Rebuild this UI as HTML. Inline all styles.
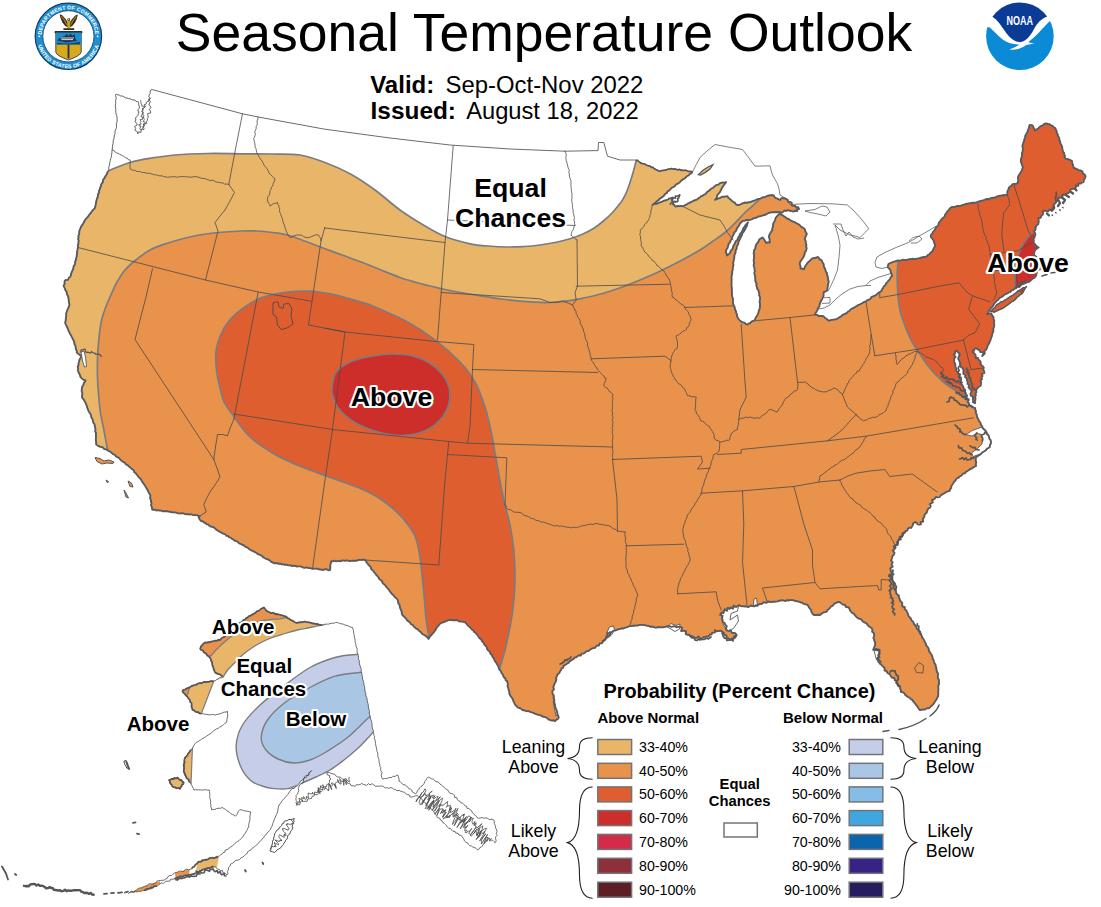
<!DOCTYPE html>
<html lang="en"><head><meta charset="utf-8"><title>Seasonal Temperature Outlook</title>
<style>
html,body{margin:0;padding:0;background:#fff;}
body{width:1101px;height:907px;overflow:hidden;}
svg{display:block;}
text{font-family:"Liberation Sans",Arial,Helvetica,sans-serif;fill:#000;}
.b{font-weight:bold;}
.halo{paint-order:stroke fill;stroke:#fff;stroke-width:4.2px;stroke-linejoin:round;}
.bd{fill:none;stroke:#4a4a4c;stroke-width:0.8;stroke-linejoin:round;stroke-linecap:round;}
.lk{fill:none;stroke:#4a4a4c;stroke-width:0.7;stroke-linejoin:round;}
.ct{fill:none;stroke:#7b7c80;stroke-width:1.7;stroke-linejoin:round;}
.cs{fill:none;stroke:#55565a;stroke-width:1.5;stroke-linejoin:round;}
.sw{stroke:#737478;stroke-width:1.5;}
.lg{font-size:14.2px;}
.cat{font-size:17.8px;text-anchor:middle;}
.br{fill:none;stroke:#222;stroke-width:1.1;}
</style></head><body>
<svg width="1101" height="907" viewBox="0 0 1101 907">
<rect width="1101" height="907" fill="#fff"/>
<defs>
<clipPath id="land"><path d="M116.0 94.0 L124.0 97.0 L133.0 100.0 L139.0 102.0 L138.0 110.0 L136.0 120.0 L135.0 130.0 L138.0 134.0 L143.0 128.0 L147.0 120.0 L150.0 111.0 L149.0 100.0 L150.0 93.0 L151.8 89.5 L242.5 113.8 L258.2 117.0 L324.8 129.2 L390.0 138.0 L450.0 145.0 L510.0 149.0 L565.0 151.2 L598.0 150.6 L598.5 142.5 L603.8 142.5 L607.5 156.2 L620.0 160.0 L636.2 160.0 L640.0 162.5 L650.0 166.2 L660.0 171.2 L670.0 168.8 L682.5 170.0 L692.5 172.0 L682.0 180.0 L672.5 187.5 L662.0 197.0 L652.5 205.0 L660.0 202.5 L672.5 197.5 L673.0 204.0 L675.0 206.2 L682.5 206.2 L691.0 202.0 L700.0 197.5 L710.0 190.0 L717.0 185.0 L722.5 182.5 L726.0 182.0 L721.0 190.0 L715.0 200.0 L721.0 197.5 L727.5 196.2 L732.0 201.0 L737.5 205.0 L744.0 203.0 L750.0 202.5 L760.0 198.8 L766.0 196.5 L772.5 195.0 L776.0 198.0 L780.0 200.0 L784.0 198.5 L787.5 200.0 L792.0 205.0 L799.0 209.0 L797.0 211.5 L790.0 210.5 L783.0 211.5 L780.0 212.5 L770.0 212.5 L760.0 216.2 L752.0 219.5 L747.0 219.8 L742.7 220.8 L739.7 224.5 L736.7 229.0 L733.7 234.5 L730.7 240.4 L728.0 246.5 L725.7 252.4 L727.0 255.5 L730.2 252.4 L733.2 246.5 L736.4 240.8 L739.4 235.4 L742.4 230.4 L745.0 226.2 L747.8 222.3 L746.0 227.5 L743.5 232.0 L741.0 236.9 L738.5 242.0 L736.5 247.5 L735.0 253.5 L733.7 260.0 L732.7 268.5 L731.8 276.0 L731.5 284.6 L732.5 297.0 L733.8 305.8 L735.0 309.5 L737.0 316.0 L740.0 320.8 L747.5 324.5 L755.0 319.5 L758.5 313.0 L760.0 307.0 L760.0 297.0 L757.0 287.0 L755.0 277.5 L753.8 260.0 L754.0 252.0 L756.0 245.0 L759.0 240.0 L762.5 237.5 L766.0 243.0 L770.0 242.5 L769.0 236.0 L772.5 230.0 L773.0 225.0 L775.0 220.0 L777.0 216.0 L780.0 213.8 L788.7 219.0 L797.5 223.9 L804.7 229.3 L806.9 233.7 L804.7 238.0 L806.9 248.2 L803.3 257.0 L799.7 262.8 L800.4 268.6 L804.0 269.3 L807.7 262.8 L812.0 258.4 L817.8 257.0 L822.2 261.3 L825.1 268.6 L828.0 277.3 L828.8 281.7 L827.3 290.4 L823.7 291.9 L822.9 297.7 L820.0 303.5 L817.8 309.4 L814.9 314.5 L819.0 316.0 L823.7 316.6 L828.0 320.3 L835.3 319.5 L845.5 313.7 L855.7 306.4 L865.9 301.4 L873.2 296.3 L880.4 291.9 L886.3 283.2 L892.1 275.9 L890.6 270.1 L887.7 267.1 L888.4 264.2 L895.0 261.3 L897.9 260.6 L911.0 259.1 L918.3 258.4 L925.6 257.0 L932.8 251.1 L935.0 245.3 L932.8 239.5 L930.6 236.6 L932.8 232.2 L937.2 226.4 L940.0 221.3 L943.5 217.5 L947.0 212.0 L951.0 207.5 L964.0 204.7 L977.2 202.0 L992.0 198.0 L1007.4 194.1 L1008.7 187.7 L1013.8 183.9 L1017.6 183.2 L1018.3 176.8 L1022.7 167.9 L1020.8 160.2 L1022.7 151.2 L1022.7 144.8 L1026.6 133.3 L1029.8 125.0 L1033.0 125.6 L1034.9 130.7 L1039.5 127.2 L1044.5 123.7 L1049.6 124.3 L1055.4 128.2 L1058.6 137.1 L1062.4 148.7 L1065.6 158.9 L1072.0 160.8 L1074.0 167.9 L1077.8 169.8 L1081.0 170.4 L1085.5 176.2 L1083.5 180.0 L1078.0 185.5 L1072.5 189.2 L1067.9 192.8 L1064.2 194.7 L1060.6 197.4 L1057.0 200.0 L1055.0 204.0 L1051.4 210.3 L1045.9 211.2 L1042.2 212.0 L1043.1 214.9 L1038.5 218.5 L1037.6 224.0 L1035.8 229.5 L1034.4 233.2 L1034.9 237.8 L1033.0 242.4 L1036.7 246.1 L1038.5 247.4 L1034.9 250.6 L1033.9 255.2 L1036.5 257.0 L1039.0 263.0 L1042.0 268.5 L1038.0 270.0 L1036.8 274.0 L1031.6 279.9 L1025.0 283.5 L1016.2 287.9 L1007.4 293.0 L998.7 298.9 L994.0 304.0 L989.9 309.9 L986.9 314.3 L991.3 313.6 L993.5 317.0 L994.3 320.9 L994.0 327.0 L992.8 332.6 L991.0 338.0 L988.4 344.4 L985.5 350.0 L982.5 356.0 L983.5 353.2 L980.0 350.0 L976.0 348.2 L972.2 350.8 L975.5 356.0 L979.8 360.8 L982.0 365.0 L983.5 369.5 L982.5 376.0 L981.0 382.0 L978.5 387.0 L976.0 392.0 L975.0 398.0 L974.8 403.2 L972.5 399.0 L971.0 392.0 L969.0 387.0 L967.2 382.0 L965.5 377.0 L963.5 372.0 L961.5 367.0 L959.8 362.0 L959.0 357.0 L958.5 352.0 L956.5 350.5 L954.8 353.2 L954.2 362.0 L955.5 367.0 L957.2 372.0 L959.0 377.0 L961.0 382.0 L963.0 387.0 L964.8 392.0 L966.5 397.5 L968.5 403.2 L970.5 405.5 L972.2 407.0 L974.8 408.2 L976.5 414.0 L978.5 419.5 L982.0 426.0 L986.0 432.0 L989.0 437.0 L991.0 442.0 L989.8 447.0 L983.0 452.0 L976.0 457.0 L976.0 465.8 L966.0 472.0 L956.0 479.5 L952.0 485.0 L949.8 490.8 L943.0 494.0 L936.0 497.0 L931.0 503.0 L927.2 509.5 L924.0 517.0 L921.0 524.0 L915.0 522.5 L908.0 529.0 L902.5 535.0 L898.0 541.0 L895.0 547.5 L892.5 556.0 L891.2 565.0 L891.5 573.0 L892.5 580.0 L896.0 590.0 L900.0 600.0 L905.0 609.0 L910.0 617.5 L915.0 625.0 L920.0 632.5 L925.0 642.5 L930.0 652.5 L933.5 660.0 L936.2 667.5 L938.0 675.0 L938.8 682.5 L938.5 690.0 L937.5 697.5 L934.0 703.0 L930.0 707.5 L925.0 709.5 L920.0 710.0 L916.0 705.0 L912.5 700.0 L907.0 696.0 L902.5 692.5 L898.5 686.0 L895.0 680.0 L891.0 676.0 L887.5 672.5 L882.0 666.0 L877.5 660.0 L880.0 654.0 L879.5 650.0 L873.5 650.0 L875.0 642.5 L874.0 636.0 L872.5 630.0 L869.0 626.0 L865.0 622.5 L860.0 619.0 L855.0 615.0 L850.0 610.0 L845.0 605.0 L841.0 603.0 L837.5 602.5 L833.5 604.5 L830.0 607.5 L825.0 612.0 L820.0 615.0 L816.0 615.0 L812.5 613.8 L810.0 609.0 L807.5 605.0 L803.5 603.5 L800.0 602.5 L795.0 601.0 L790.0 600.0 L784.0 600.5 L777.5 601.2 L771.0 602.0 L765.0 602.5 L759.0 604.5 L752.5 606.2 L745.0 606.5 L737.5 606.2 L731.0 608.0 L725.0 610.0 L721.0 612.5 L720.0 615.0 L722.5 620.0 L725.0 625.0 L727.5 630.0 L732.0 632.5 L736.2 635.0 L734.0 638.5 L730.0 640.0 L726.0 636.0 L722.5 632.5 L718.5 631.0 L715.0 630.0 L712.5 633.0 L710.0 635.0 L705.0 636.5 L700.0 637.5 L693.5 636.5 L687.5 635.0 L683.5 631.0 L680.0 627.5 L675.0 626.5 L670.0 626.2 L662.0 627.0 L655.0 627.5 L648.5 626.0 L642.5 625.0 L636.0 625.5 L630.0 626.2 L625.0 627.5 L620.0 628.8 L616.0 630.0 L612.5 631.2 L607.5 637.0 L602.5 642.5 L596.0 646.5 L590.0 650.0 L583.5 653.5 L577.5 656.2 L571.0 660.5 L565.0 665.0 L561.0 670.0 L557.5 675.0 L554.5 684.0 L552.5 692.5 L553.5 699.0 L555.0 705.0 L557.0 711.0 L558.8 717.5 L555.0 721.2 L544.0 717.0 L532.5 712.5 L525.0 710.5 L517.5 707.5 L513.5 701.5 L510.0 695.0 L508.5 688.5 L507.5 682.5 L503.5 676.0 L500.0 670.0 L495.0 661.0 L490.0 652.5 L484.0 643.5 L477.5 635.0 L471.0 628.5 L465.0 622.5 L457.5 620.5 L450.0 620.0 L445.0 621.5 L440.0 623.8 L434.5 631.0 L428.8 638.8 L422.0 633.5 L415.0 627.5 L408.5 621.5 L402.5 615.0 L400.0 607.5 L397.5 600.0 L391.0 592.5 L385.0 585.0 L378.5 577.5 L372.5 570.0 L368.5 565.0 L365.0 560.0 L331.2 561.2 L330.0 570.0 L312.5 568.8 L272.5 562.5 L236.0 541.0 L200.0 520.0 L198.8 517.5 L200.0 515.8 L152.0 509.5 L151.0 502.0 L150.0 494.5 L146.5 488.0 L142.5 482.0 L137.5 475.5 L132.5 469.5 L125.0 463.0 L117.5 457.0 L112.0 453.0 L106.2 449.5 L101.0 447.0 L96.2 444.5 L96.0 436.0 L95.0 427.0 L92.0 418.5 L89.2 412.0 L86.3 405.2 L81.9 396.4 L81.9 387.7 L85.6 380.4 L80.5 377.5 L77.6 370.2 L79.0 361.5 L81.2 355.7 L76.8 352.8 L75.4 345.5 L72.5 338.2 L69.6 332.4 L65.2 322.2 L66.6 312.0 L69.6 304.7 L68.1 296.0 L63.7 285.8 L65.2 280.0 L68.0 280.0 L71.0 275.0 L73.5 267.5 L76.0 260.0 L77.0 252.5 L78.0 245.0 L78.5 237.5 L79.5 230.0 L82.0 225.0 L85.0 220.0 L90.0 214.0 L95.0 207.5 L97.5 197.5 L100.0 187.5 L104.0 179.0 L108.0 171.0 L110.0 162.0 L112.0 152.5 L112.5 145.0 L114.0 137.5 L115.5 130.0 L116.5 125.0 L117.0 120.0 L116.0 112.5 L115.5 105.0Z"/><path d="M990.6 311.4 L998.7 303.6 L1008.9 297.7 L1019.2 290.4 L1026.5 286.5 L1023.0 292.6 L1014.0 300.3 L1003.5 307.8 L994.5 312.3Z"/></clipPath>
<clipPath id="ak"><path d="M200.0 648.8 L202.0 645.0 L205.0 642.5 L212.0 641.5 L220.0 640.0 L227.5 634.0 L235.0 627.5 L241.0 622.0 L247.5 617.5 L254.0 613.5 L260.0 610.0 L263.8 607.5 L266.5 610.5 L270.0 612.5 L277.5 614.0 L285.0 616.2 L290.0 619.5 L295.0 622.5 L302.5 622.0 L310.0 622.5 L316.0 624.0 L322.5 625.0 L330.0 623.5 L337.5 622.5 L345.0 625.0 L352.5 627.5 L375.0 740.0 L382.7 779.0 L391.8 777.2 L398.2 775.4 L399.0 780.9 L406.3 786.3 L415.4 793.6 L422.7 784.5 L428.1 777.2 L433.6 779.0 L442.7 786.3 L451.7 793.6 L460.8 802.7 L469.9 809.9 L477.2 817.2 L493.5 819.9 L497.2 831.7 L495.3 842.6 L486.3 837.2 L482.6 846.3 L477.2 849.9 L468.1 844.5 L460.8 835.4 L451.7 829.9 L442.7 822.7 L433.6 811.8 L424.5 802.7 L417.2 795.4 L411.8 797.2 L402.7 791.8 L393.6 789.0 L380.9 786.3 L370.0 784.5 L361.8 783.6 L353.1 785.8 L346.0 781.0 L340.0 777.0 L333.0 774.0 L326.9 772.7 L331.3 779.2 L327.0 785.0 L322.6 790.1 L314.0 796.0 L305.1 801.0 L296.4 805.4 L297.5 794.0 L300.8 783.6 L306.0 777.0 L311.7 770.5 L305.0 777.0 L300.8 781.4 L294.0 788.0 L287.7 794.5 L283.0 800.0 L279.0 805.4 L278.0 810.0 L276.8 814.1 L273.5 822.0 L270.3 829.4 L264.0 837.0 L257.2 844.6 L250.5 850.0 L244.1 855.5 L237.5 860.0 L231.0 864.2 L228.5 870.0 L226.7 875.1 L222.3 870.8 L213.6 866.4 L202.7 869.9 L191.8 874.3 L174.4 878.6 L156.9 886.0 L143.9 890.4 L128.6 893.4 L139.5 888.2 L150.4 883.9 L165.6 879.5 L174.4 873.0 L191.8 868.6 L198.3 862.0 L209.2 858.6 L218.0 856.8 L231.0 846.8 L241.9 838.1 L248.5 827.2 L250.7 811.9 L239.8 809.7 L235.4 816.3 L222.3 807.6 L211.4 809.7 L209.2 790.0 L194.0 790.0 L190.0 782.5 L186.0 776.5 L183.8 770.0 L184.0 763.5 L185.0 757.5 L188.0 753.5 L191.2 750.0 L193.5 746.0 L196.2 742.5 L200.5 740.0 L205.0 737.5 L210.0 734.0 L215.0 730.0 L221.0 726.5 L226.2 722.5 L227.5 717.0 L227.5 711.2 L221.0 713.5 L215.0 715.0 L208.0 714.5 L201.2 713.8 L196.5 712.0 L192.5 710.0 L191.5 705.0 L190.0 700.0 L186.0 695.5 L182.5 691.2 L186.5 688.5 L190.0 687.0 L197.5 683.8 L206.0 682.0 L213.8 681.2 L218.0 679.0 L222.5 676.2 L218.5 674.0 L215.0 672.5 L212.5 665.0 L210.0 657.5 L205.0 653.0ZM168.8 780.0 L177.5 777.5 L183.8 782.5 L180.0 788.8 L172.5 786.2ZM270.3 851.2 L274.6 833.7 L285.5 820.6 L294.2 818.5 L292.1 829.4 L283.3 844.6 L274.6 852.5ZM124.0 761.0 L126.0 760.5 L128.0 765.0 L129.5 769.0 L127.0 768.0 L125.0 764.5Z"/></clipPath>
<clipPath id="filled"><path d="M100.0 176.0 C101.3 175.2 103.0 173.2 108.0 171.0 C113.0 168.8 122.7 164.7 130.0 162.5 C137.3 160.3 144.5 159.2 152.0 158.0 C159.5 156.8 165.7 155.8 175.0 155.0 C184.3 154.2 196.8 153.7 208.0 153.5 C219.2 153.3 231.8 153.7 242.5 153.8 C253.2 153.8 262.4 153.8 272.0 154.0 C281.6 154.2 291.2 153.6 300.0 155.0 C308.8 156.4 316.7 159.4 325.0 162.5 C333.3 165.6 341.7 169.2 350.0 173.8 C358.3 178.3 366.7 184.0 375.0 190.0 C383.3 196.0 391.7 204.0 400.0 210.0 C408.3 216.0 417.5 221.6 425.0 226.0 C432.5 230.4 437.5 233.5 445.0 236.5 C452.5 239.5 462.8 242.2 470.0 243.8 C477.2 245.3 481.8 245.5 488.0 246.0 C494.2 246.5 501.5 246.9 507.5 247.0 C513.5 247.1 518.6 246.8 524.0 246.5 C529.4 246.2 534.8 245.7 540.0 245.0 C545.2 244.3 550.0 243.5 555.0 242.5 C560.0 241.5 565.3 240.2 570.0 238.8 C574.7 237.3 578.8 235.9 583.0 234.0 C587.2 232.1 591.5 229.8 595.0 227.5 C598.5 225.2 601.1 223.0 604.0 220.5 C606.9 218.0 610.2 214.9 612.5 212.5 C614.8 210.1 616.3 208.1 618.0 206.0 C619.7 203.9 621.0 202.5 622.5 200.0 C624.0 197.5 625.8 193.9 627.0 191.0 C628.2 188.1 628.9 185.8 630.0 182.5 C631.1 179.2 632.5 174.7 633.5 171.0 C634.5 167.3 635.5 164.0 636.2 160.5 C637.0 157.0 637.7 151.8 638.0 150.0 L640 60 L1101 60 L1101 907 L0 907 L0 176 Z"/></clipPath>
<path id="sealTop" d="M41.5 36.3 A26.9 26.9 0 0 1 95.3 36.3"/>
<path id="sealBot" d="M36.6 36.3 A31.8 31.8 0 0 0 100.2 36.3"/>
</defs>
<g clip-path="url(#land)">
<rect x="50" y="80" width="1051" height="660" fill="#E9B569"/>
<path d="M100.0 176.0 C101.3 175.2 103.0 173.2 108.0 171.0 C113.0 168.8 122.7 164.7 130.0 162.5 C137.3 160.3 144.5 159.2 152.0 158.0 C159.5 156.8 165.7 155.8 175.0 155.0 C184.3 154.2 196.8 153.7 208.0 153.5 C219.2 153.3 231.8 153.7 242.5 153.8 C253.2 153.8 262.4 153.8 272.0 154.0 C281.6 154.2 291.2 153.6 300.0 155.0 C308.8 156.4 316.7 159.4 325.0 162.5 C333.3 165.6 341.7 169.2 350.0 173.8 C358.3 178.3 366.7 184.0 375.0 190.0 C383.3 196.0 391.7 204.0 400.0 210.0 C408.3 216.0 417.5 221.6 425.0 226.0 C432.5 230.4 437.5 233.5 445.0 236.5 C452.5 239.5 462.8 242.2 470.0 243.8 C477.2 245.3 481.8 245.5 488.0 246.0 C494.2 246.5 501.5 246.9 507.5 247.0 C513.5 247.1 518.6 246.8 524.0 246.5 C529.4 246.2 534.8 245.7 540.0 245.0 C545.2 244.3 550.0 243.5 555.0 242.5 C560.0 241.5 565.3 240.2 570.0 238.8 C574.7 237.3 578.8 235.9 583.0 234.0 C587.2 232.1 591.5 229.8 595.0 227.5 C598.5 225.2 601.1 223.0 604.0 220.5 C606.9 218.0 610.2 214.9 612.5 212.5 C614.8 210.1 616.3 208.1 618.0 206.0 C619.7 203.9 621.0 202.5 622.5 200.0 C624.0 197.5 625.8 193.9 627.0 191.0 C628.2 188.1 628.9 185.8 630.0 182.5 C631.1 179.2 632.5 174.7 633.5 171.0 C634.5 167.3 635.5 164.0 636.2 160.5 C637.0 157.0 637.7 151.8 638.0 150.0 L640 60 L60 60 L60 180 Z" fill="#fff"/>
<path d="M110.0 462.0 C109.6 459.9 108.5 454.9 107.5 449.5 C106.5 444.1 104.9 435.6 103.8 429.5 C102.6 423.4 101.3 418.4 100.5 413.0 C99.7 407.6 99.2 402.8 98.8 397.0 C98.2 391.2 97.7 384.2 97.5 378.0 C97.3 371.8 97.3 365.8 97.5 359.5 C97.7 353.2 98.1 346.2 98.8 340.0 C99.4 333.8 100.2 327.2 101.2 322.0 C102.3 316.8 103.5 313.2 105.0 309.0 C106.5 304.8 108.1 301.3 110.0 297.0 C111.9 292.7 114.0 287.5 116.5 283.0 C119.0 278.5 121.7 273.9 125.0 270.0 C128.3 266.1 132.3 262.8 136.5 259.5 C140.7 256.2 144.8 252.8 150.0 250.0 C155.2 247.2 161.8 245.1 168.0 243.0 C174.2 240.9 181.2 239.0 187.5 237.5 C193.8 236.0 199.8 234.9 206.0 234.0 C212.2 233.1 219.2 232.5 225.0 232.0 C230.8 231.5 235.6 231.2 241.0 231.0 C246.4 230.8 252.2 230.8 257.5 231.0 C262.8 231.2 267.5 231.8 272.5 232.5 C277.5 233.2 281.9 233.5 287.5 235.0 C293.1 236.5 299.8 239.2 306.0 241.5 C312.2 243.8 318.8 246.4 325.0 248.8 C331.2 251.1 337.2 253.2 343.5 255.5 C349.8 257.8 356.2 260.1 362.5 262.5 C368.8 264.9 374.8 267.5 381.0 270.0 C387.2 272.5 393.5 275.2 400.0 277.5 C406.5 279.8 412.5 281.5 420.0 283.5 C427.5 285.5 437.8 287.9 445.0 289.5 C452.2 291.1 457.2 291.9 463.5 293.0 C469.8 294.1 476.2 295.2 482.5 296.2 C488.8 297.2 494.8 298.2 501.0 299.0 C507.2 299.8 514.3 300.7 520.0 301.2 C525.7 301.8 530.0 302.0 535.0 302.2 C540.0 302.5 545.0 302.7 550.0 302.5 C555.0 302.3 560.0 301.9 565.0 301.2 C570.0 300.6 575.0 299.7 580.0 298.8 C585.0 297.8 590.0 296.8 595.0 295.5 C600.0 294.2 605.0 292.8 610.0 291.2 C615.0 289.7 620.0 287.9 625.0 286.0 C630.0 284.1 635.0 282.1 640.0 280.0 C645.0 277.9 650.0 275.8 655.0 273.5 C660.0 271.2 665.0 268.8 670.0 266.2 C675.0 263.8 680.0 261.2 685.0 258.5 C690.0 255.8 695.4 252.8 700.0 250.0 C704.6 247.2 708.3 244.4 712.5 241.5 C716.7 238.6 721.2 235.6 725.0 232.5 C728.8 229.4 731.7 226.3 735.0 223.0 C738.3 219.7 742.1 215.3 745.0 212.5 C747.9 209.7 750.0 208.3 752.5 206.0 C755.0 203.7 757.4 201.2 760.0 198.8 C762.6 196.2 765.3 193.6 768.0 191.0 C770.7 188.4 774.7 184.3 776.0 183.0 L800 150 L1101 150 L1101 800 L110 800 Z" fill="#E8924B"/>
<path d="M258.2 299.1 C263.1 296.9 267.9 295.9 272.8 294.7 C277.7 293.5 281.2 292.7 287.3 292.1 C293.4 291.5 301.9 290.8 309.2 291.1 C316.5 291.4 324.9 292.9 331.0 294.0 C337.1 295.1 340.8 296.4 345.6 297.7 C350.4 299.0 355.1 300.2 360.0 301.8 C364.9 303.4 367.1 303.6 375.0 307.0 C382.9 310.4 397.3 316.4 407.5 322.0 C417.7 327.6 427.5 334.1 436.2 340.8 C445.0 347.4 453.5 355.1 460.0 362.0 C466.5 368.9 470.8 374.5 475.0 382.0 C479.2 389.5 482.3 398.7 485.0 407.0 C487.7 415.3 489.2 422.0 491.2 432.0 C493.3 442.0 495.4 455.7 497.5 467.0 C499.6 478.3 501.7 490.3 503.8 500.0 C505.8 509.7 508.3 516.7 510.0 525.0 C511.7 533.3 512.9 540.8 513.8 550.0 C514.6 559.2 515.2 569.6 515.0 580.0 C514.8 590.4 514.0 601.7 512.5 612.5 C511.0 623.3 508.3 635.8 506.2 645.0 C504.2 654.2 502.0 660.0 500.0 667.5 C498.0 675.0 506.0 691.2 494.0 690.0 C482.0 688.8 438.9 668.5 428.0 660.0 C417.1 651.5 429.0 645.4 428.8 638.8 C428.5 632.1 427.1 627.7 426.2 620.0 C425.4 612.3 424.7 601.9 423.8 592.5 C422.8 583.1 421.7 570.9 420.8 563.7 C419.9 556.5 419.6 553.8 418.6 549.2 C417.6 544.6 416.8 540.1 415.0 536.0 C413.2 531.9 410.4 528.0 407.7 524.4 C405.0 520.8 402.4 517.6 399.0 514.2 C395.6 510.8 391.2 507.0 387.3 504.0 C383.4 501.0 380.1 498.5 375.7 496.0 C371.3 493.5 366.4 491.1 361.1 488.8 C355.8 486.5 349.6 484.4 343.7 482.2 C337.8 480.0 332.8 478.4 325.5 475.7 C318.2 473.0 308.4 469.7 300.0 466.2 C291.6 462.7 283.3 459.4 275.0 454.5 C266.7 449.6 257.1 443.7 250.0 437.0 C242.9 430.3 236.8 420.3 232.5 414.5 C228.2 408.7 226.0 406.2 224.0 402.0 C222.0 397.8 221.6 394.4 220.4 389.4 C219.2 384.4 217.4 378.2 216.7 371.9 C216.0 365.6 215.4 357.6 216.0 351.5 C216.6 345.4 218.2 340.6 220.4 335.5 C222.6 330.4 225.2 325.5 229.1 320.9 C233.0 316.3 238.8 311.4 243.7 307.8 C248.5 304.2 253.3 301.3 258.2 299.1Z" fill="#DF5E30"/>
<path d="M897.9 250.0 C897.9 251.8 898.0 256.1 897.9 260.6 C897.8 265.2 897.2 271.6 897.2 277.3 C897.2 283.0 897.4 289.2 897.9 294.8 C898.4 300.4 899.1 306.1 900.1 310.8 C901.1 315.5 902.6 319.1 904.0 323.0 C905.4 326.9 907.0 331.1 908.5 334.5 C910.0 337.9 911.3 340.6 913.0 343.5 C914.7 346.4 916.6 349.1 918.5 352.0 C920.4 354.9 922.4 358.1 924.5 361.0 C926.6 363.9 928.9 367.0 931.0 369.5 C933.1 372.0 934.9 373.9 937.0 376.0 C939.1 378.1 941.4 380.2 943.5 382.0 C945.6 383.8 947.4 385.0 949.5 386.5 C951.6 388.0 953.2 389.0 956.0 390.8 C958.8 392.5 962.7 395.0 966.0 397.0 C969.3 399.0 972.0 400.7 976.0 403.0 C980.0 405.3 987.7 409.7 990.0 411.0 L1101 420 L1101 100 L897.9 100 Z" fill="#DF5E30"/>
<path d="M332.0 387.0 C332.6 383.2 333.2 376.2 336.2 372.0 C339.2 367.8 344.4 364.6 350.0 362.0 C355.6 359.4 363.1 357.8 370.0 356.5 C376.9 355.2 384.2 354.1 391.2 354.0 C398.3 353.9 406.0 354.2 412.5 355.8 C419.0 357.3 425.0 360.1 430.0 363.2 C435.0 366.4 439.2 370.1 442.5 374.5 C445.8 378.9 448.5 384.5 449.5 389.5 C450.5 394.5 449.9 399.9 448.8 404.5 C447.6 409.1 445.6 413.0 442.5 417.0 C439.4 421.0 435.0 425.3 430.0 428.2 C425.0 431.2 418.8 433.4 412.5 434.5 C406.2 435.6 399.6 435.8 392.5 435.0 C385.4 434.2 377.1 432.1 370.0 429.5 C362.9 426.9 355.4 423.2 350.0 419.5 C344.6 415.8 340.4 411.2 337.5 407.0 C334.6 402.8 333.4 397.8 332.5 394.5 C331.6 391.2 331.4 390.8 332.0 387.0Z" fill="#CD2E29"/>
<path d="M1040.0 224.0 C1036.0 224.0 1038.0 227.8 1036.0 230.0 C1034.0 232.2 1030.3 234.6 1028.0 237.3 C1025.7 240.0 1023.8 242.9 1022.1 246.1 C1020.4 249.3 1018.8 253.0 1017.7 256.4 C1016.6 259.8 1016.0 263.0 1015.5 266.7 C1015.0 270.4 1014.7 274.5 1014.8 278.4 C1014.9 282.3 1013.7 287.2 1016.2 290.0 C1018.7 292.8 1022.7 296.7 1030.0 295.0 C1037.3 293.3 1055.0 290.8 1060.0 280.0 C1065.0 269.2 1063.3 239.3 1060.0 230.0 C1056.7 220.7 1044.0 224.0 1040.0 224.0Z" fill="#CD2E29"/>
<path class="ct" d="M100.0 176.0 C101.3 175.2 103.0 173.2 108.0 171.0 C113.0 168.8 122.7 164.7 130.0 162.5 C137.3 160.3 144.5 159.2 152.0 158.0 C159.5 156.8 165.7 155.8 175.0 155.0 C184.3 154.2 196.8 153.7 208.0 153.5 C219.2 153.3 231.8 153.7 242.5 153.8 C253.2 153.8 262.4 153.8 272.0 154.0 C281.6 154.2 291.2 153.6 300.0 155.0 C308.8 156.4 316.7 159.4 325.0 162.5 C333.3 165.6 341.7 169.2 350.0 173.8 C358.3 178.3 366.7 184.0 375.0 190.0 C383.3 196.0 391.7 204.0 400.0 210.0 C408.3 216.0 417.5 221.6 425.0 226.0 C432.5 230.4 437.5 233.5 445.0 236.5 C452.5 239.5 462.8 242.2 470.0 243.8 C477.2 245.3 481.8 245.5 488.0 246.0 C494.2 246.5 501.5 246.9 507.5 247.0 C513.5 247.1 518.6 246.8 524.0 246.5 C529.4 246.2 534.8 245.7 540.0 245.0 C545.2 244.3 550.0 243.5 555.0 242.5 C560.0 241.5 565.3 240.2 570.0 238.8 C574.7 237.3 578.8 235.9 583.0 234.0 C587.2 232.1 591.5 229.8 595.0 227.5 C598.5 225.2 601.1 223.0 604.0 220.5 C606.9 218.0 610.2 214.9 612.5 212.5 C614.8 210.1 616.3 208.1 618.0 206.0 C619.7 203.9 621.0 202.5 622.5 200.0 C624.0 197.5 625.8 193.9 627.0 191.0 C628.2 188.1 628.9 185.8 630.0 182.5 C631.1 179.2 632.5 174.7 633.5 171.0 C634.5 167.3 635.5 164.0 636.2 160.5 C637.0 157.0 637.7 151.8 638.0 150.0"/>
<path class="ct" d="M110.0 462.0 C109.6 459.9 108.5 454.9 107.5 449.5 C106.5 444.1 104.9 435.6 103.8 429.5 C102.6 423.4 101.3 418.4 100.5 413.0 C99.7 407.6 99.2 402.8 98.8 397.0 C98.2 391.2 97.7 384.2 97.5 378.0 C97.3 371.8 97.3 365.8 97.5 359.5 C97.7 353.2 98.1 346.2 98.8 340.0 C99.4 333.8 100.2 327.2 101.2 322.0 C102.3 316.8 103.5 313.2 105.0 309.0 C106.5 304.8 108.1 301.3 110.0 297.0 C111.9 292.7 114.0 287.5 116.5 283.0 C119.0 278.5 121.7 273.9 125.0 270.0 C128.3 266.1 132.3 262.8 136.5 259.5 C140.7 256.2 144.8 252.8 150.0 250.0 C155.2 247.2 161.8 245.1 168.0 243.0 C174.2 240.9 181.2 239.0 187.5 237.5 C193.8 236.0 199.8 234.9 206.0 234.0 C212.2 233.1 219.2 232.5 225.0 232.0 C230.8 231.5 235.6 231.2 241.0 231.0 C246.4 230.8 252.2 230.8 257.5 231.0 C262.8 231.2 267.5 231.8 272.5 232.5 C277.5 233.2 281.9 233.5 287.5 235.0 C293.1 236.5 299.8 239.2 306.0 241.5 C312.2 243.8 318.8 246.4 325.0 248.8 C331.2 251.1 337.2 253.2 343.5 255.5 C349.8 257.8 356.2 260.1 362.5 262.5 C368.8 264.9 374.8 267.5 381.0 270.0 C387.2 272.5 393.5 275.2 400.0 277.5 C406.5 279.8 412.5 281.5 420.0 283.5 C427.5 285.5 437.8 287.9 445.0 289.5 C452.2 291.1 457.2 291.9 463.5 293.0 C469.8 294.1 476.2 295.2 482.5 296.2 C488.8 297.2 494.8 298.2 501.0 299.0 C507.2 299.8 514.3 300.7 520.0 301.2 C525.7 301.8 530.0 302.0 535.0 302.2 C540.0 302.5 545.0 302.7 550.0 302.5 C555.0 302.3 560.0 301.9 565.0 301.2 C570.0 300.6 575.0 299.7 580.0 298.8 C585.0 297.8 590.0 296.8 595.0 295.5 C600.0 294.2 605.0 292.8 610.0 291.2 C615.0 289.7 620.0 287.9 625.0 286.0 C630.0 284.1 635.0 282.1 640.0 280.0 C645.0 277.9 650.0 275.8 655.0 273.5 C660.0 271.2 665.0 268.8 670.0 266.2 C675.0 263.8 680.0 261.2 685.0 258.5 C690.0 255.8 695.4 252.8 700.0 250.0 C704.6 247.2 708.3 244.4 712.5 241.5 C716.7 238.6 721.2 235.6 725.0 232.5 C728.8 229.4 731.7 226.3 735.0 223.0 C738.3 219.7 742.1 215.3 745.0 212.5 C747.9 209.7 750.0 208.3 752.5 206.0 C755.0 203.7 757.4 201.2 760.0 198.8 C762.6 196.2 765.3 193.6 768.0 191.0 C770.7 188.4 774.7 184.3 776.0 183.0"/>
<path class="ct" d="M258.2 299.1 C263.1 296.9 267.9 295.9 272.8 294.7 C277.7 293.5 281.2 292.7 287.3 292.1 C293.4 291.5 301.9 290.8 309.2 291.1 C316.5 291.4 324.9 292.9 331.0 294.0 C337.1 295.1 340.8 296.4 345.6 297.7 C350.4 299.0 355.1 300.2 360.0 301.8 C364.9 303.4 367.1 303.6 375.0 307.0 C382.9 310.4 397.3 316.4 407.5 322.0 C417.7 327.6 427.5 334.1 436.2 340.8 C445.0 347.4 453.5 355.1 460.0 362.0 C466.5 368.9 470.8 374.5 475.0 382.0 C479.2 389.5 482.3 398.7 485.0 407.0 C487.7 415.3 489.2 422.0 491.2 432.0 C493.3 442.0 495.4 455.7 497.5 467.0 C499.6 478.3 501.7 490.3 503.8 500.0 C505.8 509.7 508.3 516.7 510.0 525.0 C511.7 533.3 512.9 540.8 513.8 550.0 C514.6 559.2 515.2 569.6 515.0 580.0 C514.8 590.4 514.0 601.7 512.5 612.5 C511.0 623.3 508.3 635.8 506.2 645.0 C504.2 654.2 502.0 660.0 500.0 667.5 C498.0 675.0 506.0 691.2 494.0 690.0 C482.0 688.8 438.9 668.5 428.0 660.0 C417.1 651.5 429.0 645.4 428.8 638.8 C428.5 632.1 427.1 627.7 426.2 620.0 C425.4 612.3 424.7 601.9 423.8 592.5 C422.8 583.1 421.7 570.9 420.8 563.7 C419.9 556.5 419.6 553.8 418.6 549.2 C417.6 544.6 416.8 540.1 415.0 536.0 C413.2 531.9 410.4 528.0 407.7 524.4 C405.0 520.8 402.4 517.6 399.0 514.2 C395.6 510.8 391.2 507.0 387.3 504.0 C383.4 501.0 380.1 498.5 375.7 496.0 C371.3 493.5 366.4 491.1 361.1 488.8 C355.8 486.5 349.6 484.4 343.7 482.2 C337.8 480.0 332.8 478.4 325.5 475.7 C318.2 473.0 308.4 469.7 300.0 466.2 C291.6 462.7 283.3 459.4 275.0 454.5 C266.7 449.6 257.1 443.7 250.0 437.0 C242.9 430.3 236.8 420.3 232.5 414.5 C228.2 408.7 226.0 406.2 224.0 402.0 C222.0 397.8 221.6 394.4 220.4 389.4 C219.2 384.4 217.4 378.2 216.7 371.9 C216.0 365.6 215.4 357.6 216.0 351.5 C216.6 345.4 218.2 340.6 220.4 335.5 C222.6 330.4 225.2 325.5 229.1 320.9 C233.0 316.3 238.8 311.4 243.7 307.8 C248.5 304.2 253.3 301.3 258.2 299.1Z"/>
<path class="ct" d="M897.9 250.0 C897.9 251.8 898.0 256.1 897.9 260.6 C897.8 265.2 897.2 271.6 897.2 277.3 C897.2 283.0 897.4 289.2 897.9 294.8 C898.4 300.4 899.1 306.1 900.1 310.8 C901.1 315.5 902.6 319.1 904.0 323.0 C905.4 326.9 907.0 331.1 908.5 334.5 C910.0 337.9 911.3 340.6 913.0 343.5 C914.7 346.4 916.6 349.1 918.5 352.0 C920.4 354.9 922.4 358.1 924.5 361.0 C926.6 363.9 928.9 367.0 931.0 369.5 C933.1 372.0 934.9 373.9 937.0 376.0 C939.1 378.1 941.4 380.2 943.5 382.0 C945.6 383.8 947.4 385.0 949.5 386.5 C951.6 388.0 953.2 389.0 956.0 390.8 C958.8 392.5 962.7 395.0 966.0 397.0 C969.3 399.0 972.0 400.7 976.0 403.0 C980.0 405.3 987.7 409.7 990.0 411.0"/>
<path class="ct" d="M332.0 387.0 C332.6 383.2 333.2 376.2 336.2 372.0 C339.2 367.8 344.4 364.6 350.0 362.0 C355.6 359.4 363.1 357.8 370.0 356.5 C376.9 355.2 384.2 354.1 391.2 354.0 C398.3 353.9 406.0 354.2 412.5 355.8 C419.0 357.3 425.0 360.1 430.0 363.2 C435.0 366.4 439.2 370.1 442.5 374.5 C445.8 378.9 448.5 384.5 449.5 389.5 C450.5 394.5 449.9 399.9 448.8 404.5 C447.6 409.1 445.6 413.0 442.5 417.0 C439.4 421.0 435.0 425.3 430.0 428.2 C425.0 431.2 418.8 433.4 412.5 434.5 C406.2 435.6 399.6 435.8 392.5 435.0 C385.4 434.2 377.1 432.1 370.0 429.5 C362.9 426.9 355.4 423.2 350.0 419.5 C344.6 415.8 340.4 411.2 337.5 407.0 C334.6 402.8 333.4 397.8 332.5 394.5 C331.6 391.2 331.4 390.8 332.0 387.0Z"/>
<path class="ct" d="M1040.0 224.0 C1036.0 224.0 1038.0 227.8 1036.0 230.0 C1034.0 232.2 1030.3 234.6 1028.0 237.3 C1025.7 240.0 1023.8 242.9 1022.1 246.1 C1020.4 249.3 1018.8 253.0 1017.7 256.4 C1016.6 259.8 1016.0 263.0 1015.5 266.7 C1015.0 270.4 1014.7 274.5 1014.8 278.4 C1014.9 282.3 1013.7 287.2 1016.2 290.0 C1018.7 292.8 1022.7 296.7 1030.0 295.0 C1037.3 293.3 1055.0 290.8 1060.0 280.0 C1065.0 269.2 1063.3 239.3 1060.0 230.0 C1056.7 220.7 1044.0 224.0 1040.0 224.0Z"/>
</g>
<path d="M966.0 434.8 L972.0 430.6 L982.0 427.0 L986.5 431.0 L991.2 442.0 L988.4 448.4 L981.0 453.6 L973.3 456.6 L971.5 453.2 L977.5 448.3 L982.0 444.0 L982.6 438.0 L981.0 434.2 L977.2 433.6 L972.0 436.0Z" fill="#fff" stroke="#55565a" stroke-width="0.9" stroke-linejoin="round"/>
<path d="M81.0 352.0 L84.0 351.0 L85.5 357.0 L86.5 366.5 L84.5 367.0 L82.5 361.0Z" fill="#fff" stroke="#55565a" stroke-width="0.9" stroke-linejoin="round"/>
<path d="M607.0 632.5 L609.5 627.0 L613.5 626.0 L614.5 630.0 L611.5 635.0 L608.5 637.5Z" fill="#fff" stroke="#55565a" stroke-width="0.9" stroke-linejoin="round"/>
<path d="M667.0 627.0 L671.0 623.5 L676.0 625.5 L680.0 624.0 L679.5 629.0 L675.0 631.5 L671.0 629.0Z" fill="#fff" stroke="#55565a" stroke-width="0.9" stroke-linejoin="round"/>
<path d="M753.5 606.0 L754.0 599.0 L756.5 598.0 L757.5 606.0Z" fill="#fff" stroke="#55565a" stroke-width="0.9" stroke-linejoin="round"/>
<path d="M721.5 612.5 L727.5 607.5 L738.5 606.5 L737.5 611.0 L731.0 613.5 L730.0 620.0 L737.5 615.0 L738.5 621.0 L733.5 628.5 L727.5 631.0 L723.5 625.0 L721.5 617.5Z" fill="#fff" stroke="#55565a" stroke-width="0.9" stroke-linejoin="round"/>
<path d="M874.0 650.5 L879.5 650.0 L879.0 657.0 L876.5 660.0Z" fill="#fff" stroke="#55565a" stroke-width="0.9" stroke-linejoin="round"/>
<path d="M553.5 694.0 L555.0 704.0 L557.5 714.0 L556.0 716.0 L553.8 705.0Z" fill="#fff" stroke="#55565a" stroke-width="0.9" stroke-linejoin="round"/>
<path d="M273.0 303.0 L278.0 301.5 L279.0 307.0 L283.0 308.5 L284.0 304.0 L289.0 303.5 L292.0 309.0 L291.0 316.0 L293.0 324.0 L287.0 328.0 L281.0 329.5 L277.5 325.0 L276.5 317.0 L273.0 314.5Z" fill="none" stroke="#4a4a4c" stroke-width="0.9"/>
<path d="M914.5 668.0 L919.0 662.5 L923.5 665.5 L923.0 673.0 L916.5 672.5Z" fill="none" stroke="#4a4a4c" stroke-width="0.8"/>
<path class="bd" d="M242.5 113.8 L235.5 149.0 L228.8 184.5M112.5 150.0 L114.1 150.5 L115.1 152.1 L116.5 152.9 L118.2 153.3 L119.5 154.3 L121.1 154.9 L122.6 155.6 L124.1 156.5 L125.4 157.7 L127.2 158.1 L128.2 159.6 L130.2 160.0 L130.3 161.5 L130.5 163.0 L129.7 164.5 L130.1 166.0 L130.0 167.5 L130.0 168.9 L131.7 169.8 L133.5 170.2 L135.4 170.6 L137.0 171.5 L138.6 171.5 L140.3 171.5 L141.8 172.5 L143.4 172.5 L145.0 172.6 L146.5 173.3 L148.2 173.1 L149.7 173.4 L151.3 173.8 L152.9 174.2 L154.4 174.8 L156.0 174.8 L157.7 175.3 L159.3 175.8 L161.0 175.9 L162.7 175.9 L164.2 177.0 L166.0 176.6 L167.5 177.5 L169.0 177.0 L170.5 176.8 L172.0 176.9 L173.5 176.7 L175.0 176.7 L176.5 177.2 L178.0 177.1 L179.5 176.6 L181.0 176.8 L182.5 176.6 L184.0 176.5 L185.6 177.0 L187.2 176.5 L188.8 177.2 L190.4 177.1 L192.0 177.2 L193.6 176.6 L195.2 176.7 L196.8 176.8 L198.4 177.2 L200.0 177.7 L201.5 178.3 L203.0 178.6 L204.8 178.3 L206.2 179.3 L207.7 179.7 L209.3 180.2 L210.8 180.5 L212.5 180.2 L214.0 180.9 L215.4 181.7 L216.9 182.0 L218.3 182.5 L219.9 182.3 L221.3 183.2 L222.9 182.7 L224.2 183.9 L225.7 184.2 L227.3 184.0 L228.8 184.5M228.8 184.5 L234.5 192.5 L230.0 201.0 L225.0 210.0 L220.0 216.0 L215.0 222.5 L218.0 231.0 L205.5 280.0M258.0 117.0 L258.0 118.6 L257.4 120.1 L257.0 121.7 L257.3 123.3 L257.1 125.0 L256.2 126.4 L256.2 128.0 L255.8 129.5 L255.0 130.9 L254.8 132.4 L255.3 134.1 L255.0 135.6 L254.6 137.1 L253.7 138.4 L254.0 140.0 L254.4 141.7 L254.8 143.4 L255.1 145.2 L255.0 147.0 L256.0 148.6 L256.3 150.3 L256.6 152.2 L257.4 153.8 L258.4 155.1 L258.9 156.7 L259.9 157.9 L260.5 159.4 L261.9 160.5 L262.5 162.0 L263.3 163.4 L263.8 164.9 L264.9 166.1 L265.9 167.3 L266.9 168.5 L267.6 169.9 L268.6 171.1 L268.8 172.8 L269.8 174.0 L270.9 175.1 L272.3 176.3 L273.5 177.7 L275.1 178.8 L274.4 180.2 L274.2 181.8 L273.4 183.2 L273.0 184.7 L272.6 186.2 L271.1 187.4 L271.2 189.1 L270.2 190.5 L269.8 192.1 L269.9 193.9 L269.0 195.3 L268.0 196.7 L267.5 198.3 L267.5 200.0 L267.8 201.6 L268.5 203.1 L269.6 204.4 L270.0 206.0 L271.8 204.8 L273.5 203.5 L275.6 203.3 L277.5 202.5 L277.7 204.1 L278.8 205.5 L278.9 207.2 L279.7 208.6 L279.5 210.4 L279.7 212.0 L280.5 213.5 L281.0 215.0 L281.4 216.6 L282.3 218.0 L282.6 219.6 L282.9 221.3 L283.3 222.9 L284.1 224.3 L284.5 225.9 L285.1 227.5 L285.6 229.4 L286.2 231.2 L287.1 233.0 L287.8 234.6 L288.7 236.2 L290.0 237.5 L291.9 237.3 L293.3 236.0 L295.0 235.7 L296.6 235.0 L298.3 235.0 L299.9 235.1 L301.9 235.2 L303.3 236.5 L305.0 237.2 L306.6 237.7 L308.3 237.5 L310.0 237.4 L311.9 236.3 L314.0 235.6 L315.5 234.9 L317.1 234.7 L318.6 235.1 L319.2 236.6 L320.3 237.9 L320.7 239.5 L321.2 241.0M324.8 227.5 L321.0 241.0 L312.0 301.3 L308.5 325.0M78.0 247.5 L205.5 280.0 L258.2 292.0 L312.0 301.3M152.5 268.8 L146.0 297.0 L135.0 339.5 L213.8 459.5M213.8 459.5 L217.0 468.0 L220.0 477.0 L215.0 485.0 L210.0 492.0 L206.5 498.5 L203.8 504.5 L206.2 512.0 L200.0 515.8M213.8 459.5 L215.5 447.0 L217.5 434.5 L222.5 434.5 L227.5 435.8 L230.5 427.0 L233.8 419.5M258.2 292.0 L233.8 419.5M233.8 414.0 L332.5 429.5M308.5 325.0 L345.0 332.0M324.8 228.0 L445.0 242.5M453.2 145.8 L447.5 220.0 L445.0 242.5 L441.2 292.5 L437.5 340.0M447.5 220.0 L575.0 225.5M564.8 151.0 L565.6 152.5 L566.0 154.0 L566.3 155.6 L565.8 157.3 L566.0 158.8 L566.1 160.4 L566.8 161.9 L567.1 163.5 L567.4 165.0 L567.9 166.5 L568.1 168.0 L568.9 169.4 L569.3 170.9 L568.8 172.6 L569.4 174.0 L569.3 175.8 L569.8 177.4 L570.3 179.1 L571.1 180.7 L570.8 182.5 L571.1 184.1 L570.8 185.7 L571.1 187.2 L571.2 188.8 L571.5 190.3 L571.4 191.9 L572.0 193.4 L571.9 195.0 L572.0 196.6 L572.0 198.1 L571.7 199.7 L571.8 201.3 L572.1 202.8 L572.3 204.4 L572.7 205.9 L572.4 207.5 L572.9 209.2 L573.2 210.9 L573.0 212.7 L573.7 214.3 L573.9 216.0 L574.5 217.5 L574.1 219.0 L574.0 220.6 L574.5 222.0 L574.5 223.5 L575.0 225.0 L574.1 226.6 L573.7 228.4 L573.1 230.0 L571.9 231.5 L571.5 233.3 L570.9 235.1 L572.6 236.4 L574.1 237.9 L575.5 239.0 L577.0 240.0M577.0 240.0 L577.5 286.2 L575.0 292.5 L576.2 300.0 L572.5 305.0M441.2 292.5 L540.0 298.8 L550.0 302.5 L556.0 302.5 L562.5 301.2 L568.0 303.0 L572.5 305.0 L575.0 310.0M576.2 286.2 L670.0 284.2M574.8 310.1 L576.0 311.4 L576.0 313.1 L577.0 314.5 L577.2 316.2 L578.3 317.5 L579.0 319.0 L580.0 320.2 L580.2 321.8 L580.3 323.4 L580.8 324.9 L582.2 326.0 L582.4 327.5 L583.3 329.1 L583.4 330.9 L584.1 332.6 L584.8 334.2 L585.0 336.0 L585.2 337.6 L585.6 339.1 L586.4 340.5 L587.1 341.9 L587.6 343.4 L587.3 345.1 L588.0 346.8 L588.5 348.5 L589.1 350.2 L589.7 352.0 L590.2 353.6 L589.9 355.5 L590.9 357.0 L591.2 358.8 L591.5 360.4 L592.5 361.7 L593.6 362.9 L594.2 364.4 L595.2 365.7 L596.1 367.0 L596.9 368.4 L597.6 369.9 L598.8 371.0 L599.8 372.2 L601.0 373.3 L602.0 374.5 L603.0 375.6 L604.3 376.4 L604.8 378.0 L606.4 378.8 L605.5 380.3 L605.1 381.9 L604.3 383.4 L603.9 384.9 L604.4 386.5 L605.6 387.5 L607.3 388.0 L608.1 389.4 L608.8 390.9 L610.0 391.8 L611.3 392.7 L612.4 393.8 L612.9 395.3 L612.2 396.8 L612.9 398.3 L612.7 399.8 L612.0 401.4 L612.7 402.9 L612.4 404.4 L612.3 405.9 L612.6 407.4 L612.2 409.0 L612.0 410.5 L612.4 412.0 L612.7 413.5 L612.1 415.1 L612.8 416.6 L613.0 418.1 L612.1 419.6 L612.8 421.1 L613.0 422.7 L612.3 424.2 L613.0 425.7 L612.3 427.2 L612.1 428.7 L612.8 430.3 L612.1 431.8 L612.4 433.3 L612.8 434.8 L612.9 436.4 L612.9 437.9 L612.5 439.4 L612.1 440.9 L612.5 442.4 L612.5 444.0 L612.7 445.5 L612.5 447.0 L612.4 448.6 L612.8 450.1 L612.8 451.7 L613.0 453.2 L612.3 454.8 L612.4 456.4 L612.9 457.9 L612.5 459.5M591.2 358.8 L665.0 356.2 L671.2 360.8M325.0 328.2 L345.0 332.0 L436.2 341.5 L473.8 344.5 L472.5 369.5M345.0 332.0 L332.5 429.5M472.5 369.5 L597.5 372.5M472.5 369.5 L470.0 427.0 L467.5 443.2M332.5 429.5 L448.8 441.5 L467.5 443.2 L612.5 447.0M332.5 429.5 L325.0 480.0 L312.5 568.8M448.8 441.5 L447.5 454.5 L506.8 457.8 L505.0 504.5M447.5 454.5 L445.0 480.0 L438.8 565.0M365.0 560.0 L438.8 565.0M505.0 504.5 L506.0 505.8 L506.4 507.5 L507.4 508.9 L508.8 509.6 L510.5 509.7 L511.8 510.6 L513.0 511.4 L514.7 512.3 L516.5 512.2 L518.2 512.3 L520.0 512.6 L521.9 513.1 L523.2 514.7 L525.0 515.6 L526.8 515.9 L528.4 516.7 L530.0 517.5 L531.2 518.6 L532.9 518.6 L534.4 518.8 L535.5 520.2 L537.0 520.7 L538.6 520.7 L540.1 521.5 L541.7 522.2 L543.4 522.0 L545.0 522.6 L546.7 523.2 L548.5 523.8 L550.2 524.4 L552.0 525.1 L553.5 525.7 L555.1 526.0 L556.9 525.3 L558.3 526.4 L560.0 526.1 L561.7 526.1 L563.3 526.4 L564.9 526.6 L566.4 527.2 L568.0 527.3 L569.6 527.4 L571.2 527.9 L572.8 527.4 L574.3 527.0 L575.9 527.8 L577.5 527.5 L579.1 526.7 L580.8 526.3 L582.5 525.7 L584.3 525.6 L586.0 525.2 L587.5 524.4 L589.0 524.5 L590.5 524.1 L592.0 524.3 L593.6 524.4 L595.0 523.6 L596.8 523.5 L598.5 524.0 L600.2 524.4 L602.0 524.5 L603.6 525.0 L605.3 524.9 L606.8 525.6 L608.5 525.5 L610.0 526.3 L611.5 527.0 L612.5 528.4 L614.0 529.0 L616.0 529.7 L617.5 531.3 L619.0 531.2 L620.5 531.5 L622.0 531.3 L623.5 532.0 L625.0 532.0M612.5 459.5 L616.2 492.0 L617.0 500.0 L617.5 531.2M625.0 532.0 L625.2 533.5 L624.8 535.1 L625.0 536.6 L625.8 538.1 L625.3 539.7 L625.3 541.2 L625.6 542.7 L626.6 544.2 L626.0 545.8 L626.5 547.3 L625.9 548.9 L626.6 550.4 L626.2 552.0 L626.4 553.5 L626.0 555.1 L626.0 556.6 L625.9 558.2 L625.9 559.7 L625.8 561.3 L626.1 562.8 L626.2 564.4 L625.9 565.9 L626.2 567.5 L626.5 569.1 L627.5 570.5 L627.4 572.2 L628.0 573.6 L629.1 574.9 L629.4 576.6 L630.4 578.0 L631.0 579.5 L631.5 581.1 L632.4 582.5 L633.0 584.2 L633.4 585.9 L634.7 587.2 L635.2 588.9 L635.8 590.4 L636.4 591.9 L637.2 593.3 L637.7 595.0 L637.2 596.6 L636.5 598.1 L636.3 599.7 L636.3 601.4 L635.8 602.9 L635.3 604.7 L634.8 606.5 L634.8 608.4 L633.8 610.0 L633.5 611.6 L633.5 613.3 L632.8 614.8 L632.2 616.4 L632.2 618.0 L631.8 619.7 L630.9 621.2 L630.9 623.0 L630.2 624.6 L630.0 626.2M626.2 545.8 L683.8 544.2M612.5 459.5 L701.2 456.2 L702.5 462.0 L697.5 469.0 L710.0 468.2M652.4 205.0 L652.0 206.5 L651.7 208.0 L651.4 209.5 L650.7 210.9 L651.0 212.6 L650.5 214.1 L649.8 215.5 L649.9 217.1 L649.0 218.5 L648.8 220.0 L647.5 221.0 L647.0 222.6 L645.6 223.4 L644.6 224.5 L644.1 226.1 L642.9 227.5 L641.7 229.0 L640.1 230.0 L640.4 231.6 L640.2 233.2 L639.8 234.8 L640.6 236.4 L640.4 238.0 L640.8 239.7 L641.0 241.5 L641.4 243.2 L641.1 245.1 L641.5 246.6 L643.0 247.7 L643.3 249.3 L644.0 250.7 L644.9 252.1 L646.3 253.3 L647.8 254.5 L648.6 256.3 L650.0 257.5 L651.3 258.7 L652.2 260.3 L653.9 261.1 L655.0 262.5 L656.1 263.9 L656.9 265.6 L658.6 266.4 L659.9 267.6 L661.0 269.0 L662.6 270.0 L663.8 270.9 L664.5 272.3 L665.6 273.3 L665.9 275.0 L666.9 276.1 L667.8 277.6 L669.0 279.0 L669.7 280.7 L670.2 282.5 L670.6 284.1 L670.5 285.7 L671.4 287.2 L671.2 288.9 L671.5 290.5 L672.0 292.1 L672.3 293.7 L672.0 295.4 L672.4 297.1 L674.0 297.8 L675.1 299.0 L676.2 300.3 L677.7 301.0 L678.9 302.1 L679.9 303.4 L681.4 304.2 L682.9 305.0 L684.2 306.0 L685.0 307.5 L685.4 309.1 L686.6 310.3 L687.8 311.5 L688.7 312.9 L688.9 314.7 L690.3 316.1 L690.4 317.9 L691.1 319.5 L690.4 321.3 L689.4 323.0 L689.2 325.1 L688.4 326.7 L686.7 327.7 L686.2 329.5 L685.1 330.6 L683.5 331.0 L682.1 331.8 L681.0 333.1 L679.6 334.2 L678.0 335.1 L676.2 335.8 L676.1 337.6 L677.0 339.2 L677.0 341.0 L677.5 342.5 L677.5 344.0 L677.5 345.5 L677.5 347.0 L677.0 348.5 L675.4 349.3 L674.5 350.5 L673.9 351.9 L672.6 353.4 L672.1 355.3 L671.4 357.0 L671.3 358.7 L670.9 360.3 L670.8 362.0 L670.4 363.7 L670.3 365.3 L670.0 367.0 L670.7 368.6 L670.9 370.3 L671.6 371.8 L671.9 373.5 L672.9 374.9 L673.2 376.6 L674.6 377.8 L674.9 379.6 L676.4 380.6 L677.3 382.2 L678.4 383.6 L680.1 384.4 L681.5 385.5 L682.5 387.0 L683.6 388.4 L685.1 389.5 L685.3 391.2 L686.4 392.5 L686.9 394.2 L687.5 395.8 L689.1 395.8 L690.6 396.3 L692.0 396.9 L694.1 396.7 L696.3 397.0 L695.9 398.5 L695.6 400.0 L695.8 401.5 L695.6 403.0 L695.4 404.6 L695.6 406.3 L695.2 407.9 L695.0 409.5 L696.1 411.1 L696.3 413.0 L697.4 414.5 L698.7 416.0 L699.6 417.6 L700.1 419.3 L701.0 420.9 L702.7 421.3 L704.1 422.1 L705.0 423.5 L706.3 424.4 L707.4 425.4 L708.9 426.0 L709.8 427.1 L710.3 428.7 L711.6 430.0 L712.3 431.5 L713.2 432.9 L713.9 434.5 L714.2 436.2 L714.2 438.0 L715.0 439.4 L716.7 440.4 L718.6 440.7 L719.9 442.0 L719.7 443.6 L719.7 445.3 L719.5 447.0 L719.4 448.7 L719.1 450.3 L718.7 451.8 L717.2 453.0 L715.5 453.9 L713.7 454.5 L713.1 456.1 L713.2 457.8 L712.4 459.4 L711.8 460.9 L711.1 462.4 L711.0 464.0 L710.7 465.6 L709.9 467.0 L709.8 468.7 L708.3 469.8 L708.5 471.6 L707.4 473.0 L706.6 474.5 L706.6 476.4 L705.8 477.9 L704.9 479.5 L704.4 481.2 L704.1 483.0 L703.5 484.8 L702.9 486.5 L702.2 488.1 L701.9 489.8 L701.7 491.6 L701.1 493.2 L700.9 495.0 L699.6 496.4 L699.0 498.0 L697.6 499.0 L697.2 500.7 L696.3 502.0 L695.1 503.6 L694.3 505.5 L693.0 507.0 L691.8 508.5 L690.8 510.2 L690.1 512.1 L688.9 513.7 L687.3 514.9 L687.2 516.6 L686.4 518.0 L686.2 519.6 L685.1 520.9 L685.1 522.5 L684.4 524.0 L683.6 525.4 L683.6 527.0 L683.0 528.5 L682.7 530.0 L683.0 531.6 L683.0 533.2 L683.6 534.8 L683.4 536.4 L684.1 538.0 L684.9 539.7 L685.4 541.4 L685.8 543.2 L686.3 545.0 L686.6 546.5 L687.3 548.0 L688.1 549.4 L687.6 551.1 L688.5 552.5 L688.8 554.0 L689.0 555.5 L689.6 557.0 L690.0 558.4 L690.1 560.1 L689.5 561.8 L688.7 563.4 L688.0 565.0 L686.8 566.4 L686.1 568.1 L684.9 569.2 L685.0 571.0 L683.8 572.2 L683.2 573.6 L682.6 575.0 L682.0 576.5 L680.9 577.8 L680.2 579.3 L680.1 581.0 L679.0 582.5 L678.9 584.3 L678.3 585.9 L677.7 587.5 L677.8 589.1 L677.4 590.6 L677.9 592.2 L677.5 593.8M677.5 593.8 L716.2 591.8 L717.5 600.0 L721.2 610.0M685.0 307.5 L733.8 305.8M682.5 206.2 L691.0 210.5 L700.0 215.0 L710.0 217.5 L720.0 220.0 L724.0 226.0 L727.5 232.5 L733.0 240.0M741.2 324.5 L745.0 382.0 L746.2 397.0 L743.0 403.5 L740.0 409.5 L738.8 419.5M755.0 320.8 L790.0 317.5 L815.0 314.9M790.0 317.5 L797.5 382.0M720.0 442.0 L721.7 441.9 L723.3 441.3 L725.0 441.0 L726.6 440.3 L728.4 440.4 L729.9 439.5 L729.9 437.9 L730.3 436.3 L731.0 434.8 L731.3 433.4 L732.8 432.3 L734.1 430.9 L735.8 430.2 L737.3 429.5 L737.5 427.8 L737.7 426.1 L738.6 424.6 L738.3 422.8 L738.9 421.2 L738.8 419.6 L740.4 418.6 L742.1 418.1 L744.0 418.2 L745.4 417.2 L747.0 417.4 L748.6 417.6 L750.0 416.9 L751.6 417.6 L753.3 418.1 L755.0 418.1 L756.7 417.9 L758.3 417.9 L760.0 418.2 L760.9 416.8 L762.2 415.7 L763.6 414.8 L764.9 413.9 L766.4 413.1 L767.4 411.6 L768.4 410.3 L770.0 409.4 L772.1 409.9 L774.1 410.8 L775.7 411.6 L777.4 411.9 L778.2 410.4 L779.0 408.8 L780.2 407.6 L781.1 406.1 L782.2 405.0 L783.0 403.6 L783.2 401.9 L784.3 400.9 L784.9 399.4 L785.9 398.1 L787.4 397.3 L788.9 396.6 L789.7 395.0 L791.0 394.0 L792.5 393.3 L793.3 391.8 L794.6 390.9 L796.4 390.7 L797.7 389.5 L797.6 388.0 L797.8 386.5 L797.9 385.0 L797.7 383.5 L797.5 382.2 L799.2 382.4 L801.0 382.2 L803.0 382.4 L805.1 381.8 L806.3 383.0 L807.8 383.6 L808.6 385.2 L810.1 385.8 L811.1 387.1 L812.3 388.0 L814.0 388.2 L815.1 389.3 L816.7 390.0 L818.2 391.0 L820.0 391.2 L821.6 391.6 L823.3 392.0 L825.0 391.9 L826.8 391.6 L828.4 390.7 L830.0 390.0 L831.7 389.6 L833.2 388.3 L835.0 388.2 L836.3 389.1 L837.9 389.8 L838.9 391.1 L839.8 392.5 L841.5 393.1 L842.4 394.5 L843.4 393.1 L844.0 391.5 L844.5 389.9 L845.3 388.5 L845.9 387.0 L847.0 385.6 L847.1 383.8 L848.7 382.7 L848.9 380.9 L850.0 379.5 L851.2 378.1 L852.6 376.8 L853.6 375.2 L854.9 373.9 L856.5 373.2 L857.1 371.3 L859.1 371.0 L859.9 369.4 L860.8 367.9 L861.9 366.5 L862.5 364.9 L863.8 363.6 L864.4 361.9 L865.6 360.6 L865.9 358.9 L867.0 357.5 L868.0 356.0 L868.6 354.5 L869.5 353.1 L869.7 351.6 L869.5 350.0 L870.2 348.6 L869.6 346.9 L869.8 345.4 L870.6 344.0 L870.5 342.4 L870.7 340.8 L870.5 339.2 L871.1 337.7 L871.0 336.1 L871.2 334.5M865.9 301.4 L871.2 334.5 L874.8 355.8M842.5 394.5 L845.0 401.0 L847.5 407.0 L852.0 411.0 L856.2 414.5M856.2 414.5 L849.0 422.0 L842.5 429.5 L835.0 435.5 L827.5 440.8M717.5 454.5 L741.2 453.2 L741.2 449.5 L827.5 440.8 L866.0 436.2 L973.5 417.8M866.0 436.2 L865.6 437.9 L864.1 438.9 L863.8 440.6 L863.0 442.0 L861.9 443.6 L860.8 445.2 L859.9 446.9 L858.6 447.7 L857.7 449.2 L856.2 449.7 L855.0 450.8 L854.0 452.0 L853.0 453.4 L851.5 454.1 L850.2 455.1 L848.9 456.1 L847.5 457.0 L846.4 458.1 L845.2 458.9 L844.0 459.9 L842.3 460.1 L841.1 460.9 L839.9 461.8 L838.7 462.8 L837.6 463.8 L836.4 464.7 L834.8 465.1 L833.9 466.5 L832.4 466.9 L831.0 467.7 L830.0 468.9 L828.5 469.5 L827.3 470.6 L826.1 471.6 L824.6 472.6 L823.2 473.9 L821.8 475.1 L820.1 475.8 L819.6 477.3 L819.8 479.0 L819.0 480.4 L818.8 482.0M701.2 493.2 L742.5 490.8 L793.8 486.5 L818.8 482.0 L840.0 480.0M840.0 480.0 L848.0 476.0 L856.0 473.2 L870.0 471.0 L884.8 469.5 L889.8 476.5 L912.2 474.0 L937.2 492.0M839.9 480.0 L840.1 481.6 L841.3 482.9 L841.7 484.4 L842.0 486.0 L843.2 487.0 L844.1 488.2 L844.4 489.8 L845.7 490.8 L846.2 492.3 L847.0 493.6 L848.3 494.5 L848.9 495.9 L850.1 496.9 L850.9 498.3 L852.6 498.7 L853.3 500.3 L854.7 501.0 L855.5 502.4 L857.0 503.1 L858.3 504.1 L859.9 504.8 L861.3 505.9 L862.1 507.6 L863.6 508.5 L865.1 509.4 L866.8 510.3 L868.3 511.6 L870.0 512.5 L871.1 513.8 L872.3 515.0 L873.2 516.5 L875.0 517.1 L875.5 519.0 L877.0 520.0 L877.8 521.4 L879.5 521.9 L880.8 522.8 L881.7 524.1 L882.9 525.1 L883.8 526.5 L885.1 527.5 L886.3 528.6 L886.9 530.2 L887.1 532.0 L887.9 533.4 L889.0 534.7 L890.1 536.0 L891.2 537.3 L891.3 539.2 L892.9 540.3 L893.6 541.9 L894.1 543.5 L895.0 545.0M742.5 490.8 L743.8 524.0 L742.5 562.5 L747.0 605.0M793.8 486.5 L797.5 500.0 L803.8 524.0 L812.5 550.0 L812.5 565.0 L815.0 582.5M767.5 602.5 L762.5 588.0 L815.0 582.5 L820.0 588.8 L877.5 585.5 L878.8 590.0 L881.2 590.0 L881.2 579.5 L890.0 580.0M856.3 414.4 L857.2 416.2 L858.8 417.1 L859.9 418.6 L861.8 419.7 L863.4 420.8 L865.1 420.2 L866.9 419.8 L868.3 418.7 L870.0 418.1 L871.5 417.8 L872.9 417.0 L874.5 417.5 L876.0 417.0 L877.7 416.4 L878.8 414.8 L880.4 414.3 L882.0 413.5 L883.5 412.7 L884.6 411.5 L886.0 410.5 L886.4 408.9 L887.0 407.4 L888.1 406.1 L888.2 404.4 L889.1 403.0 L889.1 401.4 L890.1 400.0 L890.5 398.5 L890.8 396.9 L891.6 395.5 L892.5 394.1 L893.1 392.6 L892.9 390.8 L893.9 389.5 L894.7 388.0 L895.2 386.5 L895.6 384.8 L896.3 383.4 L897.3 382.0 L899.0 381.0 L900.2 379.5 L901.6 378.1 L903.2 377.1 L904.7 375.9 L906.0 374.5 L907.5 373.1 L907.8 371.0 L908.9 369.4 L910.3 367.9 L911.1 366.1 L912.4 364.6 L912.8 363.0 L913.7 361.6 L914.1 360.1 L914.8 358.6 L915.2 357.1 L915.3 355.3 L916.4 354.0 L917.1 352.5 L917.3 350.8 L916.0 351.7 L914.2 351.5 L913.0 352.5 L911.5 353.1 L910.3 354.1 L908.5 353.9 L907.5 355.4 L905.9 355.6 L904.9 356.9 L903.7 358.1 L902.0 358.7 L901.1 360.1 L899.5 361.3 L898.5 363.0 L897.1 364.5 L896.3 362.8 L896.5 360.8 L895.9 359.0 L896.1 357.1 L895.7 355.2 L895.5 353.2M874.8 355.8 L916.0 349.5 L963.5 340.0M917.3 350.7 L918.4 352.2 L920.3 352.7 L921.5 353.9 L923.2 354.7 L924.7 355.7 L925.9 357.2 L928.1 357.4 L930.0 358.5 L931.8 358.9 L933.4 359.6 L935.1 360.4 L936.3 361.7 L937.3 363.2 L938.6 364.4 L939.8 365.7 L940.8 367.2 L942.6 367.9 L943.5 369.5 L942.8 370.9 L942.9 372.6 L941.9 374.0 L942.0 375.7 L941.0 377.1 L942.8 377.1 L944.2 378.4 L946.0 378.7 L947.7 378.6 L949.4 378.7 L951.1 379.3 L952.8 380.0 L954.2 381.4 L956.0 381.9 L957.9 382.5 L959.2 384.0 L961.0 384.5M963.5 340.0 L966.0 350.0 L971.0 369.5 L982.2 368.2M972.2 297.0 L968.6 309.2 L974.0 316.5 L979.6 323.8 L975.2 332.6 L967.9 335.6 L963.5 340.0M879.7 291.9 L879.7 297.7 L896.4 294.8 L940.0 286.0 L959.0 282.8 L963.5 288.0 L967.9 293.0 L973.0 296.0 L989.9 301.8M977.4 202.0 L977.7 203.5 L978.2 205.1 L978.1 206.7 L978.3 208.3 L978.8 209.9 L979.1 211.4 L979.4 213.0 L979.6 214.6 L980.2 216.0 L980.8 217.4 L981.3 218.9 L981.7 220.4 L982.0 221.9 L982.0 223.5 L982.2 225.0 L982.8 226.7 L982.8 228.4 L983.3 230.1 L983.6 231.8 L984.1 233.5 L984.9 235.0 L986.0 236.3 L985.9 237.9 L986.1 239.4 L987.3 240.6 L987.3 242.2 L987.8 243.6 L988.7 245.0 L989.2 246.5 L989.2 248.1 L989.6 249.6 L989.5 251.3 L990.6 252.7 L990.3 254.4 L990.8 255.9 L990.8 257.5 L991.3 259.1 L991.3 260.7 L991.6 262.3 L992.2 263.8 L992.9 265.3 L993.4 266.8 L993.1 268.5 L993.5 270.0 L994.0 271.6 L993.7 273.2 L993.7 274.9 L994.4 276.4 L993.9 278.1 L994.6 279.7 L994.5 281.3 L994.1 283.0 L995.1 284.6 L995.5 286.2 L995.1 287.9 L996.2 289.5 L996.3 291.1 L996.6 292.8 L996.4 294.5 L995.4 295.9 L995.0 297.7 L994.2 299.2 L992.8 300.4M1007.3 194.7 L1009.2 200.2 L1009.6 204.8 L1006.5 209.0 L1003.7 213.0 L1002.5 224.0 L1001.8 235.0 L1003.0 244.0 L1004.1 252.5M1013.8 184.5 L1018.3 198.3 L1023.9 216.7 L1028.4 231.4 L1031.0 235.5M989.5 254.5 L1000.0 253.4 L1018.3 250.6 L1024.0 247.0 L1030.3 243.3 L1033.5 242.4M992.0 271.0 L1012.0 268.5 L1016.0 267.5M1016.0 267.5 L1017.0 280.0 L1018.0 287.0M1016.0 267.5 L1024.0 266.0 L1027.0 270.0 L1029.0 277.0"/>
<path class="lk" d="M692.5 172.0 L696.0 165.0 L700.0 157.5 L707.0 151.0 L715.0 144.5 L728.0 147.0 L742.5 149.5 L749.0 158.0 L755.0 166.2 L762.0 166.0 L770.0 165.8 L771.0 170.0 L772.5 175.0 L775.0 179.5 L777.5 183.8 L779.0 189.0 L780.0 195.0 L784.0 197.5 L787.5 200.0M787.5 200.0 L790.0 204.5 L810.0 203.5 L832.5 203.8 L847.5 205.0 L854.0 211.0 L860.0 217.5 L864.5 223.0 L868.8 228.8 L864.5 233.0 L860.0 237.5 L855.0 236.0 L850.0 235.0 L845.0 232.5 L840.0 230.0 L835.0 225.0 L838.0 235.0 L840.0 245.0 L839.0 257.5 L837.5 270.0 L834.0 279.0 L830.0 287.5 L828.0 291.0M805.0 211.0 L815.0 209.5 L822.0 206.0 L827.0 207.0 L830.0 212.0 L826.0 216.0 L818.0 214.0 L810.0 212.5 L805.0 211.0M833.0 224.0 L841.0 224.0 L843.0 230.0 L846.0 236.0 L849.0 232.0 L853.0 237.0 L858.0 239.0 L864.0 238.0M823.7 297.7 L830.0 297.5 L830.0 303.0 L822.0 303.5M818.0 309.0 L824.0 308.0 L830.0 305.0 L836.0 299.0 L842.0 294.0 L850.0 289.0 L858.0 286.5 L866.0 285.5 L871.0 285.5M866.0 285.5 L870.0 281.0 L878.0 277.5 L886.0 275.0 L891.0 273.5M887.7 267.1 L882.0 268.5 L876.0 267.0 L875.0 262.5 L877.0 257.0 L884.0 253.0 L896.0 247.5 L908.5 242.5 L921.0 235.0 L929.0 230.5 L936.0 226.2M909.0 241.0 L913.0 237.5 L919.0 236.0 L922.0 239.0 L917.0 243.0 L911.0 243.0"/>
<g clip-path="url(#filled)">
<path d="M692.5 172.1 L691.4 173.2 L689.8 173.9 L688.8 175.3 L687.2 176.0 L686.0 177.1 L684.9 178.3 L683.3 179.0 L682.1 180.1 L680.8 181.0 L679.9 182.2 L678.7 183.1 L677.3 183.8 L675.9 184.5 L675.1 185.9 L673.8 186.8 L672.5 187.5 L671.1 188.3 L670.1 189.6 L669.1 190.7 L667.5 191.4 L666.9 193.1 L665.3 193.6 L664.5 195.0 L663.4 196.2 L662.1 197.1 L660.9 198.1 L659.4 198.8 L658.6 200.2 L657.2 200.9 L656.0 201.9 L654.9 203.1 L653.7 204.0 L652.5 204.9 L653.9 204.1 L655.4 203.7 L657.1 203.7 L658.5 202.9 L660.0 202.4 L661.6 201.9 L663.1 201.2 L664.6 200.5 L666.3 200.2 L667.9 199.5 L669.3 198.5 L671.0 198.2 L672.5 197.5 L672.3 199.2 L672.5 200.8 L673.1 202.4 L672.9 204.1 L674.3 204.9 L675.0 206.2 L676.5 206.5 L678.0 205.9 L679.5 206.2 L681.0 205.8 L682.5 206.3 L684.0 205.8 L685.4 204.9 L686.9 204.4 L688.1 203.3 L689.7 202.9 L691.0 202.0 L692.5 201.3 L694.0 200.5 L695.6 200.0 L697.2 199.4 L698.5 198.2 L700.0 197.5 L701.0 196.2 L702.6 195.8 L703.8 194.8 L705.3 194.1 L706.4 193.0 L707.4 191.7 L708.7 190.9 L710.0 190.0 L711.2 188.7 L712.8 188.0 L714.0 186.8 L715.4 185.7 L716.9 184.9 L718.5 184.6 L719.6 183.4 L721.0 182.9 L722.5 182.5 L724.3 182.6 L726.1 182.1 L725.2 183.4 L724.3 184.6 L723.2 185.8 L722.4 187.2 L721.6 188.5 L721.1 190.0 L720.2 191.5 L719.4 192.9 L718.1 194.1 L717.2 195.5 L717.0 197.3 L716.1 198.7 L715.0 199.9 L716.4 199.2 L718.0 198.7 L719.5 198.2 L721.0 197.4 L722.5 196.7 L724.2 196.8 L725.9 196.4 L727.5 196.3 L728.3 197.7 L729.6 198.7 L730.9 199.8 L732.0 201.0 L733.3 202.1 L735.0 202.7 L735.9 204.3 L737.5 205.1 L739.2 204.8 L740.8 204.3 L742.3 203.4 L744.0 203.0 L745.5 202.5 L747.0 202.9 L748.5 202.2 L749.9 202.4 L751.3 201.7 L752.8 201.1 L754.2 200.8 L755.6 200.0 L757.0 199.4 L758.5 199.0 L759.9 198.6 L761.5 198.1 L762.9 197.2 L764.6 197.4 L766.0 196.5 L767.6 195.8 L769.2 195.5 L770.8 195.2 L772.5 195.0 L773.9 195.7 L774.6 197.2 L775.9 198.2 L778.0 199.0 L780.0 200.0 L781.6 198.2 L784.2 198.1 L785.9 198.9 L787.7 199.8 L788.0 201.8 L790.4 201.9 L791.8 202.9 L791.8 205.4 L793.4 205.9 L795.3 205.8 L796.1 207.5 L798.2 207.1 L799.0 209.0 L797.0 209.5 L797.1 211.1 L795.3 210.7 L793.4 211.6 L791.7 211.1 L790.0 210.8 L788.2 210.1 L786.5 210.9 L784.6 210.5 L783.1 211.7 L781.7 212.7 L780.0 212.2 L778.3 212.1 L776.7 212.2 L775.0 212.2 L773.3 212.2 L771.7 212.3 L770.0 212.6 L768.6 213.0 L767.2 213.7 L765.9 214.5 L764.4 215.0 L762.9 215.4 L761.5 215.9 L760.0 216.2 L758.2 216.5 L756.8 217.6 L755.1 217.8 L753.4 218.4 L752.0 219.3 L750.3 219.7 L748.7 220.0 L747.0 219.9 L744.9 220.6 L742.8 220.9 L741.6 222.0 L740.4 223.0 L739.6 224.4 L738.7 226.0 L737.6 227.4 L736.6 228.9 L736.3 230.6 L735.1 231.7 L734.1 232.9 L733.6 234.5 L732.7 235.9 L732.2 237.5 L731.7 239.1 L730.6 240.4 L730.2 242.0 L729.1 243.3 L728.3 244.8 L728.0 246.5 L727.5 248.0 L726.5 249.3 L726.1 250.9 L725.8 252.4 L726.7 253.8 L726.9 255.4 L728.9 254.2 L730.3 252.5 L730.7 250.8 L732.0 249.6 L732.8 248.2 L733.2 246.5 L733.9 245.0 L734.8 243.7 L735.3 242.1 L736.2 240.7 L737.5 239.7 L738.0 238.2 L738.7 236.8 L739.5 235.5 L740.3 233.7 L741.7 232.2 L742.5 230.5 L743.0 228.9 L743.9 227.5 L744.9 226.2 L745.7 224.8 L746.9 223.6 L747.9 222.3 L747.3 224.1 L746.9 225.9 L745.9 227.4 L745.3 229.1 L744.4 230.5 L743.5 232.0 L742.3 233.5 L741.9 235.3 L740.9 236.8 L740.2 238.6 L739.3 240.3 L738.5 242.0 L738.2 244.0 L737.2 245.7 L736.6 247.5 L736.6 249.1 L735.5 250.4 L735.7 252.1 L735.0 253.5 L734.5 255.1 L734.3 256.7 L734.2 258.4 L733.7 260.0 L733.5 261.7 L733.0 263.4 L733.5 265.1 L732.8 266.8 L732.8 268.5 L732.7 270.0 L732.1 271.5 L732.2 273.0 L731.9 274.5 L731.7 276.0 L731.4 277.7 L731.7 279.4 L731.5 281.2 L731.6 282.9 L731.5 284.6 L731.5 286.2 L731.8 287.7 L731.8 289.3 L732.0 290.8 L731.7 292.4 L732.1 293.9 L732.0 295.5 L732.3 297.0 L733.0 298.7 L732.9 300.5 L732.9 302.3 L733.2 304.0 L733.9 305.7 L734.7 307.5 L735.0 309.5 L735.9 311.0 L736.2 312.7 L736.9 314.3 L736.9 316.0 L737.8 317.7 L738.7 319.4 L740.1 320.6 L741.4 321.7 L742.9 322.4 L744.6 322.7 L745.8 324.1 L747.6 324.6 L748.6 323.5 L750.2 323.2 L751.2 321.9 L752.5 321.2 L754.0 320.7 L755.1 319.6 L755.6 317.7 L756.7 316.2 L757.6 314.6 L758.4 313.0 L758.6 311.4 L759.1 310.0 L759.8 308.5 L759.8 307.0 L760.0 305.3 L759.9 303.7 L759.6 302.0 L759.8 300.3 L760.1 298.7 L760.0 297.0 L759.1 295.4 L759.4 293.5 L758.7 291.9 L758.4 290.2 L757.2 288.8 L756.9 287.0 L756.3 285.5 L756.6 283.8 L755.8 282.3 L755.3 280.7 L755.3 279.1 L755.1 277.5 L755.2 275.9 L754.6 274.3 L754.3 272.7 L754.9 271.1 L754.5 269.5 L754.5 267.9 L753.8 266.4 L753.7 264.8 L754.1 263.2 L753.8 261.6 L753.6 260.0 L754.2 258.4 L754.0 256.8 L754.2 255.2 L753.6 253.6 L754.1 252.0 L754.1 250.1 L755.3 248.6 L755.5 246.7 L756.0 245.0 L757.0 243.4 L758.3 241.9 L759.0 239.9 L760.6 238.5 L762.5 237.5 L763.6 238.7 L764.5 240.1 L765.4 241.5 L766.0 242.8 L768.0 242.5 L769.9 242.5 L769.6 240.9 L769.7 239.2 L769.1 237.7 L769.0 236.0 L769.6 234.4 L770.6 232.9 L771.3 231.3 L772.4 230.0 L772.2 228.3 L773.0 226.7 L773.0 225.0 L773.4 223.2 L774.3 221.7 L775.1 220.1 L775.7 217.8 L777.1 216.1 L778.5 214.8 L780.0 213.7 L781.3 214.9 L782.9 215.4 L784.3 216.4 L785.7 217.4 L787.0 218.5 L788.7 219.0 L790.0 220.1 L791.5 220.8 L793.0 221.6 L794.6 222.2 L796.1 223.0 L797.6 223.8 L798.9 224.5 L800.1 225.4 L801.0 226.8 L802.4 227.3 L803.7 228.2 L804.8 229.2 L805.2 230.9 L805.9 232.4 L806.8 233.7 L806.3 235.2 L805.6 236.7 L804.8 238.0 L805.1 239.7 L805.7 241.3 L805.8 243.1 L806.4 244.8 L806.1 246.6 L806.7 248.1 L806.3 249.7 L805.9 251.2 L804.7 252.4 L804.7 254.1 L804.0 255.6 L803.5 257.1 L802.5 258.5 L801.5 259.9 L800.6 261.3 L799.8 262.8 L799.9 264.7 L800.6 266.6 L800.4 268.5 L802.3 268.6 L804.0 269.3 L804.6 267.5 L805.5 265.8 L806.6 264.3 L807.6 262.7 L808.8 261.8 L809.9 260.6 L811.1 259.7 L812.0 258.5 L814.0 258.1 L815.9 257.8 L817.8 257.0 L819.0 258.0 L819.7 259.5 L821.3 260.0 L822.1 261.3 L822.7 262.8 L823.7 264.1 L823.7 265.8 L824.2 267.3 L825.1 268.6 L825.4 270.1 L825.8 271.6 L826.9 272.8 L827.0 274.4 L827.5 275.9 L827.9 277.3 L828.1 279.5 L828.7 281.7 L828.4 283.4 L827.9 285.1 L827.7 286.9 L827.4 288.6 L827.3 290.5 L825.7 291.5 L823.8 291.9 L823.6 293.9 L823.5 295.8 L822.8 297.6 L822.1 299.1 L821.3 300.5 L820.6 302.0 L819.9 303.5 L819.5 305.0 L819.3 306.6 L818.1 307.8 L817.7 309.4 L816.8 311.1 L815.8 312.8 L814.9 314.6 L817.1 314.9 L819.0 316.1 L820.6 316.0 L822.2 316.0 L823.8 316.5 L825.0 318.0 L826.7 318.9 L828.0 320.4 L829.9 320.5 L831.6 319.9 L833.5 319.6 L835.3 319.5 L836.8 318.8 L838.3 318.1 L839.7 317.1 L841.2 316.3 L842.4 315.0 L843.9 314.3 L845.4 313.6 L846.9 313.0 L847.9 311.7 L849.4 311.0 L850.3 309.7 L851.6 308.8 L853.0 308.1 L854.5 307.4 L855.7 306.5 L857.2 305.8 L858.5 304.8 L860.1 304.3 L861.5 303.5 L863.0 302.8 L864.3 301.8 L866.0 301.5 L867.2 300.2 L869.1 299.7 L870.5 298.7 L871.5 297.0 L873.2 296.3 L874.8 295.7 L876.3 294.9 L877.5 293.6 L878.9 292.6 L880.3 291.8 L881.6 290.9 L881.9 289.3 L883.0 288.2 L883.5 286.7 L884.6 285.7 L885.8 284.7 L886.2 283.1 L887.5 282.2 L888.2 280.8 L889.5 279.8 L890.3 278.4 L890.9 277.0 L892.2 275.9 L891.6 274.0 L890.7 272.1 L890.5 270.2 L889.1 268.6 L887.7 267.1 L888.4 264.1 L889.9 263.2 L891.6 262.6 L893.3 261.9 L895.0 261.4 L897.9 260.4 L899.6 260.6 L901.2 260.5 L902.8 259.7 L904.5 260.2 L906.1 259.9 L907.8 259.8 L909.3 259.1 L911.0 259.1 L912.8 258.8 L914.7 259.2 L916.5 258.7 L918.3 258.4 L920.1 258.0 L921.9 257.5 L923.7 257.0 L925.5 256.9 L927.0 256.2 L927.9 254.9 L929.4 254.4 L930.3 252.9 L931.5 251.9 L932.8 251.1 L933.1 249.6 L933.8 248.2 L934.8 246.9 L935.1 245.3 L934.7 243.8 L934.0 242.4 L933.7 240.8 L932.9 239.4 L931.7 238.0 L930.7 236.6 L931.0 235.0 L932.3 233.8 L932.8 232.2 L934.1 230.9 L935.1 229.4 L935.9 227.7 L937.1 226.3 L938.5 224.9 L938.8 222.8 L940.0 221.3 L941.1 219.9 L942.2 218.6 L943.6 217.5 L944.7 216.4 L945.1 214.6 L946.2 213.5 L946.9 212.0 L948.0 210.9 L948.9 209.7 L949.8 208.4 L951.0 207.4 L952.6 206.9 L954.3 207.2 L955.9 206.4 L957.4 205.9 L959.2 206.1 L960.8 205.8 L962.4 205.0 L964.0 204.6 L965.4 204.1 L966.9 203.7 L968.4 203.7 L969.8 203.1 L971.3 203.0 L972.8 202.7 L974.3 202.7 L975.8 202.6 L977.3 202.1 L978.7 201.5 L980.2 201.1 L981.7 200.8 L983.1 200.3 L984.6 199.9 L986.0 199.2 L987.5 199.0 L989.2 199.2 L990.4 198.1 L992.0 198.0 L993.6 197.7 L995.2 197.5 L996.6 196.6 L998.1 196.2 L999.6 195.8 L1001.2 195.6 L1002.8 195.2 L1004.4 195.3 L1005.9 194.8 L1007.5 194.1 L1007.3 192.4 L1007.6 190.8 L1008.6 189.3 L1008.8 187.8 L1010.0 186.7 L1011.3 185.9 L1012.3 184.5 L1013.8 183.9 L1015.8 183.9 L1017.7 183.2 L1018.1 181.6 L1018.4 180.0 L1017.9 178.4 L1018.2 176.7 L1018.8 175.2 L1019.8 173.8 L1020.6 172.4 L1021.6 171.0 L1022.1 169.5 L1022.8 167.9 L1022.6 166.3 L1021.9 164.8 L1021.6 163.3 L1020.8 161.8 L1020.9 160.2 L1020.9 158.7 L1021.8 157.3 L1021.9 155.7 L1021.9 154.2 L1022.1 152.6 L1022.6 151.2 L1022.8 149.6 L1022.9 148.0 L1022.4 146.4 L1022.6 144.8 L1023.2 143.4 L1023.7 141.9 L1024.1 140.5 L1024.4 139.0 L1025.2 137.6 L1025.2 136.0 L1025.9 134.7 L1026.6 133.3 L1027.6 131.8 L1028.0 130.0 L1028.8 128.4 L1029.1 126.7 L1029.8 124.9 L1031.4 125.1 L1032.8 125.7 L1033.5 127.4 L1034.4 128.9 L1034.8 130.6 L1036.4 129.5 L1038.1 128.5 L1039.5 127.2 L1040.6 126.1 L1042.1 125.6 L1043.5 124.9 L1044.5 123.6 L1046.2 123.5 L1047.9 124.0 L1049.6 124.3 L1051.0 125.4 L1052.7 126.0 L1053.8 127.4 L1055.3 128.2 L1055.9 129.7 L1056.7 131.1 L1056.6 132.8 L1057.7 134.1 L1057.8 135.7 L1058.7 137.1 L1059.3 138.5 L1059.3 140.1 L1060.2 141.4 L1060.1 143.0 L1061.0 144.3 L1061.7 145.7 L1062.2 147.2 L1062.4 148.7 L1062.7 150.2 L1062.9 151.7 L1064.1 153.0 L1064.3 154.5 L1064.9 155.9 L1064.7 157.6 L1065.6 158.8 L1067.3 159.0 L1068.9 159.5 L1070.4 160.2 L1071.9 160.8 L1072.2 162.7 L1072.8 164.4 L1073.1 166.2 L1073.9 168.0 L1076.0 168.7 L1077.8 169.7 L1079.3 170.5 L1080.9 170.5 L1082.5 171.6 L1082.9 173.6 L1084.7 174.5 L1085.6 176.3 L1084.9 178.3 L1083.8 180.3 L1083.5 182.2 L1081.8 182.7 L1080.5 183.6 L1078.1 183.4 L1078.3 185.9 L1075.8 185.3 L1075.7 188.1 L1074.1 188.6 L1072.3 188.9 L1070.4 189.6 L1069.6 191.8 L1068.1 193.3 L1066.1 193.8 L1064.3 194.8 L1062.2 194.6 L1062.4 197.2 L1060.7 197.5 L1058.1 197.7 L1057.5 200.3 L1056.2 202.1 L1054.7 203.8 L1053.4 205.2 L1054.4 207.8 L1053.5 209.4 L1051.5 210.8 L1049.4 209.4 L1047.9 211.6 L1045.8 210.9 L1043.8 210.4 L1042.4 211.9 L1043.3 213.2 L1042.8 214.5 L1041.4 215.8 L1040.5 217.9 L1038.2 218.5 L1038.7 220.4 L1038.6 222.3 L1038.2 224.2 L1036.3 225.6 L1035.2 227.3 L1035.6 229.4 L1033.9 230.9 L1035.0 233.1 L1035.4 234.6 L1034.8 236.3 L1034.4 237.6 L1033.0 238.8 L1033.9 241.0 L1033.2 242.2 L1034.4 243.5 L1035.5 244.9 L1036.6 246.2 L1038.6 247.5 L1037.1 248.3 L1036.0 249.4 L1034.8 250.6 L1034.3 252.1 L1034.1 253.6 L1033.9 255.1 L1035.3 256.0 L1036.5 257.0 L1036.9 258.6 L1038.1 259.9 L1038.6 261.4 L1038.9 263.0 L1039.9 264.3 L1040.8 265.6 L1041.6 266.9 L1042.0 268.5 L1040.1 269.4 L1037.7 269.9 L1036.7 271.8 L1036.5 273.8 L1036.1 275.5 L1035.3 276.9 L1034.2 278.0 L1032.6 278.7 L1031.5 279.8 L1030.3 280.7 L1029.2 281.8 L1027.7 282.2 L1026.2 282.6 L1024.9 283.4 L1023.3 283.8 L1021.8 284.4 L1020.5 285.4 L1019.4 287.0 L1017.4 286.6 L1016.3 288.0 L1014.7 288.6 L1013.4 289.8 L1011.6 290.1 L1010.6 291.8 L1009.0 292.3 L1007.5 293.1 L1006.3 294.1 L1004.7 294.4 L1003.6 295.5 L1002.5 296.5 L1001.2 297.3 L999.7 297.7 L998.7 298.9 L997.7 300.3 L996.1 301.3 L995.1 302.6 L993.9 303.9 L993.3 305.7 L992.0 307.0 L990.7 308.3 L989.8 309.8 L988.6 311.2 L988.2 313.1 L986.9 314.2 L989.0 313.6 L991.4 313.5 L992.0 315.5 L993.5 317.0 L993.5 319.0 L994.3 320.9 L993.9 322.4 L994.2 324.0 L994.3 325.5 L993.9 327.0 L993.2 328.8 L993.5 330.8 L992.8 332.6 L992.1 334.4 L991.8 336.3 L991.0 338.0 L990.6 339.7 L989.9 341.3 L989.3 342.9 L988.4 344.4 L987.6 345.7 L987.2 347.3 L986.6 348.8 L985.7 350.1 L984.3 351.3 L984.8 353.4 L983.7 354.7 L982.2 355.9 L983.7 353.0 L982.4 352.1 L980.3 352.0 L979.8 350.4 L977.9 349.4 L976.0 348.2 L974.5 348.8 L974.1 350.9 L972.6 350.6 L972.6 352.4 L974.1 353.2 L975.2 354.4 L975.7 355.9 L975.6 358.0 L978.0 358.0 L978.5 359.7 L979.9 360.7 L980.7 362.1 L980.3 364.1 L981.5 365.2 L982.9 366.4 L983.8 367.7 L983.2 369.5 L984.1 371.3 L984.4 373.0 L981.6 374.2 L982.6 376.0 L981.3 377.3 L982.0 379.1 L980.3 380.2 L981.0 382.0 L981.0 384.1 L980.5 385.9 L978.4 387.0 L977.3 388.5 L975.8 389.8 L976.5 392.1 L975.4 393.4 L975.9 395.1 L975.2 396.5 L975.4 398.0 L975.5 399.8 L974.8 401.5 L975.2 403.0 L973.0 402.3 L973.2 400.4 L972.8 398.9 L973.4 397.0 L970.9 395.7 L970.4 394.0 L971.5 391.8 L971.6 389.8 L969.6 388.7 L968.5 387.2 L969.5 384.9 L967.5 383.8 L967.7 381.9 L967.0 380.2 L966.9 378.4 L965.1 377.1 L965.6 375.0 L963.4 374.0 L963.4 372.0 L963.7 370.0 L963.0 368.3 L961.2 367.1 L960.2 365.6 L960.1 363.8 L959.8 362.0 L959.2 360.4 L958.2 358.8 L958.7 357.0 L959.5 355.3 L959.8 353.6 L958.2 352.4 L956.4 350.5 L955.0 351.5 L955.3 353.3 L953.7 354.9 L955.6 356.8 L954.2 358.5 L954.2 360.2 L954.1 362.0 L955.2 363.5 L955.3 365.3 L955.4 367.0 L956.3 368.6 L956.2 370.5 L957.3 372.0 L958.0 373.6 L959.7 374.9 L958.9 377.0 L959.7 378.7 L961.0 380.1 L960.7 382.1 L960.9 384.0 L962.4 385.3 L963.3 386.9 L963.7 388.6 L965.2 390.0 L965.1 391.9 L965.5 393.8 L967.0 395.3 L966.6 397.5 L967.0 398.9 L968.7 400.0 L967.6 401.9 L968.8 402.9 L969.0 404.8 L970.3 405.7 L972.2 407.0 L975.2 408.1 L975.2 409.7 L976.0 411.0 L975.6 412.7 L976.6 414.0 L976.8 416.0 L977.4 417.8 L978.4 419.5 L979.1 421.3 L980.5 422.6 L980.7 424.6 L982.0 426.0 L982.6 427.8 L983.7 429.2 L985.3 430.3 L985.9 432.1 L986.6 433.9 L988.4 435.1 L989.1 437.0 L989.4 438.8 L990.7 440.2 L990.8 442.0 L990.8 443.7 L989.9 445.3 L989.8 447.1 L988.4 448.0 L986.8 448.7 L985.9 450.2 L984.5 451.2 L983.0 452.0 L981.7 453.1 L980.5 454.4 L979.0 455.3 L977.6 456.3 L975.8 457.0 L975.8 458.8 L975.6 460.5 L976.3 462.2 L975.7 464.0 L976.1 465.9 L974.6 466.6 L973.1 467.4 L971.8 468.5 L970.1 469.0 L968.8 470.2 L967.4 471.0 L965.9 471.9 L965.0 473.2 L963.2 473.5 L962.2 474.7 L961.1 475.8 L959.6 476.4 L958.6 477.8 L957.0 478.2 L956.0 479.5 L955.1 481.0 L953.8 482.1 L953.0 483.7 L952.1 485.0 L951.2 486.3 L951.3 488.0 L950.0 489.2 L949.8 490.8 L948.0 491.4 L946.2 491.9 L944.7 493.1 L943.0 493.9 L941.7 494.8 L940.4 495.7 L939.4 497.1 L937.8 497.4 L935.9 496.9 L935.2 498.3 L934.0 499.4 L932.1 499.8 L932.8 502.5 L931.3 503.2 L929.9 504.1 L930.7 506.3 L930.0 507.6 L928.4 508.4 L927.7 509.7 L927.0 511.2 L926.7 512.8 L925.1 513.9 L924.4 515.4 L924.3 517.1 L923.1 518.3 L922.9 519.8 L923.2 521.6 L920.4 522.1 L920.9 524.3 L919.2 524.6 L917.7 524.4 L916.6 522.5 L914.7 522.2 L913.3 523.0 L912.9 524.9 L912.0 526.3 L911.3 527.9 L908.9 527.6 L907.9 528.9 L907.2 530.5 L905.5 531.1 L904.8 532.7 L902.6 532.9 L902.3 534.8 L902.2 536.7 L899.7 536.7 L900.9 539.4 L898.8 539.7 L898.1 541.0 L898.0 543.0 L897.7 544.8 L895.0 545.5 L895.6 547.7 L894.4 549.2 L892.7 550.5 L894.5 552.9 L893.9 554.6 L892.4 556.0 L892.3 557.5 L891.7 558.9 L890.9 560.4 L892.6 562.1 L892.0 563.6 L891.5 565.0 L892.7 566.6 L890.2 568.2 L890.6 569.8 L890.8 571.4 L892.1 572.9 L890.7 574.9 L891.3 576.6 L892.4 578.2 L892.2 580.1 L893.1 581.4 L894.3 582.6 L895.1 583.9 L895.3 585.4 L896.3 586.7 L896.0 588.4 L895.7 590.1 L896.0 591.6 L896.2 593.2 L897.1 594.5 L898.9 595.5 L898.7 597.2 L899.6 598.5 L899.8 600.1 L900.8 601.5 L902.2 602.7 L902.2 604.7 L902.4 606.5 L904.8 607.2 L904.7 609.2 L906.2 610.2 L906.9 611.7 L907.7 613.1 L908.1 614.8 L908.8 616.3 L909.9 617.5 L911.0 618.7 L911.4 620.2 L912.6 621.2 L913.5 622.4 L913.9 624.0 L915.0 625.0 L915.7 626.3 L916.5 627.6 L917.1 629.0 L918.4 630.0 L918.9 631.4 L919.9 632.5 L920.4 634.1 L921.5 635.3 L922.0 636.9 L922.8 638.2 L923.7 639.6 L924.5 641.0 L925.0 642.5 L926.1 643.8 L926.1 645.5 L927.4 646.6 L928.2 648.0 L928.9 649.5 L928.9 651.2 L930.1 652.5 L931.0 653.9 L931.8 655.3 L932.5 656.8 L932.6 658.6 L933.5 660.0 L933.9 661.6 L934.4 663.1 L935.5 664.4 L935.6 666.0 L936.3 667.5 L936.3 669.1 L936.7 670.6 L937.0 672.1 L938.0 673.4 L937.9 675.0 L937.8 676.5 L937.9 678.0 L938.8 679.5 L938.9 681.0 L938.9 682.5 L939.1 684.0 L938.3 685.5 L938.3 687.0 L938.4 688.5 L938.4 690.0 L938.2 691.5 L938.3 693.0 L938.3 694.5 L938.1 696.0 L937.4 697.5 L936.8 699.0 L935.9 700.3 L934.9 701.7 L934.1 703.1 L933.2 704.3 L932.1 705.4 L930.9 706.2 L930.0 707.5 L928.4 708.3 L926.5 708.4 L925.0 709.5 L923.3 709.4 L921.7 709.7 L919.9 710.1 L918.9 708.8 L918.0 707.5 L917.2 706.1 L916.0 705.0 L915.3 703.6 L914.3 702.5 L913.2 701.4 L912.6 699.9 L910.9 699.3 L909.9 697.8 L908.2 697.2 L906.9 696.1 L905.3 695.0 L904.4 693.2 L902.9 692.3 L900.7 691.8 L900.9 689.9 L900.1 688.6 L899.9 686.9 L898.2 686.2 L897.6 684.5 L896.4 683.2 L896.6 681.1 L894.8 680.2 L894.4 677.9 L892.0 677.7 L890.8 676.2 L890.2 674.5 L888.7 673.7 L887.2 672.7 L886.7 671.0 L884.5 670.5 L884.7 668.2 L883.5 667.0 L882.2 665.8 L881.3 664.6 L879.9 663.8 L879.1 662.5 L878.2 661.4 L877.8 660.1 L877.2 658.1 L879.6 657.4 L878.3 655.1 L879.7 654.0 L879.2 652.1 L879.5 649.6 L878.0 650.0 L876.5 650.3 L875.0 649.1 L873.2 649.9 L873.7 648.5 L874.2 647.0 L875.0 645.6 L875.3 644.1 L875.1 642.5 L874.4 640.9 L874.1 639.3 L873.4 637.8 L874.3 635.9 L874.0 634.4 L873.8 632.9 L872.1 631.7 L872.5 630.0 L871.8 628.2 L870.3 627.2 L868.8 626.3 L867.6 624.9 L866.6 623.4 L864.9 622.6 L863.6 621.9 L862.4 620.9 L861.5 619.6 L860.2 618.8 L858.4 618.5 L857.1 617.5 L856.0 616.4 L854.9 615.1 L853.8 613.7 L852.1 612.9 L851.0 611.5 L849.8 610.2 L849.4 608.1 L847.8 607.2 L845.7 606.8 L845.1 604.7 L842.7 604.6 L841.0 603.1 L839.4 601.9 L837.4 602.3 L835.3 603.1 L833.5 604.5 L832.7 605.9 L831.0 606.3 L830.2 607.7 L829.1 609.0 L827.6 609.9 L826.8 611.5 L825.0 612.1 L823.1 612.6 L821.5 613.7 L820.0 615.0 L818.0 614.8 L816.0 615.0 L814.0 615.0 L812.6 613.7 L811.5 612.2 L811.2 610.4 L810.2 608.8 L809.1 607.7 L808.4 606.3 L807.6 604.8 L805.5 604.4 L803.4 603.7 L801.9 602.6 L800.1 602.2 L798.5 601.5 L796.8 601.2 L795.0 600.8 L793.4 600.3 L791.7 600.1 L790.0 600.0 L788.5 600.5 L787.0 600.0 L785.6 601.1 L784.0 600.6 L782.3 600.2 L780.7 600.5 L779.1 600.8 L777.5 601.4 L775.9 601.6 L774.3 601.7 L772.6 601.6 L771.0 602.1 L769.5 601.8 L767.9 601.5 L766.5 602.9 L765.0 602.4 L763.3 602.5 L762.1 603.7 L760.5 604.0 L758.9 604.2 L757.6 605.7 L755.7 605.3 L754.3 606.4 L752.5 606.0 L751.0 605.5 L749.5 606.3 L748.0 607.1 L746.5 606.3 L745.0 606.5 L743.5 606.1 L742.0 606.4 L740.5 606.1 L739.0 605.0 L737.5 606.2 L736.0 607.0 L733.8 605.4 L732.9 608.7 L730.9 607.7 L729.6 608.9 L727.7 608.0 L727.0 610.9 L724.6 609.3 L724.0 611.3 L723.3 613.2 L721.3 612.6 L720.1 614.9 L722.6 615.8 L722.0 618.2 L722.6 619.9 L722.6 622.0 L724.7 623.1 L725.3 624.8 L726.8 626.2 L725.8 628.8 L727.2 630.6 L728.9 630.9 L731.0 630.7 L731.8 632.9 L733.6 633.0 L735.4 633.2 L736.7 635.3 L734.2 636.2 L733.8 638.0 L731.8 638.7 L730.0 640.0 L728.8 638.5 L726.6 638.1 L726.5 635.5 L724.4 635.2 L724.1 633.3 L722.7 632.0 L720.9 630.6 L718.5 631.0 L716.5 631.3 L714.9 630.0 L714.9 632.5 L712.2 632.6 L711.6 634.5 L709.8 634.5 L708.6 636.4 L706.8 636.5 L705.1 636.9 L703.4 637.1 L701.9 638.4 L699.9 638.3 L698.5 636.4 L696.6 637.9 L695.0 637.8 L693.4 636.8 L692.0 636.2 L690.4 636.0 L689.1 634.8 L687.7 634.8 L685.8 634.1 L686.0 631.1 L683.9 630.6 L681.1 631.1 L682.1 627.7 L680.1 626.9 L678.4 626.9 L676.6 627.2 L675.0 626.4 L673.3 626.3 L671.6 626.8 L670.0 626.4 L668.4 626.0 L666.8 626.4 L665.2 626.9 L663.6 627.2 L662.0 627.1 L660.3 627.4 L658.5 627.0 L656.8 627.5 L655.0 627.6 L653.5 626.8 L651.8 626.5 L650.1 626.7 L648.5 625.9 L647.0 625.7 L645.5 625.3 L644.0 625.1 L642.5 624.9 L640.9 624.9 L639.2 624.9 L637.6 625.6 L636.0 625.4 L634.5 625.7 L633.0 625.7 L631.5 626.1 L630.0 626.1 L628.3 626.6 L626.7 627.3 L625.0 627.7 L623.5 628.5 L621.7 628.3 L620.1 629.0 L618.0 629.4 L616.1 630.2 L614.3 630.6 L612.5 631.3 L611.5 632.4 L610.1 633.2 L610.1 635.2 L608.1 635.5 L607.5 637.0 L606.2 638.3 L604.8 639.6 L603.3 640.8 L602.5 642.6 L601.3 643.4 L599.5 643.5 L599.0 645.5 L597.2 645.5 L596.0 646.4 L594.9 648.0 L592.9 648.1 L591.4 648.9 L589.9 649.8 L588.5 651.1 L586.4 651.1 L585.1 652.6 L583.5 653.5 L581.7 653.6 L580.8 655.6 L578.9 655.2 L577.5 656.2 L576.3 657.3 L574.6 657.5 L573.7 659.0 L572.3 659.7 L571.0 660.5 L569.5 661.1 L568.9 662.7 L567.5 663.3 L566.3 664.2 L565.0 665.0 L563.6 665.9 L563.3 667.7 L561.6 668.4 L561.1 670.0 L560.1 671.2 L559.5 672.7 L558.4 673.7 L557.2 674.9 L556.8 676.4 L556.1 677.9 L556.3 679.6 L555.8 681.1 L555.3 682.6 L554.4 684.0 L553.9 685.7 L553.3 687.3 L554.0 689.3 L552.6 690.7 L552.3 692.5 L552.7 694.1 L553.7 695.6 L553.6 697.3 L553.8 698.9 L554.4 700.4 L553.6 702.2 L554.5 703.5 L554.9 705.0 L555.1 706.6 L555.4 708.2 L556.3 709.6 L556.9 711.0 L557.2 712.7 L557.6 714.3 L558.2 715.9 L558.7 717.4 L557.8 719.1 L556.1 719.8 L555.0 721.3 L553.6 720.3 L551.6 720.6 L550.1 719.9 L548.4 719.5 L547.2 718.0 L545.7 717.3 L544.0 716.9 L542.5 716.5 L541.2 715.6 L539.8 715.1 L538.3 714.7 L536.7 714.4 L535.3 713.8 L533.9 713.1 L532.5 712.6 L531.0 712.2 L529.5 711.6 L528.1 710.9 L526.4 711.3 L525.0 710.5 L523.3 710.3 L521.9 709.6 L520.6 708.4 L519.0 708.0 L517.6 707.4 L516.5 706.0 L515.1 704.7 L514.4 703.1 L513.5 701.5 L513.0 699.7 L512.1 698.0 L510.9 696.6 L510.0 695.0 L509.3 693.5 L509.4 691.7 L508.6 690.2 L508.4 688.5 L507.8 687.1 L507.6 685.6 L507.9 684.0 L507.4 682.6 L507.1 681.0 L505.6 680.1 L505.4 678.4 L504.0 677.5 L503.4 676.1 L502.8 674.4 L501.5 673.1 L501.1 671.4 L499.9 670.1 L498.8 668.7 L498.5 666.9 L497.7 665.4 L496.9 663.8 L496.0 662.4 L494.9 661.1 L494.3 659.5 L493.5 658.1 L492.5 656.8 L492.0 655.1 L490.6 654.0 L490.1 652.4 L489.3 651.1 L487.9 650.2 L487.1 648.9 L486.7 647.3 L486.0 645.9 L484.5 645.0 L483.9 643.5 L483.2 642.2 L481.9 641.3 L481.5 639.7 L480.3 638.7 L479.0 637.7 L478.3 636.3 L477.5 635.0 L476.4 634.0 L475.4 632.7 L474.0 632.0 L473.4 630.5 L472.0 629.7 L471.0 628.5 L469.9 627.2 L468.5 626.2 L467.3 625.0 L466.4 623.5 L465.0 622.3 L463.6 621.9 L462.0 621.6 L460.5 621.5 L458.9 621.3 L457.5 620.3 L456.0 620.2 L454.5 620.0 L453.0 620.4 L451.5 620.0 L450.0 619.8 L448.2 620.2 L446.6 620.9 L445.0 621.6 L443.4 622.3 L441.5 622.7 L440.0 623.8 L439.0 624.9 L438.1 626.1 L437.0 627.2 L436.1 628.4 L435.6 629.9 L434.6 631.1 L433.7 632.4 L432.6 633.6 L431.6 634.8 L430.4 636.0 L429.4 637.3 L428.6 638.9 L427.6 637.5 L426.2 636.4 L424.9 635.3 L423.4 634.5 L421.9 633.6 L421.0 632.3 L419.8 631.3 L418.6 630.4 L417.6 629.2 L416.1 628.6 L414.9 627.6 L413.7 626.3 L412.6 624.9 L410.9 624.1 L410.0 622.5 L408.6 621.4 L407.1 620.4 L406.2 618.8 L405.0 617.5 L403.7 616.3 L402.4 615.0 L401.8 613.6 L401.7 611.9 L401.2 610.4 L400.5 609.0 L399.9 607.5 L399.8 605.9 L399.2 604.4 L398.3 603.1 L398.1 601.5 L397.6 599.9 L396.7 598.5 L395.3 597.5 L394.2 596.3 L393.2 594.9 L391.9 593.9 L390.9 592.6 L389.8 591.4 L389.1 589.9 L387.9 588.8 L387.0 587.5 L385.9 586.3 L385.0 585.0 L383.7 584.0 L382.5 582.8 L382.1 581.0 L380.6 580.1 L379.3 579.0 L378.5 577.5 L377.7 576.1 L376.3 575.2 L375.6 573.7 L374.4 572.6 L373.5 571.2 L372.4 570.1 L371.2 569.0 L370.8 567.2 L369.8 566.0 L368.5 565.0 L367.7 563.7 L366.6 562.6 L366.1 561.1 L365.0 560.0 L363.5 559.7 L361.9 559.9 L360.4 559.9 L358.8 559.8 L357.3 560.5 L355.8 560.8 L354.3 560.7 L352.7 560.7 L351.2 560.9 L349.7 561.0 L348.1 560.6 L346.6 560.3 L345.1 560.8 L343.5 560.4 L342.0 560.5 L340.5 561.3 L338.9 560.9 L337.4 561.1 L335.9 561.4 L334.3 560.7 L332.8 561.4 L331.2 561.2 L330.9 563.0 L330.3 564.7 L330.3 566.5 L330.3 568.3 L330.0 570.0 L328.4 570.2 L326.8 569.4 L325.3 569.2 L323.6 569.8 L322.0 569.8 L320.4 569.5 L318.9 569.3 L317.3 568.7 L315.7 568.6 L314.1 568.6 L312.5 568.9 L311.0 568.3 L309.5 568.1 L307.9 567.9 L306.4 567.4 L304.7 567.9 L303.2 567.6 L301.8 566.8 L300.3 566.4 L298.7 566.4 L297.1 566.5 L295.6 566.0 L294.1 565.6 L292.4 566.0 L290.9 565.5 L289.4 565.4 L287.8 565.2 L286.3 564.7 L284.8 564.7 L283.2 564.4 L281.7 564.3 L280.2 563.5 L278.6 563.9 L277.1 563.0 L275.5 563.3 L274.0 563.2 L272.6 562.4 L271.1 561.9 L270.1 560.6 L268.8 559.9 L267.5 559.1 L265.8 558.9 L264.7 557.9 L263.2 557.4 L262.3 556.0 L260.9 555.3 L259.5 554.7 L258.1 554.1 L256.8 553.4 L255.7 552.3 L254.2 551.8 L253.0 550.9 L251.5 550.5 L250.2 549.7 L248.8 549.0 L247.8 547.7 L246.5 547.1 L245.0 546.7 L244.0 545.3 L242.4 545.0 L241.2 544.1 L239.8 543.6 L238.5 542.7 L237.5 541.5 L236.0 541.1 L234.5 540.5 L233.3 539.5 L231.9 538.8 L230.8 537.6 L229.2 537.4 L228.2 536.0 L226.5 535.9 L225.5 534.5 L224.1 533.9 L222.5 533.4 L221.3 532.5 L219.9 531.8 L218.6 531.1 L217.2 530.3 L215.9 529.4 L214.9 528.2 L213.6 527.4 L212.2 526.7 L210.5 526.5 L209.2 525.6 L208.2 524.4 L206.5 524.2 L205.4 522.9 L203.9 522.5 L202.9 521.2 L201.1 521.2 L200.1 520.0 L198.7 517.5 L200.0 515.9 L198.4 516.0 L197.0 515.1 L195.5 515.1 L194.0 515.2 L192.5 514.8 L191.0 514.2 L189.5 514.6 L188.0 514.1 L186.5 514.3 L185.0 514.1 L183.5 513.4 L182.0 513.2 L180.5 513.5 L179.0 513.4 L177.5 513.2 L176.0 512.5 L174.5 512.4 L173.0 512.4 L171.5 512.3 L170.0 511.7 L168.5 511.5 L167.0 511.2 L165.5 511.2 L164.0 511.3 L162.4 511.3 L161.0 510.5 L159.5 510.6 L158.0 510.1 L156.4 510.5 L155.0 509.6 L153.5 509.8 L152.1 509.5 L152.1 508.0 L151.6 506.5 L151.0 505.1 L151.6 503.5 L151.0 502.0 L151.1 500.5 L150.4 499.0 L150.1 497.5 L150.5 496.0 L150.0 494.5 L148.9 493.0 L148.1 491.3 L147.5 489.6 L146.4 488.1 L145.5 486.5 L144.5 485.0 L143.5 483.5 L142.4 482.1 L141.7 480.6 L140.7 479.2 L139.8 477.9 L138.4 476.9 L137.6 475.5 L136.4 474.4 L135.7 473.0 L134.2 472.2 L133.8 470.5 L132.6 469.4 L131.2 468.4 L130.0 467.3 L128.8 466.2 L127.5 465.1 L126.0 464.4 L125.1 462.9 L123.6 462.2 L122.3 461.2 L121.0 460.3 L119.9 459.2 L118.9 457.8 L117.4 457.1 L115.9 456.3 L114.9 454.9 L113.2 454.2 L111.9 453.1 L110.6 452.0 L109.2 451.2 L107.7 450.4 L106.3 449.4 L104.3 449.0 L102.9 447.5 L101.0 446.9 L99.2 446.5 L97.7 445.6 L96.2 444.5 L96.2 442.8 L96.0 441.1 L95.8 439.4 L96.0 437.7 L95.9 436.0 L95.9 434.5 L96.0 433.0 L95.2 431.5 L95.4 430.0 L95.4 428.5 L94.9 427.0 L94.8 425.5 L94.4 424.0 L93.4 422.8 L92.9 421.4 L92.8 419.8 L92.0 418.5 L91.2 416.9 L91.0 415.1 L90.1 413.5 L89.1 412.0 L88.3 410.4 L87.6 408.7 L87.0 406.9 L86.5 405.1 L85.8 403.6 L85.2 402.1 L84.4 400.7 L83.6 399.2 L82.3 398.0 L81.9 396.4 L82.3 394.7 L82.3 392.9 L81.7 391.2 L81.8 389.4 L81.9 387.7 L82.5 386.2 L83.4 384.8 L83.8 383.1 L84.8 381.8 L85.6 380.4 L83.7 379.8 L82.0 378.7 L80.7 377.4 L80.2 375.9 L79.7 374.4 L78.9 373.1 L78.4 371.6 L77.7 370.2 L78.2 368.5 L77.7 366.7 L78.6 365.0 L78.5 363.2 L79.1 361.5 L79.4 360.0 L80.1 358.6 L81.0 357.3 L81.2 355.7 L79.6 354.9 L78.3 353.8 L76.8 352.8 L76.8 350.9 L75.9 349.2 L75.6 347.4 L75.4 345.5 L74.5 344.2 L74.3 342.5 L74.0 341.0 L73.1 339.7 L72.4 338.2 L71.7 336.8 L71.1 335.3 L70.0 334.0 L69.5 332.5 L68.7 331.1 L68.2 329.6 L67.6 328.1 L66.9 326.6 L66.2 325.2 L65.5 323.8 L65.2 322.2 L65.7 320.5 L65.8 318.8 L66.0 317.1 L66.3 315.4 L66.1 313.7 L66.7 312.0 L67.2 310.5 L67.8 309.1 L68.5 307.7 L69.0 306.1 L69.5 304.7 L69.1 303.0 L68.8 301.3 L68.7 299.5 L68.3 297.8 L68.1 296.0 L67.1 294.7 L66.7 293.1 L66.5 291.5 L65.4 290.3 L65.0 288.7 L64.3 287.3 L63.6 285.8 L64.6 284.0 L64.5 281.9 L65.2 280.1 L67.9 279.9 L68.7 278.1 L70.3 276.8 L71.0 275.0 L71.1 273.4 L71.9 272.0 L72.4 270.5 L73.2 269.1 L73.4 267.5 L73.8 265.9 L74.9 264.6 L75.2 263.1 L75.2 261.4 L75.9 260.0 L76.1 258.5 L76.6 257.0 L76.7 255.5 L77.1 254.0 L77.1 252.5 L77.2 251.0 L77.6 249.5 L77.8 248.0 L78.0 246.5 L78.0 245.0 L78.4 243.5 L78.4 242.0 L78.7 240.5 L78.1 239.0 L78.6 237.5 L78.3 235.9 L79.1 234.5 L79.2 233.0 L79.3 231.5 L79.6 230.1 L80.4 228.4 L81.1 226.6 L82.1 225.1 L83.3 223.5 L84.1 221.7 L85.0 220.0 L86.0 218.8 L87.0 217.6 L88.2 216.5 L88.9 215.1 L90.0 214.0 L91.0 212.7 L91.9 211.3 L92.9 210.0 L94.2 209.0 L95.1 207.5 L95.4 205.8 L95.8 204.2 L96.0 202.4 L96.5 200.8 L96.8 199.1 L97.5 197.5 L98.0 195.9 L98.0 194.1 L99.1 192.6 L99.0 190.8 L99.9 189.2 L100.1 187.6 L101.0 186.3 L101.1 184.6 L101.9 183.2 L103.0 182.0 L102.9 180.2 L103.9 178.9 L104.9 177.4 L105.6 175.8 L106.7 174.4 L107.4 172.7 L108.0 171.0 L108.8 169.6 L108.7 168.0 L109.0 166.5 L109.5 165.0 L109.6 163.5 L109.9 162.0 L110.4 160.4 L110.5 158.8 L111.4 157.3 L111.5 155.7 L111.7 154.1 L111.9 152.5 L112.0 151.0 L112.1 149.5 L112.4 148.0 L112.5 146.5 L112.6 145.0 L113.2 143.6 L113.1 142.0 L113.3 140.5 L113.8 139.0 L114.2 137.5 L114.2 136.0 L114.6 134.5 L115.2 133.1 L114.9 131.4 L115.4 130.0 L116.3 128.4 L116.5 126.7 L116.5 125.0 L116.3 123.3 L117.2 121.7 L117.1 120.0 L117.1 118.5 L117.0 116.9 L116.7 115.5 L116.1 114.0 L115.9 112.5 L115.7 111.0 L115.8 109.5 L115.7 108.0 L115.3 106.5 L115.4 105.0 L115.7 103.4 L115.7 101.9 L115.6 100.3 L116.2 98.7 L116.0 97.1 L115.5 95.6 L116.0 94.0 L117.5 94.8 L119.3 95.0 L120.7 96.0 L122.6 96.0 L124.0 96.9 L125.4 97.8 L127.0 98.1 L128.5 98.6 L130.1 98.7 L131.5 99.5 L133.0 100.1 L134.7 99.8 L135.9 101.4 L137.5 101.6 L138.4 101.9 L138.6 103.6 L138.9 105.2 L139.5 106.9 L139.2 108.5 L137.7 109.9 L138.8 111.9 L138.5 113.6 L138.0 115.2 L136.6 116.7 L135.4 118.1 L135.9 120.0 L134.9 121.6 L137.0 123.5 L137.0 125.1 L134.5 126.6 L135.7 128.4 L134.8 130.2 L136.4 131.1 L137.8 132.1 L137.8 133.8 L138.1 132.0 L140.9 132.4 L141.2 130.6 L141.7 128.9 L142.9 128.0 L143.5 126.2 L143.4 124.2 L146.4 123.7 L146.4 121.7 L147.5 120.2 L147.3 118.4 L148.3 117.1 L147.8 115.3 L147.7 113.6 L150.7 112.9 L150.4 111.0 L149.3 109.5 L150.9 107.7 L150.5 106.2 L148.8 104.8 L149.6 103.1 L150.5 101.4 L149.0 100.0 L150.6 98.4 L148.7 96.4 L149.4 94.7 L150.2 93.1 L150.1 90.9 L151.8 89.5" fill="none" stroke="#626367" stroke-width="1.9" stroke-linejoin="round"/>
<path d="M990.5 311.3 L991.8 310.3 L992.8 309.1 L994.1 308.1 L995.3 307.0 L996.1 305.6 L997.3 304.4 L998.8 303.7 L1000.1 302.6 L1001.5 301.7 L1003.3 301.4 L1004.5 300.2 L1006.1 299.6 L1007.4 298.5 L1008.9 297.7 L1010.0 296.6 L1011.5 296.0 L1012.9 295.2 L1014.1 294.1 L1015.4 293.3 L1016.7 292.3 L1017.7 291.0 L1019.2 290.5 L1020.7 289.7 L1022.0 288.7 L1023.4 287.7 L1025.2 287.5 L1026.5 286.5 L1025.5 287.9 L1024.5 289.4 L1023.7 291.0 L1022.9 292.5 L1021.8 293.8 L1020.3 294.6 L1019.2 295.9 L1017.6 296.7 L1016.4 297.9 L1015.5 299.4 L1014.1 300.4 L1012.8 301.4 L1011.2 301.9 L1010.1 303.2 L1008.7 304.0 L1007.5 305.1 L1006.1 305.9 L1004.9 306.9 L1003.5 307.8 L1002.0 308.5 L1000.5 309.2 L998.9 309.8 L997.4 310.7 L995.8 311.2 L994.5 312.2 L992.6 311.5 L990.6 311.4Z" fill="none" stroke="#626367" stroke-width="1.5" stroke-linejoin="round"/>
<path d="M598.1 150.6 L597.9 149.0 L597.9 147.3 L598.7 145.8 L597.9 144.1 L598.5 142.5 L600.2 142.6 L602.0 142.6 L603.9 142.5 L604.0 144.1 L604.6 145.6 L604.6 147.2 L606.0 148.5 L605.3 150.3 L606.6 151.6 L606.3 153.3 L607.1 154.7 L607.5 156.4 L609.2 156.4 L610.7 157.0 L612.3 157.2 L613.7 158.4 L615.3 158.6 L617.0 158.7 L618.5 159.2 L620.0 159.8 L621.6 159.6 L623.2 160.1 L624.9 159.9 L626.5 160.2 L628.1 159.5 L629.8 160.4 L631.4 160.6 L633.0 160.3 L634.6 160.3 L636.2 160.1 L637.8 160.4 L638.8 161.6 L640.1 162.3 L641.3 163.4 L642.8 163.6 L644.5 163.7 L645.7 164.6 L647.0 165.5 L648.5 165.8 L650.1 166.1 L651.2 167.4 L653.1 167.2 L654.1 168.8 L655.5 169.6 L657.0 170.1 L658.3 171.0 L660.0 171.3 L661.6 170.5 L663.3 170.4 L665.1 170.3 L666.7 169.9 L668.3 169.0 L670.0 169.0 L671.6 168.4 L673.1 169.1 L674.7 168.7 L676.3 169.2 L677.8 170.1 L679.4 169.2 L680.9 170.4 L682.5 170.2 L684.1 170.6 L685.9 170.1 L687.5 171.0 L689.1 171.6 L690.9 171.2 L692.5 172.0" fill="none" stroke="#626367" stroke-width="1.6" stroke-linejoin="round"/>
<path d="M962.1 382.6 L960.7 382.1 L959.4 381.5 L958.1 380.8 L956.2 382.0 L955.0 380.9 L953.8 379.5 L952.3 379.1 L950.6 379.3 L948.9 379.3 L947.5 378.7 L946.7 376.8 L944.5 378.5 L943.3 377.1 L943.9 375.2 L942.1 374.6 L940.9 373.6 L941.0 372.0" fill="none" stroke="#55565a" stroke-width="1.7" stroke-linejoin="round" stroke-linecap="round"/>
<path d="M965.8 393.3 L965.1 391.8 L963.8 391.1 L962.4 390.6 L960.8 390.4 L960.2 388.7 L959.2 387.6 L957.5 387.5 L956.3 386.7 L954.8 386.2 L952.9 386.0 L952.1 384.3 L951.0 382.9 L949.3 383.5 L948.8 381.3 L947.0 382.1 L946.0 381.0" fill="none" stroke="#55565a" stroke-width="1.7" stroke-linejoin="round" stroke-linecap="round"/>
<path d="M968.7 399.1 L966.8 399.6 L965.3 399.2 L965.2 396.3 L962.9 397.4 L961.8 396.3 L961.0 394.9 L959.4 394.7 L959.0 392.8 L956.8 393.4 L956.0 392.0" fill="none" stroke="#55565a" stroke-width="1.7" stroke-linejoin="round" stroke-linecap="round"/>
<path d="M972.1 406.6 L970.8 405.5 L969.2 405.3 L967.2 406.9 L966.0 405.4 L964.3 405.4 L962.7 404.8 L960.7 404.8 L959.5 404.2 L958.9 402.8 L957.5 402.3 L956.9 401.0 L955.7 400.4 L954.2 400.2 L953.8 398.0 L952.1 397.9 L951.0 397.0 L949.5 397.9 L949.3 399.7 L948.9 401.5 L947.0 402.0" fill="none" stroke="#55565a" stroke-width="1.7" stroke-linejoin="round" stroke-linecap="round"/>
<path d="M966.8 368.1 L966.5 369.5 L968.5 370.5 L966.7 372.3 L969.1 373.1 L968.2 374.8 L969.4 375.8 L969.0 377.7 L971.0 378.4 L970.3 380.4 L970.9 381.8 L971.7 383.1 L972.5 384.4 L971.9 386.1 L972.0 387.5 L974.6 388.3 L974.0 390.0" fill="none" stroke="#55565a" stroke-width="1.7" stroke-linejoin="round" stroke-linecap="round"/>
<path d="M960.1 366.0 L958.4 367.1 L958.2 368.7 L959.2 370.7 L957.6 372.2 L958.3 373.5 L960.3 374.3 L958.7 376.7 L961.0 377.3 L961.0 379.0" fill="none" stroke="#55565a" stroke-width="1.7" stroke-linejoin="round" stroke-linecap="round"/>
<path d="M966.1 434.3 L964.1 434.3 L962.6 433.5 L961.6 431.9 L959.8 431.8 L960.3 429.5 L959.4 428.5 L957.7 428.3 L957.3 426.7 L956.0 426.0 L955.0 425.0" fill="none" stroke="#55565a" stroke-width="1.7" stroke-linejoin="round" stroke-linecap="round"/>
<path d="M976.9 432.9 L975.9 434.1 L974.6 435.1 L975.2 436.8 L976.7 437.3 L976.0 439.5 L977.5 440.0" fill="none" stroke="#55565a" stroke-width="1.7" stroke-linejoin="round" stroke-linecap="round"/>
<path d="M971.8 454.4 L970.4 454.4 L969.7 452.8 L968.1 453.3 L966.8 452.9 L966.0 451.5 L964.7 451.0 L963.2 450.7 L962.3 449.6 L961.6 447.9 L959.7 448.2 L958.6 447.2 L958.5 445.5" fill="none" stroke="#55565a" stroke-width="1.7" stroke-linejoin="round" stroke-linecap="round"/>
<path d="M974.0 457.5 L973.0 458.4 L971.3 457.7 L970.6 459.5 L969.2 459.5 L967.9 460.1 L966.7 459.7 L966.1 457.9 L964.0 459.5 L963.1 458.1 L962.1 457.7 L961.0 458.6 L959.5 459.0" fill="none" stroke="#55565a" stroke-width="1.7" stroke-linejoin="round" stroke-linecap="round"/>
<path d="M979.0 450.0 L977.4 449.6 L975.7 449.4 L975.0 447.3 L973.5 447.8 L972.3 447.4 L971.2 446.6 L970.0 446.0" fill="none" stroke="#55565a" stroke-width="1.7" stroke-linejoin="round" stroke-linecap="round"/>
<path d="M984.9 432.3 L984.4 433.7 L983.0 434.4 L981.5 435.1 L981.4 436.4 L982.5 437.7 L982.7 439.3 L982.5 441.0" fill="none" stroke="#55565a" stroke-width="1.7" stroke-linejoin="round" stroke-linecap="round"/>
<path d="M1015.7 287.6 L1016.5 286.4 L1017.6 285.6 L1019.7 285.7 L1020.0 284.0 L1021.5 283.9 L1021.9 281.9 L1023.6 282.2 L1025.2 282.4 L1026.0 281.0" fill="none" stroke="#55565a" stroke-width="1.7" stroke-linejoin="round" stroke-linecap="round"/>
<path d="M690.0 636.1 L691.0 637.0 L691.9 638.0 L693.8 637.5 L694.5 639.0 L695.3 640.2 L697.1 640.4 L698.3 639.0 L699.9 640.0 L701.2 639.7 L702.6 639.2 L704.1 639.5 L705.4 638.7 L706.8 638.1 L708.5 638.9 L709.7 637.7 L711.0 637.0" fill="none" stroke="#55565a" stroke-width="1.7" stroke-linejoin="round" stroke-linecap="round"/>
<path d="M722.0 633.0 L722.7 634.3 L722.9 635.9 L723.7 637.1 L724.5 638.2 L726.5 638.6 L726.9 640.5 L728.5 640.1 L730.1 640.0 L731.7 639.7 L733.0 641.0 L733.0 639.3 L734.0 638.2 L735.5 637.4 L736.0 636.0" fill="none" stroke="#55565a" stroke-width="1.7" stroke-linejoin="round" stroke-linecap="round"/>
<path d="M560.0 664.0 L561.7 663.5 L562.9 662.5 L564.3 661.7 L564.9 659.8 L566.7 660.5 L567.5 659.0 L568.9 658.8 L570.1 658.2 L571.0 657.0" fill="none" stroke="#55565a" stroke-width="1.7" stroke-linejoin="round" stroke-linecap="round"/>
<path d="M602.8 640.9 L604.8 640.4 L605.5 639.1 L606.2 637.8 L606.2 636.2 L607.7 635.7 L607.1 633.1 L609.2 633.2 L610.0 632.0" fill="none" stroke="#55565a" stroke-width="1.7" stroke-linejoin="round" stroke-linecap="round"/>
<path d="M894.2 548.1 L893.7 546.3 L895.5 545.7 L896.6 544.8 L897.2 543.6 L897.0 542.0 L898.3 541.0 L898.7 539.3 L900.1 538.3 L900.7 536.7 L902.4 536.0 L903.2 534.7 L903.6 532.9 L905.0 532.0" fill="none" stroke="#55565a" stroke-width="1.7" stroke-linejoin="round" stroke-linecap="round"/>
<path d="M892.9 570.0 L893.0 571.4 L892.1 572.8 L893.7 574.4 L891.9 575.7 L892.6 577.2 L891.9 578.5 L892.3 579.9 L892.8 581.1 L893.3 582.3 L893.5 583.6 L892.9 585.2 L893.9 586.2 L893.1 587.8 L894.4 588.8 L895.0 590.0" fill="none" stroke="#55565a" stroke-width="1.7" stroke-linejoin="round" stroke-linecap="round"/>
<path d="M1056.3 192.0 L1056.1 193.7 L1056.5 195.4 L1055.6 197.0 L1055.5 198.4 L1055.5 199.7 L1056.0 201.0" fill="none" stroke="#55565a" stroke-width="1.7" stroke-linejoin="round" stroke-linecap="round"/>
<path d="M889.5 574.5 L888.8 576.1 L891.2 577.1 L890.8 578.7 L889.3 580.4 L890.3 581.7 L891.4 583.0 L891.2 584.5 L889.7 585.9 L890.7 587.5 L891.6 589.1 L889.1 590.4 L890.4 591.9 L890.1 593.4 L890.5 594.8 L891.3 596.0 L890.5 597.7 L892.9 598.4 L892.4 600.0 L893.6 601.3 L891.5 602.7 L893.7 603.9 L892.8 605.3 L892.1 606.7 L892.6 608.1 L894.3 609.2 L892.7 611.0 L893.1 612.4 L894.7 613.5 L894.6 615.0" fill="none" stroke="#55565a" stroke-width="1.7" stroke-linejoin="round" stroke-linecap="round"/>
<path d="M876.1 648.9 L877.8 649.4 L879.2 650.3 L879.6 651.9 L879.3 653.4 L878.5 654.8 L878.4 656.5 L878.1 657.9 L878.5 659.7 L879.8 660.8 L881.0 662.0" fill="none" stroke="#55565a" stroke-width="1.7" stroke-linejoin="round" stroke-linecap="round"/>
<path d="M890.0 672.1 L891.4 670.5 L893.2 670.8 L895.2 670.9 L895.2 672.6 L896.1 673.7 L896.4 675.3 L898.4 676.1 L897.8 677.5 L898.4 679.1 L897.5 680.4 L896.4 681.6 L896.3 682.6 L897.8 683.4 L898.4 685.3 L900.0 686.0" fill="none" stroke="#55565a" stroke-width="1.7" stroke-linejoin="round" stroke-linecap="round"/>
<path d="M917.4 623.8 L917.0 625.4 L918.9 626.2 L918.6 627.7 L918.8 629.1 L918.8 630.5 L920.1 631.5 L920.5 632.7 L921.0 634.0" fill="none" stroke="#55565a" stroke-width="1.7" stroke-linejoin="round" stroke-linecap="round"/>
</g>
<path class="bd" d="M151.8 89.5 L242.5 113.8 L258.2 117.0 L324.8 129.2 L390.0 138.0 L450.0 145.0 L510.0 149.0 L565.0 151.2 L598.0 150.6 L598.5 142.5 L603.8 142.5 L607.5 156.2 L620.0 160.0 L636.2 160.0 L640.0 162.5 L650.0 166.2 L660.0 171.2 L670.0 168.8 L682.5 170.0 L692.5 172.0"/>
<path d="M692.5 172.1 L691.4 173.2 L689.8 173.9 L688.8 175.3 L687.2 176.0 L686.0 177.1 L684.9 178.3 L683.3 179.0 L682.1 180.1 L680.8 181.0 L679.9 182.2 L678.7 183.1 L677.3 183.8 L675.9 184.5 L675.1 185.9 L673.8 186.8 L672.5 187.5 L671.1 188.3 L670.1 189.6 L669.1 190.7 L667.5 191.4 L666.9 193.1 L665.3 193.6 L664.5 195.0 L663.4 196.2 L662.1 197.1 L660.9 198.1 L659.4 198.8 L658.6 200.2 L657.2 200.9 L656.0 201.9 L654.9 203.1 L653.7 204.0 L652.5 204.9 L653.9 204.1 L655.4 203.7 L657.1 203.7 L658.5 202.9 L660.0 202.4 L661.6 201.9 L663.1 201.2 L664.6 200.5 L666.3 200.2 L667.9 199.5 L669.3 198.5 L671.0 198.2 L672.5 197.5 L672.3 199.2 L672.5 200.8 L673.1 202.4 L672.9 204.1 L674.3 204.9 L675.0 206.2 L676.5 206.5 L678.0 205.9 L679.5 206.2 L681.0 205.8 L682.5 206.3 L684.0 205.8 L685.4 204.9 L686.9 204.4 L688.1 203.3 L689.7 202.9 L691.0 202.0 L692.5 201.3 L694.0 200.5 L695.6 200.0 L697.2 199.4 L698.5 198.2 L700.0 197.5 L701.0 196.2 L702.6 195.8 L703.8 194.8 L705.3 194.1 L706.4 193.0 L707.4 191.7 L708.7 190.9 L710.0 190.0 L711.2 188.7 L712.8 188.0 L714.0 186.8 L715.4 185.7 L716.9 184.9 L718.5 184.6 L719.6 183.4 L721.0 182.9 L722.5 182.5 L724.3 182.6 L726.1 182.1 L725.2 183.4 L724.3 184.6 L723.2 185.8 L722.4 187.2 L721.6 188.5 L721.1 190.0 L720.2 191.5 L719.4 192.9 L718.1 194.1 L717.2 195.5 L717.0 197.3 L716.1 198.7 L715.0 199.9 L716.4 199.2 L718.0 198.7 L719.5 198.2 L721.0 197.4 L722.5 196.7 L724.2 196.8 L725.9 196.4 L727.5 196.3 L728.3 197.7 L729.6 198.7 L730.9 199.8 L732.0 201.0 L733.3 202.1 L735.0 202.7 L735.9 204.3 L737.5 205.1 L739.2 204.8 L740.8 204.3 L742.3 203.4 L744.0 203.0 L745.5 202.5 L747.0 202.9 L748.5 202.2 L749.9 202.4 L751.3 201.7 L752.8 201.1 L754.2 200.8 L755.6 200.0 L757.0 199.4 L758.5 199.0 L759.9 198.6 L761.5 198.1 L762.9 197.2 L764.6 197.4 L766.0 196.5 L767.6 195.8 L769.2 195.5 L770.8 195.2 L772.5 195.0 L773.9 195.7 L774.6 197.2 L775.9 198.2 L778.0 199.0 L780.0 200.0 L781.6 198.2 L784.2 198.1 L785.9 198.9 L787.7 199.8 L788.0 201.8 L790.4 201.9 L791.8 202.9 L791.8 205.4 L793.4 205.9 L795.3 205.8 L796.1 207.5 L798.2 207.1 L799.0 209.0 L797.0 209.5 L797.1 211.1 L795.3 210.7 L793.4 211.6 L791.7 211.1 L790.0 210.8 L788.2 210.1 L786.5 210.9 L784.6 210.5 L783.1 211.7 L781.7 212.7 L780.0 212.2 L778.3 212.1 L776.7 212.2 L775.0 212.2 L773.3 212.2 L771.7 212.3 L770.0 212.6 L768.6 213.0 L767.2 213.7 L765.9 214.5 L764.4 215.0 L762.9 215.4 L761.5 215.9 L760.0 216.2 L758.2 216.5 L756.8 217.6 L755.1 217.8 L753.4 218.4 L752.0 219.3 L750.3 219.7 L748.7 220.0 L747.0 219.9 L744.9 220.6 L742.8 220.9 L741.6 222.0 L740.4 223.0 L739.6 224.4 L738.7 226.0 L737.6 227.4 L736.6 228.9 L736.3 230.6 L735.1 231.7 L734.1 232.9 L733.6 234.5 L732.7 235.9 L732.2 237.5 L731.7 239.1 L730.6 240.4 L730.2 242.0 L729.1 243.3 L728.3 244.8 L728.0 246.5 L727.5 248.0 L726.5 249.3 L726.1 250.9 L725.8 252.4 L726.7 253.8 L726.9 255.4 L728.9 254.2 L730.3 252.5 L730.7 250.8 L732.0 249.6 L732.8 248.2 L733.2 246.5 L733.9 245.0 L734.8 243.7 L735.3 242.1 L736.2 240.7 L737.5 239.7 L738.0 238.2 L738.7 236.8 L739.5 235.5 L740.3 233.7 L741.7 232.2 L742.5 230.5 L743.0 228.9 L743.9 227.5 L744.9 226.2 L745.7 224.8 L746.9 223.6 L747.9 222.3 L747.3 224.1 L746.9 225.9 L745.9 227.4 L745.3 229.1 L744.4 230.5 L743.5 232.0 L742.3 233.5 L741.9 235.3 L740.9 236.8 L740.2 238.6 L739.3 240.3 L738.5 242.0 L738.2 244.0 L737.2 245.7 L736.6 247.5 L736.6 249.1 L735.5 250.4 L735.7 252.1 L735.0 253.5 L734.5 255.1 L734.3 256.7 L734.2 258.4 L733.7 260.0 L733.5 261.7 L733.0 263.4 L733.5 265.1 L732.8 266.8 L732.8 268.5 L732.7 270.0 L732.1 271.5 L732.2 273.0 L731.9 274.5 L731.7 276.0 L731.4 277.7 L731.7 279.4 L731.5 281.2 L731.6 282.9 L731.5 284.6 L731.5 286.2 L731.8 287.7 L731.8 289.3 L732.0 290.8 L731.7 292.4 L732.1 293.9 L732.0 295.5 L732.3 297.0 L733.0 298.7 L732.9 300.5 L732.9 302.3 L733.2 304.0 L733.9 305.7 L734.7 307.5 L735.0 309.5 L735.9 311.0 L736.2 312.7 L736.9 314.3 L736.9 316.0 L737.8 317.7 L738.7 319.4 L740.1 320.6 L741.4 321.7 L742.9 322.4 L744.6 322.7 L745.8 324.1 L747.6 324.6 L748.6 323.5 L750.2 323.2 L751.2 321.9 L752.5 321.2 L754.0 320.7 L755.1 319.6 L755.6 317.7 L756.7 316.2 L757.6 314.6 L758.4 313.0 L758.6 311.4 L759.1 310.0 L759.8 308.5 L759.8 307.0 L760.0 305.3 L759.9 303.7 L759.6 302.0 L759.8 300.3 L760.1 298.7 L760.0 297.0 L759.1 295.4 L759.4 293.5 L758.7 291.9 L758.4 290.2 L757.2 288.8 L756.9 287.0 L756.3 285.5 L756.6 283.8 L755.8 282.3 L755.3 280.7 L755.3 279.1 L755.1 277.5 L755.2 275.9 L754.6 274.3 L754.3 272.7 L754.9 271.1 L754.5 269.5 L754.5 267.9 L753.8 266.4 L753.7 264.8 L754.1 263.2 L753.8 261.6 L753.6 260.0 L754.2 258.4 L754.0 256.8 L754.2 255.2 L753.6 253.6 L754.1 252.0 L754.1 250.1 L755.3 248.6 L755.5 246.7 L756.0 245.0 L757.0 243.4 L758.3 241.9 L759.0 239.9 L760.6 238.5 L762.5 237.5 L763.6 238.7 L764.5 240.1 L765.4 241.5 L766.0 242.8 L768.0 242.5 L769.9 242.5 L769.6 240.9 L769.7 239.2 L769.1 237.7 L769.0 236.0 L769.6 234.4 L770.6 232.9 L771.3 231.3 L772.4 230.0 L772.2 228.3 L773.0 226.7 L773.0 225.0 L773.4 223.2 L774.3 221.7 L775.1 220.1 L775.7 217.8 L777.1 216.1 L778.5 214.8 L780.0 213.7 L781.3 214.9 L782.9 215.4 L784.3 216.4 L785.7 217.4 L787.0 218.5 L788.7 219.0 L790.0 220.1 L791.5 220.8 L793.0 221.6 L794.6 222.2 L796.1 223.0 L797.6 223.8 L798.9 224.5 L800.1 225.4 L801.0 226.8 L802.4 227.3 L803.7 228.2 L804.8 229.2 L805.2 230.9 L805.9 232.4 L806.8 233.7 L806.3 235.2 L805.6 236.7 L804.8 238.0 L805.1 239.7 L805.7 241.3 L805.8 243.1 L806.4 244.8 L806.1 246.6 L806.7 248.1 L806.3 249.7 L805.9 251.2 L804.7 252.4 L804.7 254.1 L804.0 255.6 L803.5 257.1 L802.5 258.5 L801.5 259.9 L800.6 261.3 L799.8 262.8 L799.9 264.7 L800.6 266.6 L800.4 268.5 L802.3 268.6 L804.0 269.3 L804.6 267.5 L805.5 265.8 L806.6 264.3 L807.6 262.7 L808.8 261.8 L809.9 260.6 L811.1 259.7 L812.0 258.5 L814.0 258.1 L815.9 257.8 L817.8 257.0 L819.0 258.0 L819.7 259.5 L821.3 260.0 L822.1 261.3 L822.7 262.8 L823.7 264.1 L823.7 265.8 L824.2 267.3 L825.1 268.6 L825.4 270.1 L825.8 271.6 L826.9 272.8 L827.0 274.4 L827.5 275.9 L827.9 277.3 L828.1 279.5 L828.7 281.7 L828.4 283.4 L827.9 285.1 L827.7 286.9 L827.4 288.6 L827.3 290.5 L825.7 291.5 L823.8 291.9 L823.6 293.9 L823.5 295.8 L822.8 297.6 L822.1 299.1 L821.3 300.5 L820.6 302.0 L819.9 303.5 L819.5 305.0 L819.3 306.6 L818.1 307.8 L817.7 309.4 L816.8 311.1 L815.8 312.8 L814.9 314.6 L817.1 314.9 L819.0 316.1 L820.6 316.0 L822.2 316.0 L823.8 316.5 L825.0 318.0 L826.7 318.9 L828.0 320.4 L829.9 320.5 L831.6 319.9 L833.5 319.6 L835.3 319.5 L836.8 318.8 L838.3 318.1 L839.7 317.1 L841.2 316.3 L842.4 315.0 L843.9 314.3 L845.4 313.6 L846.9 313.0 L847.9 311.7 L849.4 311.0 L850.3 309.7 L851.6 308.8 L853.0 308.1 L854.5 307.4 L855.7 306.5 L857.2 305.8 L858.5 304.8 L860.1 304.3 L861.5 303.5 L863.0 302.8 L864.3 301.8 L866.0 301.5 L867.2 300.2 L869.1 299.7 L870.5 298.7 L871.5 297.0 L873.2 296.3 L874.8 295.7 L876.3 294.9 L877.5 293.6 L878.9 292.6 L880.3 291.8 L881.6 290.9 L881.9 289.3 L883.0 288.2 L883.5 286.7 L884.6 285.7 L885.8 284.7 L886.2 283.1 L887.5 282.2 L888.2 280.8 L889.5 279.8 L890.3 278.4 L890.9 277.0 L892.2 275.9 L891.6 274.0 L890.7 272.1 L890.5 270.2 L889.1 268.6 L887.7 267.1 L888.4 264.1 L889.9 263.2 L891.6 262.6 L893.3 261.9 L895.0 261.4 L897.9 260.4 L899.6 260.6 L901.2 260.5 L902.8 259.7 L904.5 260.2 L906.1 259.9 L907.8 259.8 L909.3 259.1 L911.0 259.1 L912.8 258.8 L914.7 259.2 L916.5 258.7 L918.3 258.4 L920.1 258.0 L921.9 257.5 L923.7 257.0 L925.5 256.9 L927.0 256.2 L927.9 254.9 L929.4 254.4 L930.3 252.9 L931.5 251.9 L932.8 251.1 L933.1 249.6 L933.8 248.2 L934.8 246.9 L935.1 245.3 L934.7 243.8 L934.0 242.4 L933.7 240.8 L932.9 239.4 L931.7 238.0 L930.7 236.6 L931.0 235.0 L932.3 233.8 L932.8 232.2 L934.1 230.9 L935.1 229.4 L935.9 227.7 L937.1 226.3 L938.5 224.9 L938.8 222.8 L940.0 221.3 L941.1 219.9 L942.2 218.6 L943.6 217.5 L944.7 216.4 L945.1 214.6 L946.2 213.5 L946.9 212.0 L948.0 210.9 L948.9 209.7 L949.8 208.4 L951.0 207.4 L952.6 206.9 L954.3 207.2 L955.9 206.4 L957.4 205.9 L959.2 206.1 L960.8 205.8 L962.4 205.0 L964.0 204.6 L965.4 204.1 L966.9 203.7 L968.4 203.7 L969.8 203.1 L971.3 203.0 L972.8 202.7 L974.3 202.7 L975.8 202.6 L977.3 202.1 L978.7 201.5 L980.2 201.1 L981.7 200.8 L983.1 200.3 L984.6 199.9 L986.0 199.2 L987.5 199.0 L989.2 199.2 L990.4 198.1 L992.0 198.0 L993.6 197.7 L995.2 197.5 L996.6 196.6 L998.1 196.2 L999.6 195.8 L1001.2 195.6 L1002.8 195.2 L1004.4 195.3 L1005.9 194.8 L1007.5 194.1 L1007.3 192.4 L1007.6 190.8 L1008.6 189.3 L1008.8 187.8 L1010.0 186.7 L1011.3 185.9 L1012.3 184.5 L1013.8 183.9 L1015.8 183.9 L1017.7 183.2 L1018.1 181.6 L1018.4 180.0 L1017.9 178.4 L1018.2 176.7 L1018.8 175.2 L1019.8 173.8 L1020.6 172.4 L1021.6 171.0 L1022.1 169.5 L1022.8 167.9 L1022.6 166.3 L1021.9 164.8 L1021.6 163.3 L1020.8 161.8 L1020.9 160.2 L1020.9 158.7 L1021.8 157.3 L1021.9 155.7 L1021.9 154.2 L1022.1 152.6 L1022.6 151.2 L1022.8 149.6 L1022.9 148.0 L1022.4 146.4 L1022.6 144.8 L1023.2 143.4 L1023.7 141.9 L1024.1 140.5 L1024.4 139.0 L1025.2 137.6 L1025.2 136.0 L1025.9 134.7 L1026.6 133.3 L1027.6 131.8 L1028.0 130.0 L1028.8 128.4 L1029.1 126.7 L1029.8 124.9 L1031.4 125.1 L1032.8 125.7 L1033.5 127.4 L1034.4 128.9 L1034.8 130.6 L1036.4 129.5 L1038.1 128.5 L1039.5 127.2 L1040.6 126.1 L1042.1 125.6 L1043.5 124.9 L1044.5 123.6 L1046.2 123.5 L1047.9 124.0 L1049.6 124.3 L1051.0 125.4 L1052.7 126.0 L1053.8 127.4 L1055.3 128.2 L1055.9 129.7 L1056.7 131.1 L1056.6 132.8 L1057.7 134.1 L1057.8 135.7 L1058.7 137.1 L1059.3 138.5 L1059.3 140.1 L1060.2 141.4 L1060.1 143.0 L1061.0 144.3 L1061.7 145.7 L1062.2 147.2 L1062.4 148.7 L1062.7 150.2 L1062.9 151.7 L1064.1 153.0 L1064.3 154.5 L1064.9 155.9 L1064.7 157.6 L1065.6 158.8 L1067.3 159.0 L1068.9 159.5 L1070.4 160.2 L1071.9 160.8 L1072.2 162.7 L1072.8 164.4 L1073.1 166.2 L1073.9 168.0 L1076.0 168.7 L1077.8 169.7 L1079.3 170.5 L1080.9 170.5 L1082.5 171.6 L1082.9 173.6 L1084.7 174.5 L1085.6 176.3 L1084.9 178.3 L1083.8 180.3 L1083.5 182.2 L1081.8 182.7 L1080.5 183.6 L1078.1 183.4 L1078.3 185.9 L1075.8 185.3 L1075.7 188.1 L1074.1 188.6 L1072.3 188.9 L1070.4 189.6 L1069.6 191.8 L1068.1 193.3 L1066.1 193.8 L1064.3 194.8 L1062.2 194.6 L1062.4 197.2 L1060.7 197.5 L1058.1 197.7 L1057.5 200.3 L1056.2 202.1 L1054.7 203.8 L1053.4 205.2 L1054.4 207.8 L1053.5 209.4 L1051.5 210.8 L1049.4 209.4 L1047.9 211.6 L1045.8 210.9 L1043.8 210.4 L1042.4 211.9 L1043.3 213.2 L1042.8 214.5 L1041.4 215.8 L1040.5 217.9 L1038.2 218.5 L1038.7 220.4 L1038.6 222.3 L1038.2 224.2 L1036.3 225.6 L1035.2 227.3 L1035.6 229.4 L1033.9 230.9 L1035.0 233.1 L1035.4 234.6 L1034.8 236.3 L1034.4 237.6 L1033.0 238.8 L1033.9 241.0 L1033.2 242.2 L1034.4 243.5 L1035.5 244.9 L1036.6 246.2 L1038.6 247.5 L1037.1 248.3 L1036.0 249.4 L1034.8 250.6 L1034.3 252.1 L1034.1 253.6 L1033.9 255.1 L1035.3 256.0 L1036.5 257.0 L1036.9 258.6 L1038.1 259.9 L1038.6 261.4 L1038.9 263.0 L1039.9 264.3 L1040.8 265.6 L1041.6 266.9 L1042.0 268.5 L1040.1 269.4 L1037.7 269.9 L1036.7 271.8 L1036.5 273.8 L1036.1 275.5 L1035.3 276.9 L1034.2 278.0 L1032.6 278.7 L1031.5 279.8 L1030.3 280.7 L1029.2 281.8 L1027.7 282.2 L1026.2 282.6 L1024.9 283.4 L1023.3 283.8 L1021.8 284.4 L1020.5 285.4 L1019.4 287.0 L1017.4 286.6 L1016.3 288.0 L1014.7 288.6 L1013.4 289.8 L1011.6 290.1 L1010.6 291.8 L1009.0 292.3 L1007.5 293.1 L1006.3 294.1 L1004.7 294.4 L1003.6 295.5 L1002.5 296.5 L1001.2 297.3 L999.7 297.7 L998.7 298.9 L997.7 300.3 L996.1 301.3 L995.1 302.6 L993.9 303.9 L993.3 305.7 L992.0 307.0 L990.7 308.3 L989.8 309.8 L988.6 311.2 L988.2 313.1 L986.9 314.2 L989.0 313.6 L991.4 313.5 L992.0 315.5 L993.5 317.0 L993.5 319.0 L994.3 320.9 L993.9 322.4 L994.2 324.0 L994.3 325.5 L993.9 327.0 L993.2 328.8 L993.5 330.8 L992.8 332.6 L992.1 334.4 L991.8 336.3 L991.0 338.0 L990.6 339.7 L989.9 341.3 L989.3 342.9 L988.4 344.4 L987.6 345.7 L987.2 347.3 L986.6 348.8 L985.7 350.1 L984.3 351.3 L984.8 353.4 L983.7 354.7 L982.2 355.9 L983.7 353.0 L982.4 352.1 L980.3 352.0 L979.8 350.4 L977.9 349.4 L976.0 348.2 L974.5 348.8 L974.1 350.9 L972.6 350.6 L972.6 352.4 L974.1 353.2 L975.2 354.4 L975.7 355.9 L975.6 358.0 L978.0 358.0 L978.5 359.7 L979.9 360.7 L980.7 362.1 L980.3 364.1 L981.5 365.2 L982.9 366.4 L983.8 367.7 L983.2 369.5 L984.1 371.3 L984.4 373.0 L981.6 374.2 L982.6 376.0 L981.3 377.3 L982.0 379.1 L980.3 380.2 L981.0 382.0 L981.0 384.1 L980.5 385.9 L978.4 387.0 L977.3 388.5 L975.8 389.8 L976.5 392.1 L975.4 393.4 L975.9 395.1 L975.2 396.5 L975.4 398.0 L975.5 399.8 L974.8 401.5 L975.2 403.0 L973.0 402.3 L973.2 400.4 L972.8 398.9 L973.4 397.0 L970.9 395.7 L970.4 394.0 L971.5 391.8 L971.6 389.8 L969.6 388.7 L968.5 387.2 L969.5 384.9 L967.5 383.8 L967.7 381.9 L967.0 380.2 L966.9 378.4 L965.1 377.1 L965.6 375.0 L963.4 374.0 L963.4 372.0 L963.7 370.0 L963.0 368.3 L961.2 367.1 L960.2 365.6 L960.1 363.8 L959.8 362.0 L959.2 360.4 L958.2 358.8 L958.7 357.0 L959.5 355.3 L959.8 353.6 L958.2 352.4 L956.4 350.5 L955.0 351.5 L955.3 353.3 L953.7 354.9 L955.6 356.8 L954.2 358.5 L954.2 360.2 L954.1 362.0 L955.2 363.5 L955.3 365.3 L955.4 367.0 L956.3 368.6 L956.2 370.5 L957.3 372.0 L958.0 373.6 L959.7 374.9 L958.9 377.0 L959.7 378.7 L961.0 380.1 L960.7 382.1 L960.9 384.0 L962.4 385.3 L963.3 386.9 L963.7 388.6 L965.2 390.0 L965.1 391.9 L965.5 393.8 L967.0 395.3 L966.6 397.5 L967.0 398.9 L968.7 400.0 L967.6 401.9 L968.8 402.9 L969.0 404.8 L970.3 405.7 L972.2 407.0 L975.2 408.1 L975.2 409.7 L976.0 411.0 L975.6 412.7 L976.6 414.0 L976.8 416.0 L977.4 417.8 L978.4 419.5 L979.1 421.3 L980.5 422.6 L980.7 424.6 L982.0 426.0 L982.6 427.8 L983.7 429.2 L985.3 430.3 L985.9 432.1 L986.6 433.9 L988.4 435.1 L989.1 437.0 L989.4 438.8 L990.7 440.2 L990.8 442.0 L990.8 443.7 L989.9 445.3 L989.8 447.1 L988.4 448.0 L986.8 448.7 L985.9 450.2 L984.5 451.2 L983.0 452.0 L981.7 453.1 L980.5 454.4 L979.0 455.3 L977.6 456.3 L975.8 457.0 L975.8 458.8 L975.6 460.5 L976.3 462.2 L975.7 464.0 L976.1 465.9 L974.6 466.6 L973.1 467.4 L971.8 468.5 L970.1 469.0 L968.8 470.2 L967.4 471.0 L965.9 471.9 L965.0 473.2 L963.2 473.5 L962.2 474.7 L961.1 475.8 L959.6 476.4 L958.6 477.8 L957.0 478.2 L956.0 479.5 L955.1 481.0 L953.8 482.1 L953.0 483.7 L952.1 485.0 L951.2 486.3 L951.3 488.0 L950.0 489.2 L949.8 490.8 L948.0 491.4 L946.2 491.9 L944.7 493.1 L943.0 493.9 L941.7 494.8 L940.4 495.7 L939.4 497.1 L937.8 497.4 L935.9 496.9 L935.2 498.3 L934.0 499.4 L932.1 499.8 L932.8 502.5 L931.3 503.2 L929.9 504.1 L930.7 506.3 L930.0 507.6 L928.4 508.4 L927.7 509.7 L927.0 511.2 L926.7 512.8 L925.1 513.9 L924.4 515.4 L924.3 517.1 L923.1 518.3 L922.9 519.8 L923.2 521.6 L920.4 522.1 L920.9 524.3 L919.2 524.6 L917.7 524.4 L916.6 522.5 L914.7 522.2 L913.3 523.0 L912.9 524.9 L912.0 526.3 L911.3 527.9 L908.9 527.6 L907.9 528.9 L907.2 530.5 L905.5 531.1 L904.8 532.7 L902.6 532.9 L902.3 534.8 L902.2 536.7 L899.7 536.7 L900.9 539.4 L898.8 539.7 L898.1 541.0 L898.0 543.0 L897.7 544.8 L895.0 545.5 L895.6 547.7 L894.4 549.2 L892.7 550.5 L894.5 552.9 L893.9 554.6 L892.4 556.0 L892.3 557.5 L891.7 558.9 L890.9 560.4 L892.6 562.1 L892.0 563.6 L891.5 565.0 L892.7 566.6 L890.2 568.2 L890.6 569.8 L890.8 571.4 L892.1 572.9 L890.7 574.9 L891.3 576.6 L892.4 578.2 L892.2 580.1 L893.1 581.4 L894.3 582.6 L895.1 583.9 L895.3 585.4 L896.3 586.7 L896.0 588.4 L895.7 590.1 L896.0 591.6 L896.2 593.2 L897.1 594.5 L898.9 595.5 L898.7 597.2 L899.6 598.5 L899.8 600.1 L900.8 601.5 L902.2 602.7 L902.2 604.7 L902.4 606.5 L904.8 607.2 L904.7 609.2 L906.2 610.2 L906.9 611.7 L907.7 613.1 L908.1 614.8 L908.8 616.3 L909.9 617.5 L911.0 618.7 L911.4 620.2 L912.6 621.2 L913.5 622.4 L913.9 624.0 L915.0 625.0 L915.7 626.3 L916.5 627.6 L917.1 629.0 L918.4 630.0 L918.9 631.4 L919.9 632.5 L920.4 634.1 L921.5 635.3 L922.0 636.9 L922.8 638.2 L923.7 639.6 L924.5 641.0 L925.0 642.5 L926.1 643.8 L926.1 645.5 L927.4 646.6 L928.2 648.0 L928.9 649.5 L928.9 651.2 L930.1 652.5 L931.0 653.9 L931.8 655.3 L932.5 656.8 L932.6 658.6 L933.5 660.0 L933.9 661.6 L934.4 663.1 L935.5 664.4 L935.6 666.0 L936.3 667.5 L936.3 669.1 L936.7 670.6 L937.0 672.1 L938.0 673.4 L937.9 675.0 L937.8 676.5 L937.9 678.0 L938.8 679.5 L938.9 681.0 L938.9 682.5 L939.1 684.0 L938.3 685.5 L938.3 687.0 L938.4 688.5 L938.4 690.0 L938.2 691.5 L938.3 693.0 L938.3 694.5 L938.1 696.0 L937.4 697.5 L936.8 699.0 L935.9 700.3 L934.9 701.7 L934.1 703.1 L933.2 704.3 L932.1 705.4 L930.9 706.2 L930.0 707.5 L928.4 708.3 L926.5 708.4 L925.0 709.5 L923.3 709.4 L921.7 709.7 L919.9 710.1 L918.9 708.8 L918.0 707.5 L917.2 706.1 L916.0 705.0 L915.3 703.6 L914.3 702.5 L913.2 701.4 L912.6 699.9 L910.9 699.3 L909.9 697.8 L908.2 697.2 L906.9 696.1 L905.3 695.0 L904.4 693.2 L902.9 692.3 L900.7 691.8 L900.9 689.9 L900.1 688.6 L899.9 686.9 L898.2 686.2 L897.6 684.5 L896.4 683.2 L896.6 681.1 L894.8 680.2 L894.4 677.9 L892.0 677.7 L890.8 676.2 L890.2 674.5 L888.7 673.7 L887.2 672.7 L886.7 671.0 L884.5 670.5 L884.7 668.2 L883.5 667.0 L882.2 665.8 L881.3 664.6 L879.9 663.8 L879.1 662.5 L878.2 661.4 L877.8 660.1 L877.2 658.1 L879.6 657.4 L878.3 655.1 L879.7 654.0 L879.2 652.1 L879.5 649.6 L878.0 650.0 L876.5 650.3 L875.0 649.1 L873.2 649.9 L873.7 648.5 L874.2 647.0 L875.0 645.6 L875.3 644.1 L875.1 642.5 L874.4 640.9 L874.1 639.3 L873.4 637.8 L874.3 635.9 L874.0 634.4 L873.8 632.9 L872.1 631.7 L872.5 630.0 L871.8 628.2 L870.3 627.2 L868.8 626.3 L867.6 624.9 L866.6 623.4 L864.9 622.6 L863.6 621.9 L862.4 620.9 L861.5 619.6 L860.2 618.8 L858.4 618.5 L857.1 617.5 L856.0 616.4 L854.9 615.1 L853.8 613.7 L852.1 612.9 L851.0 611.5 L849.8 610.2 L849.4 608.1 L847.8 607.2 L845.7 606.8 L845.1 604.7 L842.7 604.6 L841.0 603.1 L839.4 601.9 L837.4 602.3 L835.3 603.1 L833.5 604.5 L832.7 605.9 L831.0 606.3 L830.2 607.7 L829.1 609.0 L827.6 609.9 L826.8 611.5 L825.0 612.1 L823.1 612.6 L821.5 613.7 L820.0 615.0 L818.0 614.8 L816.0 615.0 L814.0 615.0 L812.6 613.7 L811.5 612.2 L811.2 610.4 L810.2 608.8 L809.1 607.7 L808.4 606.3 L807.6 604.8 L805.5 604.4 L803.4 603.7 L801.9 602.6 L800.1 602.2 L798.5 601.5 L796.8 601.2 L795.0 600.8 L793.4 600.3 L791.7 600.1 L790.0 600.0 L788.5 600.5 L787.0 600.0 L785.6 601.1 L784.0 600.6 L782.3 600.2 L780.7 600.5 L779.1 600.8 L777.5 601.4 L775.9 601.6 L774.3 601.7 L772.6 601.6 L771.0 602.1 L769.5 601.8 L767.9 601.5 L766.5 602.9 L765.0 602.4 L763.3 602.5 L762.1 603.7 L760.5 604.0 L758.9 604.2 L757.6 605.7 L755.7 605.3 L754.3 606.4 L752.5 606.0 L751.0 605.5 L749.5 606.3 L748.0 607.1 L746.5 606.3 L745.0 606.5 L743.5 606.1 L742.0 606.4 L740.5 606.1 L739.0 605.0 L737.5 606.2 L736.0 607.0 L733.8 605.4 L732.9 608.7 L730.9 607.7 L729.6 608.9 L727.7 608.0 L727.0 610.9 L724.6 609.3 L724.0 611.3 L723.3 613.2 L721.3 612.6 L720.1 614.9 L722.6 615.8 L722.0 618.2 L722.6 619.9 L722.6 622.0 L724.7 623.1 L725.3 624.8 L726.8 626.2 L725.8 628.8 L727.2 630.6 L728.9 630.9 L731.0 630.7 L731.8 632.9 L733.6 633.0 L735.4 633.2 L736.7 635.3 L734.2 636.2 L733.8 638.0 L731.8 638.7 L730.0 640.0 L728.8 638.5 L726.6 638.1 L726.5 635.5 L724.4 635.2 L724.1 633.3 L722.7 632.0 L720.9 630.6 L718.5 631.0 L716.5 631.3 L714.9 630.0 L714.9 632.5 L712.2 632.6 L711.6 634.5 L709.8 634.5 L708.6 636.4 L706.8 636.5 L705.1 636.9 L703.4 637.1 L701.9 638.4 L699.9 638.3 L698.5 636.4 L696.6 637.9 L695.0 637.8 L693.4 636.8 L692.0 636.2 L690.4 636.0 L689.1 634.8 L687.7 634.8 L685.8 634.1 L686.0 631.1 L683.9 630.6 L681.1 631.1 L682.1 627.7 L680.1 626.9 L678.4 626.9 L676.6 627.2 L675.0 626.4 L673.3 626.3 L671.6 626.8 L670.0 626.4 L668.4 626.0 L666.8 626.4 L665.2 626.9 L663.6 627.2 L662.0 627.1 L660.3 627.4 L658.5 627.0 L656.8 627.5 L655.0 627.6 L653.5 626.8 L651.8 626.5 L650.1 626.7 L648.5 625.9 L647.0 625.7 L645.5 625.3 L644.0 625.1 L642.5 624.9 L640.9 624.9 L639.2 624.9 L637.6 625.6 L636.0 625.4 L634.5 625.7 L633.0 625.7 L631.5 626.1 L630.0 626.1 L628.3 626.6 L626.7 627.3 L625.0 627.7 L623.5 628.5 L621.7 628.3 L620.1 629.0 L618.0 629.4 L616.1 630.2 L614.3 630.6 L612.5 631.3 L611.5 632.4 L610.1 633.2 L610.1 635.2 L608.1 635.5 L607.5 637.0 L606.2 638.3 L604.8 639.6 L603.3 640.8 L602.5 642.6 L601.3 643.4 L599.5 643.5 L599.0 645.5 L597.2 645.5 L596.0 646.4 L594.9 648.0 L592.9 648.1 L591.4 648.9 L589.9 649.8 L588.5 651.1 L586.4 651.1 L585.1 652.6 L583.5 653.5 L581.7 653.6 L580.8 655.6 L578.9 655.2 L577.5 656.2 L576.3 657.3 L574.6 657.5 L573.7 659.0 L572.3 659.7 L571.0 660.5 L569.5 661.1 L568.9 662.7 L567.5 663.3 L566.3 664.2 L565.0 665.0 L563.6 665.9 L563.3 667.7 L561.6 668.4 L561.1 670.0 L560.1 671.2 L559.5 672.7 L558.4 673.7 L557.2 674.9 L556.8 676.4 L556.1 677.9 L556.3 679.6 L555.8 681.1 L555.3 682.6 L554.4 684.0 L553.9 685.7 L553.3 687.3 L554.0 689.3 L552.6 690.7 L552.3 692.5 L552.7 694.1 L553.7 695.6 L553.6 697.3 L553.8 698.9 L554.4 700.4 L553.6 702.2 L554.5 703.5 L554.9 705.0 L555.1 706.6 L555.4 708.2 L556.3 709.6 L556.9 711.0 L557.2 712.7 L557.6 714.3 L558.2 715.9 L558.7 717.4 L557.8 719.1 L556.1 719.8 L555.0 721.3 L553.6 720.3 L551.6 720.6 L550.1 719.9 L548.4 719.5 L547.2 718.0 L545.7 717.3 L544.0 716.9 L542.5 716.5 L541.2 715.6 L539.8 715.1 L538.3 714.7 L536.7 714.4 L535.3 713.8 L533.9 713.1 L532.5 712.6 L531.0 712.2 L529.5 711.6 L528.1 710.9 L526.4 711.3 L525.0 710.5 L523.3 710.3 L521.9 709.6 L520.6 708.4 L519.0 708.0 L517.6 707.4 L516.5 706.0 L515.1 704.7 L514.4 703.1 L513.5 701.5 L513.0 699.7 L512.1 698.0 L510.9 696.6 L510.0 695.0 L509.3 693.5 L509.4 691.7 L508.6 690.2 L508.4 688.5 L507.8 687.1 L507.6 685.6 L507.9 684.0 L507.4 682.6 L507.1 681.0 L505.6 680.1 L505.4 678.4 L504.0 677.5 L503.4 676.1 L502.8 674.4 L501.5 673.1 L501.1 671.4 L499.9 670.1 L498.8 668.7 L498.5 666.9 L497.7 665.4 L496.9 663.8 L496.0 662.4 L494.9 661.1 L494.3 659.5 L493.5 658.1 L492.5 656.8 L492.0 655.1 L490.6 654.0 L490.1 652.4 L489.3 651.1 L487.9 650.2 L487.1 648.9 L486.7 647.3 L486.0 645.9 L484.5 645.0 L483.9 643.5 L483.2 642.2 L481.9 641.3 L481.5 639.7 L480.3 638.7 L479.0 637.7 L478.3 636.3 L477.5 635.0 L476.4 634.0 L475.4 632.7 L474.0 632.0 L473.4 630.5 L472.0 629.7 L471.0 628.5 L469.9 627.2 L468.5 626.2 L467.3 625.0 L466.4 623.5 L465.0 622.3 L463.6 621.9 L462.0 621.6 L460.5 621.5 L458.9 621.3 L457.5 620.3 L456.0 620.2 L454.5 620.0 L453.0 620.4 L451.5 620.0 L450.0 619.8 L448.2 620.2 L446.6 620.9 L445.0 621.6 L443.4 622.3 L441.5 622.7 L440.0 623.8 L439.0 624.9 L438.1 626.1 L437.0 627.2 L436.1 628.4 L435.6 629.9 L434.6 631.1 L433.7 632.4 L432.6 633.6 L431.6 634.8 L430.4 636.0 L429.4 637.3 L428.6 638.9 L427.6 637.5 L426.2 636.4 L424.9 635.3 L423.4 634.5 L421.9 633.6 L421.0 632.3 L419.8 631.3 L418.6 630.4 L417.6 629.2 L416.1 628.6 L414.9 627.6 L413.7 626.3 L412.6 624.9 L410.9 624.1 L410.0 622.5 L408.6 621.4 L407.1 620.4 L406.2 618.8 L405.0 617.5 L403.7 616.3 L402.4 615.0 L401.8 613.6 L401.7 611.9 L401.2 610.4 L400.5 609.0 L399.9 607.5 L399.8 605.9 L399.2 604.4 L398.3 603.1 L398.1 601.5 L397.6 599.9 L396.7 598.5 L395.3 597.5 L394.2 596.3 L393.2 594.9 L391.9 593.9 L390.9 592.6 L389.8 591.4 L389.1 589.9 L387.9 588.8 L387.0 587.5 L385.9 586.3 L385.0 585.0 L383.7 584.0 L382.5 582.8 L382.1 581.0 L380.6 580.1 L379.3 579.0 L378.5 577.5 L377.7 576.1 L376.3 575.2 L375.6 573.7 L374.4 572.6 L373.5 571.2 L372.4 570.1 L371.2 569.0 L370.8 567.2 L369.8 566.0 L368.5 565.0 L367.7 563.7 L366.6 562.6 L366.1 561.1 L365.0 560.0 L363.5 559.7 L361.9 559.9 L360.4 559.9 L358.8 559.8 L357.3 560.5 L355.8 560.8 L354.3 560.7 L352.7 560.7 L351.2 560.9 L349.7 561.0 L348.1 560.6 L346.6 560.3 L345.1 560.8 L343.5 560.4 L342.0 560.5 L340.5 561.3 L338.9 560.9 L337.4 561.1 L335.9 561.4 L334.3 560.7 L332.8 561.4 L331.2 561.2 L330.9 563.0 L330.3 564.7 L330.3 566.5 L330.3 568.3 L330.0 570.0 L328.4 570.2 L326.8 569.4 L325.3 569.2 L323.6 569.8 L322.0 569.8 L320.4 569.5 L318.9 569.3 L317.3 568.7 L315.7 568.6 L314.1 568.6 L312.5 568.9 L311.0 568.3 L309.5 568.1 L307.9 567.9 L306.4 567.4 L304.7 567.9 L303.2 567.6 L301.8 566.8 L300.3 566.4 L298.7 566.4 L297.1 566.5 L295.6 566.0 L294.1 565.6 L292.4 566.0 L290.9 565.5 L289.4 565.4 L287.8 565.2 L286.3 564.7 L284.8 564.7 L283.2 564.4 L281.7 564.3 L280.2 563.5 L278.6 563.9 L277.1 563.0 L275.5 563.3 L274.0 563.2 L272.6 562.4 L271.1 561.9 L270.1 560.6 L268.8 559.9 L267.5 559.1 L265.8 558.9 L264.7 557.9 L263.2 557.4 L262.3 556.0 L260.9 555.3 L259.5 554.7 L258.1 554.1 L256.8 553.4 L255.7 552.3 L254.2 551.8 L253.0 550.9 L251.5 550.5 L250.2 549.7 L248.8 549.0 L247.8 547.7 L246.5 547.1 L245.0 546.7 L244.0 545.3 L242.4 545.0 L241.2 544.1 L239.8 543.6 L238.5 542.7 L237.5 541.5 L236.0 541.1 L234.5 540.5 L233.3 539.5 L231.9 538.8 L230.8 537.6 L229.2 537.4 L228.2 536.0 L226.5 535.9 L225.5 534.5 L224.1 533.9 L222.5 533.4 L221.3 532.5 L219.9 531.8 L218.6 531.1 L217.2 530.3 L215.9 529.4 L214.9 528.2 L213.6 527.4 L212.2 526.7 L210.5 526.5 L209.2 525.6 L208.2 524.4 L206.5 524.2 L205.4 522.9 L203.9 522.5 L202.9 521.2 L201.1 521.2 L200.1 520.0 L198.7 517.5 L200.0 515.9 L198.4 516.0 L197.0 515.1 L195.5 515.1 L194.0 515.2 L192.5 514.8 L191.0 514.2 L189.5 514.6 L188.0 514.1 L186.5 514.3 L185.0 514.1 L183.5 513.4 L182.0 513.2 L180.5 513.5 L179.0 513.4 L177.5 513.2 L176.0 512.5 L174.5 512.4 L173.0 512.4 L171.5 512.3 L170.0 511.7 L168.5 511.5 L167.0 511.2 L165.5 511.2 L164.0 511.3 L162.4 511.3 L161.0 510.5 L159.5 510.6 L158.0 510.1 L156.4 510.5 L155.0 509.6 L153.5 509.8 L152.1 509.5 L152.1 508.0 L151.6 506.5 L151.0 505.1 L151.6 503.5 L151.0 502.0 L151.1 500.5 L150.4 499.0 L150.1 497.5 L150.5 496.0 L150.0 494.5 L148.9 493.0 L148.1 491.3 L147.5 489.6 L146.4 488.1 L145.5 486.5 L144.5 485.0 L143.5 483.5 L142.4 482.1 L141.7 480.6 L140.7 479.2 L139.8 477.9 L138.4 476.9 L137.6 475.5 L136.4 474.4 L135.7 473.0 L134.2 472.2 L133.8 470.5 L132.6 469.4 L131.2 468.4 L130.0 467.3 L128.8 466.2 L127.5 465.1 L126.0 464.4 L125.1 462.9 L123.6 462.2 L122.3 461.2 L121.0 460.3 L119.9 459.2 L118.9 457.8 L117.4 457.1 L115.9 456.3 L114.9 454.9 L113.2 454.2 L111.9 453.1 L110.6 452.0 L109.2 451.2 L107.7 450.4 L106.3 449.4 L104.3 449.0 L102.9 447.5 L101.0 446.9 L99.2 446.5 L97.7 445.6 L96.2 444.5 L96.2 442.8 L96.0 441.1 L95.8 439.4 L96.0 437.7 L95.9 436.0 L95.9 434.5 L96.0 433.0 L95.2 431.5 L95.4 430.0 L95.4 428.5 L94.9 427.0 L94.8 425.5 L94.4 424.0 L93.4 422.8 L92.9 421.4 L92.8 419.8 L92.0 418.5 L91.2 416.9 L91.0 415.1 L90.1 413.5 L89.1 412.0 L88.3 410.4 L87.6 408.7 L87.0 406.9 L86.5 405.1 L85.8 403.6 L85.2 402.1 L84.4 400.7 L83.6 399.2 L82.3 398.0 L81.9 396.4 L82.3 394.7 L82.3 392.9 L81.7 391.2 L81.8 389.4 L81.9 387.7 L82.5 386.2 L83.4 384.8 L83.8 383.1 L84.8 381.8 L85.6 380.4 L83.7 379.8 L82.0 378.7 L80.7 377.4 L80.2 375.9 L79.7 374.4 L78.9 373.1 L78.4 371.6 L77.7 370.2 L78.2 368.5 L77.7 366.7 L78.6 365.0 L78.5 363.2 L79.1 361.5 L79.4 360.0 L80.1 358.6 L81.0 357.3 L81.2 355.7 L79.6 354.9 L78.3 353.8 L76.8 352.8 L76.8 350.9 L75.9 349.2 L75.6 347.4 L75.4 345.5 L74.5 344.2 L74.3 342.5 L74.0 341.0 L73.1 339.7 L72.4 338.2 L71.7 336.8 L71.1 335.3 L70.0 334.0 L69.5 332.5 L68.7 331.1 L68.2 329.6 L67.6 328.1 L66.9 326.6 L66.2 325.2 L65.5 323.8 L65.2 322.2 L65.7 320.5 L65.8 318.8 L66.0 317.1 L66.3 315.4 L66.1 313.7 L66.7 312.0 L67.2 310.5 L67.8 309.1 L68.5 307.7 L69.0 306.1 L69.5 304.7 L69.1 303.0 L68.8 301.3 L68.7 299.5 L68.3 297.8 L68.1 296.0 L67.1 294.7 L66.7 293.1 L66.5 291.5 L65.4 290.3 L65.0 288.7 L64.3 287.3 L63.6 285.8 L64.6 284.0 L64.5 281.9 L65.2 280.1 L67.9 279.9 L68.7 278.1 L70.3 276.8 L71.0 275.0 L71.1 273.4 L71.9 272.0 L72.4 270.5 L73.2 269.1 L73.4 267.5 L73.8 265.9 L74.9 264.6 L75.2 263.1 L75.2 261.4 L75.9 260.0 L76.1 258.5 L76.6 257.0 L76.7 255.5 L77.1 254.0 L77.1 252.5 L77.2 251.0 L77.6 249.5 L77.8 248.0 L78.0 246.5 L78.0 245.0 L78.4 243.5 L78.4 242.0 L78.7 240.5 L78.1 239.0 L78.6 237.5 L78.3 235.9 L79.1 234.5 L79.2 233.0 L79.3 231.5 L79.6 230.1 L80.4 228.4 L81.1 226.6 L82.1 225.1 L83.3 223.5 L84.1 221.7 L85.0 220.0 L86.0 218.8 L87.0 217.6 L88.2 216.5 L88.9 215.1 L90.0 214.0 L91.0 212.7 L91.9 211.3 L92.9 210.0 L94.2 209.0 L95.1 207.5 L95.4 205.8 L95.8 204.2 L96.0 202.4 L96.5 200.8 L96.8 199.1 L97.5 197.5 L98.0 195.9 L98.0 194.1 L99.1 192.6 L99.0 190.8 L99.9 189.2 L100.1 187.6 L101.0 186.3 L101.1 184.6 L101.9 183.2 L103.0 182.0 L102.9 180.2 L103.9 178.9 L104.9 177.4 L105.6 175.8 L106.7 174.4 L107.4 172.7 L108.0 171.0 L108.8 169.6 L108.7 168.0 L109.0 166.5 L109.5 165.0 L109.6 163.5 L109.9 162.0 L110.4 160.4 L110.5 158.8 L111.4 157.3 L111.5 155.7 L111.7 154.1 L111.9 152.5 L112.0 151.0 L112.1 149.5 L112.4 148.0 L112.5 146.5 L112.6 145.0 L113.2 143.6 L113.1 142.0 L113.3 140.5 L113.8 139.0 L114.2 137.5 L114.2 136.0 L114.6 134.5 L115.2 133.1 L114.9 131.4 L115.4 130.0 L116.3 128.4 L116.5 126.7 L116.5 125.0 L116.3 123.3 L117.2 121.7 L117.1 120.0 L117.1 118.5 L117.0 116.9 L116.7 115.5 L116.1 114.0 L115.9 112.5 L115.7 111.0 L115.8 109.5 L115.7 108.0 L115.3 106.5 L115.4 105.0 L115.7 103.4 L115.7 101.9 L115.6 100.3 L116.2 98.7 L116.0 97.1 L115.5 95.6 L116.0 94.0 L117.5 94.8 L119.3 95.0 L120.7 96.0 L122.6 96.0 L124.0 96.9 L125.4 97.8 L127.0 98.1 L128.5 98.6 L130.1 98.7 L131.5 99.5 L133.0 100.1 L134.7 99.8 L135.9 101.4 L137.5 101.6 L138.4 101.9 L138.6 103.6 L138.9 105.2 L139.5 106.9 L139.2 108.5 L137.7 109.9 L138.8 111.9 L138.5 113.6 L138.0 115.2 L136.6 116.7 L135.4 118.1 L135.9 120.0 L134.9 121.6 L137.0 123.5 L137.0 125.1 L134.5 126.6 L135.7 128.4 L134.8 130.2 L136.4 131.1 L137.8 132.1 L137.8 133.8 L138.1 132.0 L140.9 132.4 L141.2 130.6 L141.7 128.9 L142.9 128.0 L143.5 126.2 L143.4 124.2 L146.4 123.7 L146.4 121.7 L147.5 120.2 L147.3 118.4 L148.3 117.1 L147.8 115.3 L147.7 113.6 L150.7 112.9 L150.4 111.0 L149.3 109.5 L150.9 107.7 L150.5 106.2 L148.8 104.8 L149.6 103.1 L150.5 101.4 L149.0 100.0 L150.6 98.4 L148.7 96.4 L149.4 94.7 L150.2 93.1 L150.1 90.9 L151.8 89.5" fill="none" stroke="#55565a" stroke-width="0.9" stroke-linejoin="round"/>
<path d="M990.5 311.3 L991.8 310.3 L992.8 309.1 L994.1 308.1 L995.3 307.0 L996.1 305.5 L997.2 304.4 L998.8 303.7 L1000.0 302.5 L1001.5 301.7 L1003.3 301.5 L1004.5 300.2 L1006.2 299.7 L1007.4 298.5 L1008.9 297.7 L1010.0 296.5 L1011.6 296.0 L1013.0 295.3 L1014.1 294.1 L1015.5 293.3 L1016.7 292.4 L1017.7 291.0 L1019.2 290.5 L1020.7 289.7 L1022.0 288.7 L1023.4 287.6 L1025.2 287.6 L1026.5 286.5 L1025.4 287.9 L1024.4 289.4 L1023.7 291.0 L1022.9 292.5 L1021.8 293.8 L1020.2 294.6 L1019.2 295.9 L1017.6 296.7 L1016.3 297.8 L1015.5 299.5 L1014.1 300.4 L1012.9 301.5 L1011.1 301.8 L1010.1 303.2 L1008.7 303.9 L1007.6 305.1 L1006.1 305.9 L1004.9 307.0 L1003.5 307.9 L1002.0 308.5 L1000.5 309.2 L998.8 309.7 L997.4 310.6 L995.8 311.2 L994.5 312.2 L992.7 311.4 L990.6 311.4Z" fill="none" stroke="#55565a" stroke-width="0.9" stroke-linejoin="round"/>
<path d="M1058 199.5l2 3.5-2 3M1062 197.5l3 2.5-2 3M1066 195.200l3 1.800M1054 206.500l-2 4M1047 213.500l2 2M1071 192l2 1.500M1075 189l1.500 1.500" fill="none" stroke="#55565a" stroke-width="2.3" stroke-linecap="round" stroke-linejoin="round"/>
<path d="M1055.500 212.500l.8 .5M1059.500 209.800l.8 .4M1062.500 207.500l.8 .3M1052 215l.6 .6" fill="none" stroke="#55565a" stroke-width="1.300" stroke-linecap="round"/>
<path d="M140.9 100.1 L140.7 101.4 L141.0 102.6 L141.0 103.9 L142.0 104.8 L141.9 106.2 L145.0 106.3 L144.0 108.0 L142.2 108.6 L142.7 110.1 L141.5 111.0 L143.4 113.0 L141.9 113.7 L142.2 115.1 L141.0 116.0 L141.5 117.1 L143.6 117.1 L143.8 118.5 L144.3 119.6 L143.2 121.7 L144.7 121.9 L145.6 123.5 L143.3 124.0 L144.8 125.8 L142.9 126.4 L144.0 128.1 L143.9 129.4 L142.4 129.7 L140.5 129.6 L139.8 128.5 L141.0 126.1 L139.5 126.2 L138.8 124.6 L141.2 124.1 L140.3 122.4 L141.1 121.4 L140.1 119.7 L142.7 119.2 L142.4 117.8 L143.6 116.9 L143.8 115.6 L142.8 113.9 L142.9 112.6 L142.7 111.2 L143.0 109.9 L143.2 108.6 L144.3 107.6 L145.6 106.6 L144.1 104.8 L146.2 104.1 L146.2 102.7 L146.8 101.7 L148.8 101.6 L148.6 100.0 L148.8 98.7 L150.0 98.0" fill="none" stroke="#55565a" stroke-width="0.9"/>
<path d="M670.6 204.9 L670.5 203.5 L671.6 202.5 L672.6 201.5 L671.8 199.9 L672.8 198.7 L673.6 197.7 L675.4 198.0 L675.5 196.1 L677.1 196.2 L678.7 195.6 L680.3 194.6 L679.4 195.6 L679.1 196.8 L678.7 198.0 L677.6 198.7 L678.0 200.6 L677.4 201.7 L674.9 201.4 L675.0 203.0" fill="none" stroke="#55565a" stroke-width="1.6"/>
<path d="M698.4 174.6 L703 170.2 L708 167 L712.8 164.700 L710.200 168.800 L705 172.600 L700.500 175.100 Z" fill="#E9B569" stroke="#55565a" stroke-width="1.3"/>
<path d="M80.0 352.5 L80.8 351.3 L81.3 349.8 L82.8 349.8 L84.9 349.1 L85.5 351.0 L86.2 352.6 L88.0 352.1 L89.2 352.7 L90.4 353.0 L91.7 351.6 L92.8 352.6 L93.9 353.2 L95.2 353.4 L96.1 354.5 L97.8 353.7 L98.8 354.4 L100.1 354.6 L100.9 356.0 L102.0 356.5" fill="none" stroke="#55565a" stroke-width="1.2"/>
<path d="M95 457.5l5 1 4 2.5 5-1 5 2-1 1.5-6-.5-5 1-5-2.5zM106 480l2.5 1.5-1 1.5zM128 481l3.5 2 1.5 4-3-.5zM124 490l2 3 2.5 5-2.5-1z" fill="#E8924B" stroke="#55565a" stroke-width="1"/>
<path d="M883 731.5l6-1M899 729.5q15-3 27-11M930 716q7-5 9-11M1042 276l5-1.5M1049 273l6-.5" fill="none" stroke="#55565a" stroke-width="1.5" stroke-linecap="round"/>
<g clip-path="url(#ak)">
<rect x="100" y="590" width="420" height="317" fill="#fff"/>
<path d="M222.5 678.0 C223.4 676.6 225.9 672.1 228.0 669.5 C230.1 666.9 232.5 665.0 235.0 662.5 C237.5 660.0 240.1 657.0 243.0 654.5 C245.9 652.0 249.3 649.6 252.5 647.5 C255.7 645.4 258.7 643.7 262.0 642.0 C265.3 640.3 268.7 638.9 272.5 637.5 C276.3 636.1 280.8 634.8 285.0 633.5 C289.2 632.2 293.3 631.0 297.5 630.0 C301.7 629.0 305.2 628.5 310.0 627.5 C314.8 626.5 323.3 624.6 326.0 624.0 L340 600 L190 600 L190 690 Z" fill="#E9B569"/>
<path d="M198.0 647.0 C199.2 648.0 203.0 651.5 205.0 653.0 C207.0 654.5 208.2 656.8 210.0 656.2 C211.8 655.8 213.9 652.1 216.0 650.0 C218.1 647.9 220.0 646.0 222.5 643.8 C225.0 641.5 228.1 638.8 231.0 636.5 C233.9 634.2 236.8 631.9 240.0 630.0 C243.2 628.1 246.7 626.5 250.0 625.0 C253.3 623.5 256.7 622.2 260.0 621.2 C263.3 620.3 266.7 619.9 270.0 619.5 C273.3 619.1 276.7 619.2 280.0 618.8 C283.3 618.3 288.3 617.3 290.0 617.0 L300 600 L190 600 L190 640 Z" fill="#E8924B"/>
<path d="M178 676 L213.75 681.25 L201.25 713.75 L178 720Z" fill="#E9B569"/>
<path d="M178 684 L189.5 687 L187.5 695 L178 696Z" fill="#E8924B"/>
<path d="M180 748 L192.5 746 L191 784 L183 784Z" fill="#E9B569"/>
<path d="M165 774 L186 774 L186 792 L165 792Z" fill="#E9B569"/>
<path d="M198 858 L219 855 L217 868 L196 871Z" fill="#E9B569"/>
<path d="M174 870 L190 866.5 L189 876 L176.500 880.5Z" fill="#E8924B"/>
<path d="M130 887 L160 878 L160 884 L131 895Z" fill="#E8924B"/>
<path d="M356.2 654.5 C348.8 654.9 342.7 655.3 335.0 657.5 C327.3 659.7 318.3 662.9 310.0 667.5 C301.7 672.1 293.3 678.8 285.0 685.0 C276.7 691.2 267.1 698.3 260.0 705.0 C252.9 711.7 246.5 718.3 242.5 725.0 C238.5 731.7 236.7 738.3 236.2 745.0 C235.8 751.7 237.7 759.2 240.0 765.0 C242.3 770.8 246.3 776.5 250.0 780.0 C253.7 783.5 258.0 784.6 262.0 786.0 C266.0 787.4 269.7 788.2 274.0 788.6 C278.3 789.0 283.3 789.5 288.0 788.6 C292.7 787.7 297.3 784.9 302.0 783.0 C306.7 781.1 311.3 779.2 316.0 777.0 C320.7 774.8 325.3 772.8 330.0 770.0 C334.7 767.2 339.7 763.3 344.0 760.0 C348.3 756.7 352.3 753.3 356.0 750.0 C359.7 746.7 362.7 743.7 366.0 740.0 C369.3 736.3 372.0 734.7 376.0 728.0 C380.0 721.3 389.3 712.2 390.0 700.0 C390.7 687.8 385.6 662.6 380.0 655.0 C374.4 647.4 363.8 654.1 356.2 654.5Z" fill="#C5CDE8"/>
<path d="M360.0 672.5 C352.5 673.2 343.3 673.8 335.0 676.2 C326.7 678.8 318.3 683.1 310.0 687.5 C301.7 691.9 292.1 697.1 285.0 702.5 C277.9 707.9 271.5 714.2 267.5 720.0 C263.5 725.8 261.5 732.5 261.2 737.5 C261.0 742.5 263.2 746.4 266.0 750.0 C268.8 753.6 273.3 756.8 278.0 759.0 C282.7 761.2 288.7 762.8 294.0 763.0 C299.3 763.2 304.7 761.8 310.0 760.0 C315.3 758.2 319.8 755.8 326.0 752.0 C332.2 748.2 340.4 743.2 347.5 737.5 C354.6 731.8 361.7 723.8 368.8 717.5 C375.8 711.2 388.1 707.6 390.0 700.0 C391.9 692.4 385.0 676.6 380.0 672.0 C375.0 667.4 367.5 671.8 360.0 672.5Z" fill="#A9C7E4"/>
<path d="M356.2 654.5 C348.8 654.9 342.7 655.3 335.0 657.5 C327.3 659.7 318.3 662.9 310.0 667.5 C301.7 672.1 293.3 678.8 285.0 685.0 C276.7 691.2 267.1 698.3 260.0 705.0 C252.9 711.7 246.5 718.3 242.5 725.0 C238.5 731.7 236.7 738.3 236.2 745.0 C235.8 751.7 237.7 759.2 240.0 765.0 C242.3 770.8 246.3 776.5 250.0 780.0 C253.7 783.5 258.0 784.6 262.0 786.0 C266.0 787.4 269.7 788.2 274.0 788.6 C278.3 789.0 283.3 789.5 288.0 788.6 C292.7 787.7 297.3 784.9 302.0 783.0 C306.7 781.1 311.3 779.2 316.0 777.0 C320.7 774.8 325.3 772.8 330.0 770.0 C334.7 767.2 339.7 763.3 344.0 760.0 C348.3 756.7 352.3 753.3 356.0 750.0 C359.7 746.7 362.7 743.7 366.0 740.0 C369.3 736.3 372.0 734.7 376.0 728.0 C380.0 721.3 389.3 712.2 390.0 700.0 C390.7 687.8 385.6 662.6 380.0 655.0 C374.4 647.4 363.8 654.1 356.2 654.5Z" fill="none" stroke="#7b7c80" stroke-width="1.4"/>
<path d="M360.0 672.5 C352.5 673.2 343.3 673.8 335.0 676.2 C326.7 678.8 318.3 683.1 310.0 687.5 C301.7 691.9 292.1 697.1 285.0 702.5 C277.9 707.9 271.5 714.2 267.5 720.0 C263.5 725.8 261.5 732.5 261.2 737.5 C261.0 742.5 263.2 746.4 266.0 750.0 C268.8 753.6 273.3 756.8 278.0 759.0 C282.7 761.2 288.7 762.8 294.0 763.0 C299.3 763.2 304.7 761.8 310.0 760.0 C315.3 758.2 319.8 755.8 326.0 752.0 C332.2 748.2 340.4 743.2 347.5 737.5 C354.6 731.8 361.7 723.8 368.8 717.5 C375.8 711.2 388.1 707.6 390.0 700.0 C391.9 692.4 385.0 676.6 380.0 672.0 C375.0 667.4 367.5 671.8 360.0 672.5Z" fill="none" stroke="#7b7c80" stroke-width="1.4"/>
<path d="M222.5 678.0 C223.4 676.6 225.9 672.1 228.0 669.5 C230.1 666.9 232.5 665.0 235.0 662.5 C237.5 660.0 240.1 657.0 243.0 654.5 C245.9 652.0 249.3 649.6 252.5 647.5 C255.7 645.4 258.7 643.7 262.0 642.0 C265.3 640.3 268.7 638.9 272.5 637.5 C276.3 636.1 280.8 634.8 285.0 633.5 C289.2 632.2 293.3 631.0 297.5 630.0 C301.7 629.0 305.2 628.5 310.0 627.5 C314.8 626.5 323.3 624.6 326.0 624.0" fill="none" stroke="#7b7c80" stroke-width="1.3"/>
<path d="M198.0 647.0 C199.2 648.0 203.0 651.5 205.0 653.0 C207.0 654.5 208.2 656.8 210.0 656.2 C211.8 655.8 213.9 652.1 216.0 650.0 C218.1 647.9 220.0 646.0 222.5 643.8 C225.0 641.5 228.1 638.8 231.0 636.5 C233.9 634.2 236.8 631.9 240.0 630.0 C243.2 628.1 246.7 626.5 250.0 625.0 C253.3 623.5 256.7 622.2 260.0 621.2 C263.3 620.3 266.7 619.9 270.0 619.5 C273.3 619.1 276.7 619.2 280.0 618.8 C283.3 618.3 288.3 617.3 290.0 617.0" fill="none" stroke="#7b7c80" stroke-width="1.3"/>
<path d="M189.5 687 L187.5 695 M213.75 681.25 L201.25 713.75 M192.5 746 L191 784" fill="none" stroke="#7b7c80" stroke-width="1.2"/>
</g>
<path d="M200.0 648.7 L201.0 646.9 L202.1 645.1 L203.5 643.7 L205.0 642.5 L206.8 642.3 L208.5 641.8 L210.3 641.8 L212.0 641.5 L213.6 641.4 L215.1 640.6 L216.8 640.5 L218.3 640.0 L220.1 640.1 L221.3 639.1 L222.3 637.7 L224.0 637.3 L225.2 636.3 L226.3 635.1 L227.5 634.0 L228.6 632.7 L229.8 631.6 L231.3 630.8 L232.3 629.4 L233.6 628.4 L235.0 627.4 L236.0 626.2 L237.4 625.3 L238.6 624.2 L240.0 623.3 L241.0 622.0 L242.7 621.0 L244.2 619.7 L245.9 618.7 L247.5 617.5 L249.0 616.4 L250.9 615.8 L252.6 614.8 L254.0 613.6 L255.6 612.8 L256.9 611.6 L258.4 610.7 L260.0 610.0 L261.7 608.5 L263.7 607.6 L265.2 609.0 L266.5 610.6 L268.3 611.4 L270.0 612.6 L271.8 613.1 L273.8 612.9 L275.7 613.4 L277.5 614.1 L279.4 614.5 L281.2 615.4 L283.1 615.6 L285.1 616.1 L286.6 617.4 L288.2 618.6 L290.0 619.4 L291.8 620.3 L293.4 621.4 L295.0 622.6 L296.9 622.6 L298.7 622.0 L300.6 621.9 L302.5 621.9 L304.4 621.8 L306.2 622.5 L308.1 622.1 L310.0 622.5 L312.0 623.0 L314.1 623.3 L316.0 624.1 L317.7 624.0 L319.2 624.6 L320.9 624.5 L322.5 625.0 L324.3 624.4 L326.2 624.1 L328.2 624.2 L330.0 623.6 L331.9 623.1 L333.8 623.3 L335.6 622.5 L337.5 622.5 L339.3 623.4 L341.2 623.8 L343.2 624.1 L345.0 625.1 L346.9 625.4 L348.8 626.1 L350.6 627.1 L352.5 627.5 L353.0 629.1 L353.4 630.6 L353.7 632.2 L353.7 633.8 L354.3 635.4 L354.3 637.0 L354.8 638.6 L355.1 640.2 L355.0 641.8 L355.7 643.3 L355.9 644.9 L356.1 646.6 L356.8 648.1 L357.2 649.6 L357.0 651.3 L357.4 652.9 L358.1 654.4 L358.4 656.0 L358.4 657.6 L358.5 659.3 L359.4 660.7 L359.2 662.4 L359.5 664.0 L360.0 665.5 L360.5 667.1 L361.0 668.6 L361.4 670.2 L361.1 671.9 L361.9 673.4 L361.9 675.1 L362.5 676.6 L362.4 678.2 L362.9 679.8 L363.4 681.3 L363.8 682.9 L363.8 684.6 L364.5 686.1 L364.7 687.7 L364.8 689.3 L364.9 690.9 L365.4 692.5 L366.0 694.0 L365.8 695.7 L366.6 697.2 L367.1 698.7 L367.2 700.4 L367.4 702.0 L368.0 703.5 L368.3 705.1 L368.4 706.7 L368.6 708.3 L369.2 709.8 L369.4 711.5 L369.3 713.1 L369.6 714.7 L370.1 716.3 L370.4 717.8 L370.8 719.4 L371.4 720.9 L371.8 722.5 L372.2 724.1 L371.9 725.8 L372.3 727.4 L372.5 729.0 L373.4 730.4 L373.3 732.1 L373.7 733.7 L373.9 735.3 L374.5 736.8 L374.3 738.5 L375.1 740.0 L375.3 741.6 L375.5 743.3 L375.7 744.9 L376.1 746.5 L376.5 748.2 L376.7 749.8 L377.0 751.4 L377.7 753.0 L377.8 754.7 L377.9 756.3 L378.3 757.9 L378.9 759.5 L379.0 761.2 L379.2 762.8 L379.8 764.4 L379.8 766.1 L380.8 767.6 L380.6 769.3 L380.9 770.9 L382.1 772.4 L381.5 774.2 L381.3 775.9 L381.8 777.5 L382.7 779.1 L384.5 778.5 L386.4 778.6 L388.2 778.0 L390.0 777.5 L391.9 777.4 L393.2 776.1 L395.1 776.7 L396.4 775.1 L398.1 775.4 L398.5 777.2 L399.2 779.0 L398.9 781.0 L400.5 782.0 L401.8 783.2 L403.0 784.7 L405.1 784.9 L406.5 786.1 L407.8 787.1 L408.7 788.6 L410.5 789.1 L411.8 790.1 L412.4 792.0 L413.9 792.8 L415.4 793.6 L416.9 792.7 L417.3 790.8 L418.7 789.9 L419.2 788.1 L420.5 787.0 L422.0 786.1 L422.9 784.7 L424.3 783.4 L424.7 781.5 L426.0 780.2 L426.8 778.5 L428.2 777.0 L429.9 777.8 L431.6 778.9 L433.5 779.2 L434.7 780.3 L435.7 781.6 L437.7 781.9 L439.1 782.8 L440.1 784.2 L441.6 785.0 L442.8 786.2 L444.1 787.2 L445.1 788.5 L446.6 789.4 L448.0 790.2 L448.8 791.9 L449.9 793.2 L451.7 793.6 L453.3 794.3 L454.5 795.3 L454.7 797.4 L456.8 797.6 L457.2 799.5 L458.4 800.5 L459.9 801.3 L460.7 802.8 L462.6 803.1 L463.8 804.3 L464.7 805.7 L466.5 806.2 L467.0 808.3 L468.9 808.5 L470.1 809.7 L471.6 810.6 L472.2 812.5 L473.6 813.5 L474.6 814.9 L475.8 816.2 L477.2 817.4 L478.7 818.2 L480.4 818.0 L482.2 817.5 L483.7 818.2 L485.4 818.0 L487.1 818.0 L488.6 819.0 L490.2 819.7 L492.0 819.1 L493.6 819.9 L494.3 821.5 L494.3 823.4 L495.1 825.0 L495.4 826.7 L495.8 828.5 L496.8 830.0 L497.0 831.7 L496.2 833.4 L497.2 835.4 L495.6 837.0 L495.6 838.9 L496.2 840.9 L495.3 842.6 L493.9 841.5 L492.6 840.2 L490.7 840.1 L489.4 838.9 L488.1 837.6 L486.1 837.1 L485.0 838.4 L485.1 840.3 L484.2 841.7 L484.3 843.4 L482.9 844.6 L482.5 846.1 L481.1 847.0 L479.7 847.8 L478.8 849.4 L477.3 849.7 L476.1 848.3 L474.6 847.4 L472.7 847.1 L471.4 845.9 L469.5 845.6 L468.3 844.3 L467.5 842.8 L465.8 842.1 L464.5 841.0 L463.9 839.4 L462.9 837.9 L462.2 836.4 L460.8 835.4 L458.9 835.1 L458.0 833.1 L455.9 833.2 L455.0 831.3 L452.9 831.3 L451.6 830.0 L450.7 828.5 L448.8 828.3 L447.5 827.3 L446.6 825.8 L445.5 824.5 L444.3 823.3 L442.8 822.6 L442.1 820.9 L440.4 820.0 L439.8 818.2 L437.6 817.7 L436.7 816.2 L435.9 814.5 L434.5 813.4 L433.7 811.7 L432.6 810.5 L431.4 809.5 L430.6 808.0 L429.1 807.2 L427.7 806.3 L426.6 805.1 L426.0 803.4 L424.7 802.5 L423.0 801.8 L422.5 799.9 L421.4 798.5 L419.7 797.8 L418.5 796.5 L417.3 795.6 L415.4 795.9 L413.6 796.6 L411.8 797.1 L409.9 796.9 L409.1 794.8 L407.3 794.5 L405.7 793.7 L404.5 792.3 L402.7 791.8 L400.9 791.3 L399.1 790.4 L397.0 790.8 L395.4 789.5 L393.6 789.1 L392.2 787.9 L390.6 787.7 L388.8 788.3 L387.2 787.7 L385.5 787.9 L384.1 787.1 L382.6 786.1 L380.9 786.0 L379.1 786.1 L377.2 786.2 L375.3 786.2 L373.7 784.8 L372.0 783.7 L370.0 784.9 L368.4 783.6 L366.6 785.4 L365.0 784.8 L363.4 784.5 L361.8 783.4 L360.2 784.5 L358.4 784.8 L356.5 784.6 L355.1 786.4 L353.2 785.6 L351.1 785.7 L350.3 783.9 L348.5 783.5 L347.0 782.6 L346.0 781.0 L344.4 780.1 L342.8 779.3 L341.4 778.2 L340.0 777.0 L337.9 777.1 L336.2 776.2 L334.9 774.4 L333.0 773.9 L331.0 773.5 L329.1 772.2 L326.8 772.8 L327.2 774.8 L329.7 775.6 L329.7 777.9 L331.0 779.0 L329.4 780.0 L329.5 782.4 L328.5 783.8 L326.7 784.7 L326.5 786.8 L323.8 786.7 L322.9 788.2 L322.8 790.4 L321.6 791.6 L319.4 791.6 L318.7 793.6 L317.5 794.9 L314.9 794.3 L314.0 796.1 L312.1 796.2 L311.5 798.5 L309.7 798.7 L307.8 798.9 L307.2 801.3 L305.2 801.3 L303.4 801.3 L301.7 801.5 L300.2 802.1 L299.8 804.8 L297.8 804.7 L296.7 805.4 L296.6 803.8 L297.2 802.2 L296.1 800.4 L295.9 798.8 L296.2 797.2 L296.1 795.5 L297.6 794.0 L298.1 792.3 L298.8 790.6 L298.3 788.5 L298.9 786.8 L299.5 785.1 L301.1 783.8 L302.8 783.1 L303.8 781.6 L303.1 779.0 L304.1 777.6 L306.4 777.3 L307.1 775.6 L308.8 774.9 L309.1 772.8 L310.5 771.7 L311.7 770.5 L310.5 771.9 L308.8 772.9 L308.6 775.3 L306.0 775.3 L304.7 776.8 L304.2 779.0 L302.3 780.0 L300.6 781.2 L299.6 782.9 L298.6 784.6 L297.3 786.0 L295.3 786.7 L294.4 788.4 L292.0 788.6 L290.9 790.1 L289.8 791.5 L288.8 793.0 L287.7 794.5 L286.6 795.9 L285.3 797.2 L284.2 798.6 L282.9 799.9 L281.8 801.2 L281.1 802.8 L279.8 803.9 L278.9 805.4 L278.3 807.7 L277.9 810.0 L277.5 812.1 L276.7 814.1 L275.9 815.6 L275.4 817.2 L274.6 818.8 L274.0 820.3 L273.5 822.0 L272.7 823.4 L272.5 825.1 L271.7 826.5 L271.0 827.9 L270.4 829.5 L269.3 830.7 L268.1 831.9 L267.1 833.1 L266.2 834.6 L264.8 835.5 L264.0 837.0 L263.0 838.3 L261.6 839.5 L260.6 840.8 L259.4 842.1 L258.4 843.4 L257.1 844.5 L255.8 845.6 L254.4 846.7 L253.1 847.7 L251.6 848.7 L250.7 850.3 L249.1 850.9 L247.6 851.8 L247.0 853.7 L245.5 854.5 L244.3 855.8 L242.8 857.1 L240.9 858.0 L239.6 859.5 L237.6 860.2 L235.4 860.4 L234.2 862.0 L232.6 863.1 L230.7 864.1 L230.0 866.1 L228.4 867.7 L228.4 870.0 L227.3 871.5 L228.1 873.7 L226.8 875.0 L225.6 873.3 L223.1 872.9 L222.5 870.5 L220.5 870.7 L219.4 869.4 L217.7 869.2 L216.5 867.9 L215.2 866.9 L213.7 866.7 L211.8 866.1 L210.5 867.6 L208.9 867.8 L207.3 868.2 L205.9 869.2 L204.4 869.8 L202.7 869.8 L201.1 870.4 L199.7 871.6 L197.9 871.4 L196.6 872.8 L195.3 873.9 L193.5 874.1 L191.9 874.7 L190.4 875.4 L188.5 874.6 L187.1 875.7 L185.3 875.1 L183.8 875.8 L182.5 877.5 L180.5 876.1 L178.9 876.6 L177.8 878.6 L175.8 877.4 L174.4 878.7 L172.8 879.3 L170.8 879.1 L169.8 881.1 L168.0 881.2 L166.1 881.2 L164.7 882.2 L163.3 883.4 L161.3 883.1 L159.8 884.1 L158.4 885.1 L157.0 886.3 L155.2 886.3 L153.7 887.2 L152.2 888.2 L150.7 889.0 L148.8 888.7 L147.4 890.0 L145.6 890.0 L143.9 890.3 L142.2 890.8 L140.6 891.5 L138.8 891.2 L137.1 891.9 L135.3 891.5 L133.7 892.3 L131.8 891.8 L130.1 892.2 L128.7 893.6 L129.9 892.2 L131.4 891.2 L133.6 891.9 L135.1 890.9 L136.5 889.9 L137.8 888.7 L139.4 888.0 L141.2 887.9 L142.7 887.1 L144.2 886.5 L145.8 886.0 L147.5 885.6 L148.6 883.9 L150.3 883.7 L152.4 884.3 L154.0 883.7 L155.7 883.2 L156.9 881.1 L158.6 880.6 L160.4 880.5 L162.2 880.3 L164.0 880.2 L165.4 879.2 L167.1 878.5 L168.0 876.6 L169.5 875.6 L171.7 875.5 L173.0 874.2 L174.4 873.1 L175.9 872.4 L177.6 872.2 L179.0 871.2 L180.7 871.1 L182.4 871.5 L184.1 871.3 L185.3 869.4 L186.9 869.1 L188.8 870.0 L190.3 869.2 L192.0 868.8 L192.7 866.9 L194.3 865.9 L195.4 864.3 L197.4 863.8 L198.3 861.9 L199.9 861.8 L201.7 862.0 L202.9 860.2 L204.6 860.1 L206.2 860.0 L207.9 859.9 L209.2 858.5 L210.9 858.0 L212.6 857.1 L214.6 858.3 L216.1 856.3 L217.8 856.5 L219.4 855.9 L220.6 854.8 L222.1 854.1 L223.0 852.5 L224.8 852.2 L225.3 850.1 L227.0 849.6 L228.5 848.9 L229.5 847.6 L231.0 846.8 L232.5 845.8 L233.8 844.7 L235.0 843.4 L236.3 842.3 L237.8 841.3 L239.3 840.4 L240.5 839.1 L241.8 838.0 L243.0 836.6 L243.8 835.0 L245.0 833.6 L245.9 832.0 L246.9 830.5 L247.5 828.7 L248.6 827.2 L248.6 825.5 L248.9 823.8 L249.2 822.1 L249.8 820.4 L250.0 818.7 L249.8 817.0 L250.1 815.3 L250.4 813.6 L250.7 811.9 L248.9 811.6 L247.1 811.2 L245.2 811.0 L243.4 810.4 L241.7 809.9 L239.8 809.7 L238.5 811.2 L237.6 813.0 L236.7 814.8 L235.4 816.2 L234.1 815.1 L232.4 814.5 L230.8 813.7 L229.6 812.4 L228.1 811.4 L226.7 810.5 L225.4 809.3 L223.8 808.5 L222.3 807.5 L220.5 808.2 L218.7 808.3 L216.8 808.5 L215.1 809.3 L213.3 809.6 L211.5 809.7 L211.5 808.0 L210.7 806.4 L210.9 804.8 L210.4 803.2 L210.7 801.5 L210.4 799.8 L209.9 798.2 L209.7 796.6 L209.9 794.9 L209.6 793.3 L209.6 791.6 L209.2 790.0 L207.5 790.1 L205.8 789.7 L204.1 789.9 L202.4 790.0 L200.8 790.0 L199.1 789.8 L197.4 789.9 L195.7 789.7 L194.0 790.0 L193.4 788.4 L192.5 786.9 L191.8 785.4 L191.0 783.9 L190.1 782.4 L189.2 780.8 L188.3 779.3 L187.1 777.9 L186.0 776.5 L185.6 774.8 L185.1 773.2 L184.3 771.6 L183.7 770.0 L183.6 768.4 L184.0 766.8 L184.3 765.1 L184.0 763.5 L184.1 761.5 L184.5 759.5 L185.0 757.5 L185.9 756.1 L187.3 755.0 L187.9 753.4 L189.5 751.7 L191.2 749.9 L192.5 748.1 L193.6 746.0 L194.7 744.1 L196.2 742.4 L197.7 741.6 L199.1 740.9 L200.6 740.1 L201.8 738.9 L203.4 738.1 L204.9 737.4 L206.6 736.2 L208.2 735.0 L210.0 734.0 L211.3 733.1 L212.4 731.8 L213.6 730.8 L215.0 729.9 L216.4 728.9 L218.1 728.4 L219.4 727.3 L221.0 726.5 L222.4 725.7 L223.6 724.5 L224.8 723.4 L226.4 722.5 L226.9 720.7 L227.0 718.8 L227.5 717.0 L227.8 715.1 L227.5 713.2 L227.5 711.3 L226.0 712.1 L224.1 712.1 L222.6 712.7 L221.0 713.5 L219.0 714.0 L217.0 714.5 L215.0 715.1 L213.3 714.5 L211.5 714.6 L209.7 714.8 L208.0 714.6 L206.3 714.3 L204.6 714.2 L203.0 713.7 L201.3 713.7 L199.7 713.1 L198.0 712.8 L196.5 712.1 L194.4 711.1 L192.4 710.0 L192.4 708.3 L191.8 706.7 L191.5 705.0 L191.3 703.2 L190.3 701.7 L190.0 700.0 L188.5 698.7 L187.5 696.9 L185.9 695.6 L185.0 693.9 L183.9 692.5 L182.6 691.3 L183.7 690.1 L185.1 689.3 L186.5 688.6 L188.1 687.5 L190.0 687.0 L191.5 686.3 L193.1 686.0 L194.5 685.1 L196.1 684.6 L197.5 683.7 L199.2 683.6 L200.9 683.0 L202.7 683.0 L204.2 682.1 L206.0 682.1 L207.9 681.6 L209.9 681.7 L211.8 681.5 L213.7 681.2 L215.3 680.7 L216.5 679.6 L218.0 679.0 L219.3 677.8 L220.9 677.1 L222.5 676.3 L220.6 675.0 L218.5 674.0 L216.8 673.1 L214.9 672.5 L214.3 670.6 L213.7 668.8 L213.4 666.8 L212.6 665.0 L212.0 663.1 L210.9 661.4 L210.5 659.4 L210.0 657.5 L208.6 656.5 L207.5 655.2 L206.2 654.1 L204.9 653.1 L204.0 651.7 L202.6 650.7 L201.1 650.0 L200.0 648.8Z" fill="none" stroke="#4a4a4c" stroke-width="0.8" stroke-linejoin="round"/>
<path d="M168.7 780.0 L170.3 780.0 L171.5 778.6 L173.1 778.5 L174.7 778.9 L176.1 778.1 L177.6 777.4 L178.9 778.4 L179.7 779.9 L181.3 780.4 L182.9 781.1 L183.6 782.4 L183.2 784.3 L181.7 785.5 L180.8 787.1 L180.0 788.8 L178.7 787.7 L176.9 788.1 L175.5 787.1 L173.9 787.2 L172.7 786.1 L171.2 784.9 L170.6 783.1 L170.0 781.4 L168.8 780.0Z" fill="none" stroke="#4a4a4c" stroke-width="1" stroke-linejoin="round"/>
<path d="M270.2 851.2 L270.3 849.7 L270.6 848.2 L271.9 846.9 L271.8 845.4 L272.3 844.0 L272.5 842.5 L272.7 841.0 L273.4 839.6 L273.6 838.1 L274.2 836.7 L274.4 835.2 L274.7 833.8 L275.5 832.5 L276.3 831.1 L277.2 829.9 L278.8 829.1 L279.2 827.5 L280.7 826.7 L281.6 825.5 L282.1 823.8 L283.8 823.2 L284.1 821.4 L285.5 820.8 L287.3 820.6 L288.9 819.4 L290.8 819.6 L292.5 819.2 L294.4 818.5 L293.7 820.0 L294.0 821.7 L292.8 823.1 L292.8 824.7 L292.1 826.2 L292.9 827.9 L292.2 829.4 L291.2 830.7 L290.4 832.1 L290.0 833.7 L288.5 834.7 L287.7 836.1 L287.5 837.8 L286.9 839.3 L285.5 840.4 L285.0 841.9 L283.9 843.1 L283.3 844.6 L282.1 845.8 L281.2 847.3 L279.9 848.3 L278.4 849.2 L276.9 850.0 L275.9 851.4 L274.6 852.4 L272.5 851.8 L270.3 851.2Z" fill="none" stroke="#4a4a4c" stroke-width="1" stroke-linejoin="round"/>
<path d="M124.0 761.1 L126.2 760.4 L126.9 761.9 L127.6 763.4 L127.9 765.0 L128.6 767.1 L129.6 768.8 L126.8 768.1 L125.9 766.3 L124.8 764.6 L124.2 762.8 L124.0 761.0Z" fill="none" stroke="#4a4a4c" stroke-width="1" stroke-linejoin="round"/>
<path d="M199.9 648.7 L200.7 647.5 L201.1 646.1 L202.1 645.1 L203.5 643.7 L205.0 642.4 L206.5 642.8 L207.8 642.4 L209.3 642.3 L210.6 641.9 L212.0 641.4 L213.6 641.1 L215.1 640.6 L216.9 640.9 L218.3 639.7 L220.1 640.1 L221.0 638.7 L222.4 637.8 L223.8 637.1 L225.1 636.2 L226.3 635.0 L227.5 634.0 L228.6 633.2 L229.7 632.2 L230.4 630.9 L231.6 630.1 L232.5 628.9 L234.0 628.5 L234.9 627.4 L236.0 626.2 L237.2 625.1 L239.0 624.6 L239.5 622.8 L241.1 622.2 L242.6 621.5 L243.4 619.9 L245.1 619.6 L246.0 618.1 L247.5 617.6 L248.6 616.3 L250.0 615.7 L251.4 615.1 L252.6 614.2 L254.1 613.6 L255.6 612.8 L256.7 611.3 L258.5 610.9 L259.9 609.8 L261.0 608.8 L262.4 608.2 L263.8 607.4 L265.1 609.0 L266.4 610.7 L268.1 611.8 L270.0 612.5 L271.4 613.2 L273.1 612.7 L274.4 613.7 L275.9 614.3 L277.4 614.2 L279.0 614.5 L280.5 615.0 L282.0 615.2 L283.5 615.7 L284.9 616.4 L286.5 616.7 L287.3 618.2 L288.9 618.4 L290.0 619.5 L291.2 620.3 L292.8 620.5 L293.8 621.7 L295.0 622.3 L296.5 622.9 L298.0 622.8 L299.5 622.3 L301.0 622.4 L302.5 622.1 L304.0 621.7 L305.5 621.7 L307.0 622.2 L308.5 622.3 L310.0 622.5 L311.4 623.1 L312.9 623.6 L314.5 623.7 L316.0 623.8 L317.7 624.1 L319.2 624.7 L320.8 625.2 L322.5 625.0" fill="none" stroke="#55565a" stroke-width="1.7" stroke-linejoin="round"/>
<path d="M222.5 676.3 L221.2 675.4 L220.0 674.4 L218.5 674.1 L216.7 673.4 L215.1 672.5 L214.5 671.0 L213.8 669.6 L213.4 668.0 L212.8 666.6 L212.3 665.1 L212.2 663.4 L211.9 661.9 L211.2 660.4 L210.7 658.9 L209.9 657.6 L208.7 656.4 L207.2 655.6 L206.4 653.9 L204.9 653.1 L203.6 652.1 L202.9 650.4 L201.1 650.0 L200.0 648.8" fill="none" stroke="#55565a" stroke-width="1.7" stroke-linejoin="round"/>
<path d="M201.3 713.6 L199.5 713.5 L198.3 712.1 L196.4 712.1 L195.1 711.4 L194.0 710.2 L192.4 710.0 L192.2 708.3 L191.4 706.7 L191.7 704.9 L191.6 703.2 L190.1 701.8 L189.9 700.1 L189.0 698.9 L188.0 697.7 L187.2 696.4 L185.9 695.5 L184.9 694.0 L183.4 692.9 L182.4 691.1 L183.5 689.9 L185.2 689.5 L186.5 688.5 L188.3 687.9 L190.1 687.2 L191.4 686.1 L192.9 685.5 L194.5 685.0 L196.2 684.9 L197.5 683.7 L198.9 683.2 L200.3 683.1 L201.8 683.1 L203.1 682.3 L204.5 681.9 L206.0 682.1 L207.6 681.9 L209.1 681.8 L210.6 681.0 L212.2 681.1 L213.8 681.2" fill="none" stroke="#55565a" stroke-width="1.7" stroke-linejoin="round"/>
<path d="M190.0 782.5 L189.0 781.4 L188.8 779.8 L187.6 778.9 L186.4 778.0 L186.1 776.5 L185.0 775.0 L184.5 773.4 L183.8 771.8 L183.8 770.0 L184.2 768.4 L184.0 766.8 L183.6 765.1 L184.2 763.5 L184.7 762.1 L184.3 760.5 L184.5 759.0 L185.1 757.6 L186.5 756.5 L187.4 755.1 L188.1 753.6 L189.3 752.5 L189.9 750.9 L191.2 750.0" fill="none" stroke="#55565a" stroke-width="1.7" stroke-linejoin="round"/>
<path d="M168.7 780.0 L170.3 779.7 L171.6 779.1 L173.3 779.2 L174.4 777.8 L176.2 778.5 L177.4 777.6 L178.5 778.8 L179.8 779.8 L181.5 780.2 L182.3 781.8 L183.7 782.5 L183.4 784.0 L181.9 784.8 L181.6 786.3 L180.5 787.4 L179.9 788.9 L178.6 788.0 L176.8 788.3 L175.3 787.7 L173.9 787.2 L172.3 786.4 L171.8 784.9 L170.7 783.9 L169.9 782.7 L169.8 781.1 L168.8 780.0" fill="none" stroke="#55565a" stroke-width="1.7" stroke-linejoin="round"/>
<path d="M191.8 868.6 L192.7 867.3 L194.3 866.7 L195.0 865.3 L196.2 864.2 L197.3 863.1 L198.3 861.9 L199.7 861.7 L201.2 861.6 L202.2 860.2 L203.8 860.4 L205.0 859.6 L206.5 859.6 L207.9 859.2 L209.2 858.4 L210.6 857.8 L212.1 858.0 L213.7 858.1 L215.1 857.7 L216.6 857.5 L218.0 856.8" fill="none" stroke="#55565a" stroke-width="1.7" stroke-linejoin="round"/>
<path d="M213.7 866.6 L212.3 866.9 L211.0 867.6 L209.5 867.8 L208.2 868.4 L206.7 868.2 L205.4 869.0 L204.0 869.2 L202.6 869.7 L201.3 870.5 L200.0 871.0 L198.8 872.0 L197.1 871.8 L196.1 873.1 L194.6 873.4 L193.3 874.1 L191.8 874.2 L190.4 874.7 L188.9 875.0 L187.4 875.3 L185.9 875.3 L184.4 875.5 L183.1 876.6 L181.5 876.4 L180.1 876.9 L178.7 877.3 L177.2 877.3 L175.9 878.6 L174.4 878.6" fill="none" stroke="#55565a" stroke-width="1.7" stroke-linejoin="round"/>
<path d="M157.0 886.2 L155.4 886.2 L153.8 886.4 L152.6 887.6 L151.0 887.4 L149.7 888.5 L148.2 888.8 L146.6 888.9 L145.5 890.2 L143.9 890.4" fill="none" stroke="#55565a" stroke-width="1.7" stroke-linejoin="round"/>
<path d="M417.6 797.9 L415.9 802.0 L422.2 792.3 L419.2 797.8 L419.6 797.0 L418.9 797.8 L423.3 796.0 L424.3 793.7 L420.3 798.7 L419.1 802.3 L420.2 803.9 L420.1 804.8 L426.7 796.8 L421.8 804.7 L425.0 798.1 L427.8 796.0 L429.5 795.1 L428.1 799.1 L427.9 799.9 L431.2 796.0 L426.5 803.9 L425.8 805.7 L431.1 796.7 L425.2 808.6 L427.4 807.8 L431.1 802.6 L433.7 800.3 L427.5 809.1 L434.0 800.3 L428.7 810.3 L431.7 805.3 L434.3 801.3 L433.0 807.2 L438.0 801.2 L434.5 805.6 L432.4 810.2 L439.2 801.2 L436.5 806.5 L435.5 810.5 L433.9 811.0 L440.3 804.0 L439.0 808.8 L434.7 814.1 L437.0 811.3 L439.1 808.2 L437.1 815.4 L439.8 809.3 L442.7 808.7 L442.6 809.8 L440.5 813.7 L443.4 809.4 L443.1 811.9 L445.3 810.0 L441.9 813.2 L446.0 809.8 L442.5 816.9 L446.2 812.0 L442.8 817.8 L443.6 818.8 L443.2 819.2 L449.8 811.6 L447.8 814.9 L445.5 818.1 L448.0 816.0 L448.4 817.3 L446.7 817.7 L450.4 815.0 L449.1 817.7 L450.3 815.7 L453.3 812.5 L452.8 814.0 L453.1 816.6 L455.2 814.2 L453.3 817.2 L456.9 814.2 L457.5 813.1 L453.8 820.0 L452.4 824.5 L453.5 823.1 L458.6 816.4 L454.1 825.8 L458.7 818.2 L460.2 817.1 L460.6 818.3 L459.1 819.9 L461.2 819.5 L456.9 827.6 L462.4 820.0 L460.5 823.0 L460.4 823.2 L464.1 819.3 L463.7 822.3 L465.6 818.4 L460.2 828.8 L464.1 823.3 L465.3 822.8 L463.3 827.5 L467.8 821.2 L464.5 826.0 L465.2 826.4 L464.5 828.4 L468.1 825.1 L464.3 830.6 L465.3 830.8 L466.7 830.1 L465.3 832.5 L465.8 832.0 L466.2 833.1 L468.3 830.8 L469.2 831.8 L471.0 829.5 L471.8 828.4 L468.7 833.2 L470.6 834.5 L476.5 826.7 L470.1 835.8 L470.7 835.6 L471.4 836.1 L476.9 829.2 L474.2 833.0 L473.8 833.4 L476.1 830.9 L476.5 835.0 L479.5 829.3 L476.8 836.0 L478.0 833.3 L481.2 830.8 L476.2 839.7 L481.2 832.2 L478.2 837.6 L482.0 833.4 L483.6 833.0 L484.6 831.1 L484.7 832.2 L479.6 840.9 L479.8 841.1 L485.7 833.7 L481.9 839.2 L481.3 844.1 L487.5 834.4 L486.7 836.3 L486.5 836.9 L484.1 843.8 L487.8 839.2 L486.6 841.7 L487.5 838.4 L489.2 838.3 L489.2 839.9 L490.0 841.3 L490.0 840.1 L491.7 838.0" fill="none" stroke="#4a4a4c" stroke-width="0.8" stroke-linejoin="round"/>
<path d="M423.0 792.4 L425.0 788.8 L426.0 790.4 L424.0 794.2 L425.2 793.8 L425.7 793.9 L425.8 795.9 L428.3 794.5 L432.3 791.0 L429.5 793.1 L429.5 796.7 L430.2 796.2 L433.7 795.3 L432.9 796.6 L432.5 798.1 L435.0 795.5 L433.3 799.0 L434.4 798.5 L436.5 796.8 L438.2 796.6 L435.2 801.5 L440.4 796.7 L437.6 801.0 L439.2 800.8 L442.4 798.0 L442.2 800.3 L439.4 806.4 L439.7 806.5 L441.0 805.4 L442.0 804.4 L442.1 806.0 L442.4 805.8 L447.7 801.6 L447.3 804.3 L447.9 804.6 L446.2 807.2 L447.4 806.4 L450.4 805.3 L449.4 809.9 L450.9 806.8 L451.2 808.4 L448.4 811.7 L451.4 808.2 L450.3 812.7 L455.0 810.1 L455.9 808.3 L453.9 813.0 L453.5 814.4 L458.0 808.4 L456.2 813.2 L455.8 813.6 L457.1 815.8 L458.3 814.6 L456.6 817.7 L458.5 819.4 L461.3 815.9 L464.3 814.0 L462.9 816.0 L464.4 814.4 L462.6 819.6 L460.6 822.3 L466.9 816.5 L462.0 821.6 L464.5 822.1 L468.7 815.8 L470.9 817.2 L465.8 824.2 L471.6 817.0 L469.0 822.1 L471.6 818.8 L473.4 818.1 L471.9 821.5 L472.1 822.1 L473.1 824.4 L474.9 821.3 L474.2 825.7 L476.1 822.7 L475.5 826.4 L476.0 827.3 L476.4 827.8 L477.3 828.0 L477.0 827.9 L481.8 823.7 L477.3 830.2 L482.8 825.9 L482.4 828.3 L482.5 828.9 L479.2 833.9 L484.1 828.9 L486.8 828.3 L483.4 833.7" fill="none" stroke="#4a4a4c" stroke-width="0.8" stroke-linejoin="round"/>
<path d="M271.3 849.6 L271.0 847.4 L271.4 845.9 L273.2 846.8 L275.1 846.1 L274.0 846.2 L276.1 846.9 L274.4 842.8 L274.0 842.5 L278.5 844.9 L278.3 843.4 L274.8 839.8 L279.6 841.6 L279.6 840.5 L281.8 840.5 L280.6 840.2 L281.5 840.2 L278.7 836.7 L279.5 834.7 L283.5 837.0 L284.3 837.3 L283.7 835.0 L286.3 835.3 L284.0 834.4 L286.2 833.8 L283.4 831.4 L282.5 828.7 L282.7 829.5 L283.6 828.1 L288.1 830.3 L288.3 829.1 L289.4 828.8 L288.1 827.2 L286.0 824.2 L287.6 824.5 L287.2 823.6 L289.5 824.3 L291.7 824.1 L291.2 823.9 L293.9 823.4 L291.2 819.8" fill="none" stroke="#4a4a4c" stroke-width="0.8" stroke-linejoin="round"/>
<path d="M318.3 787.2 L318.4 790.8 L320.0 793.7 L319.9 789.0 L320.8 785.9 L320.0 786.4 L322.9 787.7 L321.6 786.5 L322.9 784.6 L324.5 789.6 L325.4 788.6 L325.3 787.3 L327.6 790.1 L328.5 791.0 L328.4 789.5 L328.8 790.1 L328.8 783.8 L331.8 789.7 L329.4 783.7 L330.7 786.7 L332.6 785.1 L331.3 783.1 L332.9 783.1 L335.9 786.8 L334.2 784.2 L336.3 788.6 L335.0 783.2 L336.2 782.7 L337.1 781.6 L338.6 782.5 L337.5 779.5 L339.8 783.9 L341.2 783.9 L339.5 778.6 L342.1 782.1 L343.5 780.1 L343.8 785.3 L344.1 778.7 L346.4 784.7 L346.7 784.1 L346.7 781.9 L345.6 778.4 L347.0 780.2 L349.5 782.1 L348.8 778.9 L349.2 776.9" fill="none" stroke="#4a4a4c" stroke-width="0.8" stroke-linejoin="round"/>
<path d="M295.7 802.1 L296.8 804.1 L297.9 803.8 L298.0 801.8 L299.9 802.3 L299.0 798.2 L302.1 800.2 L302.5 801.2 L301.5 797.6 L304.2 798.7 L303.5 796.6 L305.7 799.6 L306.5 798.4 L306.3 796.3 L308.4 798.0 L308.2 794.7 L308.1 792.9 L309.9 793.8 L312.4 793.8 L312.5 792.2 L312.9 793.6 L314.5 794.6 L314.6 792.0 L318.2 792.9 L318.2 791.4 L317.0 790.7 L319.1 791.3 L318.1 788.4 L320.4 789.2 L322.5 789.6 L322.4 789.2" fill="none" stroke="#4a4a4c" stroke-width="0.8" stroke-linejoin="round"/>
<path d="M24.0 885.8 L25.6 886.2 L27.2 886.0 L28.8 886.2 L30.2 884.4 L31.8 884.3 L33.3 883.9 L35.1 884.2 L36.5 885.5 L38.5 884.5 L39.9 885.9 L41.7 885.6 L43.3 886.2 L44.8 887.0 L46.2 888.3 L48.0 888.1 L49.7 887.1 L51.1 888.0 L52.6 887.9 L53.9 889.9 L55.4 890.0 L56.9 890.2 L58.4 890.5 L60.0 890.2 L61.6 891.2 L63.3 890.9 L65.0 889.7 L66.6 891.2 L68.3 890.4 L70.0 890.7 L71.7 890.7 L73.3 890.3 L75.0 890.2 L76.7 890.3 L78.3 890.1 L80.1 890.1 L81.3 891.7 L82.8 892.1 L84.2 893.0 L86.0 892.8 L87.6 893.0 L89.0 893.9 L90.9 892.9 L92.1 894.6 L93.7 894.7" fill="none" stroke="#55565a" stroke-width="2.4" stroke-linecap="round" stroke-linejoin="round"/>
<path d="M104 893.900l3-.3M111 893.200l3-.3M118 892.800l4-.5M125 892.5l3-.8M2 866.500l4 7 2 6M15 874l1.200 1M133 822.800l2.500-.5M137 833.700l2 .5M126.200 762l1.500 4 1.500 3M262.500 862.500l.8 1.500M245 870l.8 1.500" fill="none" stroke="#55565a" stroke-width="1.8" stroke-linecap="round" stroke-linejoin="round"/>
<path d="M196.0 871.0 L197.1 872.3 L198.4 873.1 L200.1 871.0 L201.2 872.9 L202.5 873.0 L204.1 872.7 L204.8 870.7 L206.0 869.9 L207.7 870.6 L209.5 871.3 L210.1 869.2 L211.7 869.5 L213.1 868.8 L213.9 870.7 L215.2 871.7 L217.3 870.5 L217.9 873.0 L220.3 871.5 L220.6 873.7 L221.7 874.7 L224.3 873.4 L224.4 875.8 L226.0 876.0M175.9 879.7 L177.4 880.1 L178.6 878.9 L179.8 878.2 L181.3 878.6 L182.7 878.3 L184.0 878.0 L185.3 877.6 L186.5 876.7 L187.8 876.4 L189.5 877.2 L190.6 875.9 L192.0 876.2 L193.5 876.4 L194.9 876.3 L196.3 876.1 L197.2 874.0 L198.5 873.7 L200.0 874.0" fill="none" stroke="#55565a" stroke-width="1.6" stroke-linecap="round" stroke-linejoin="round"/>
<g class="b halo" text-anchor="middle">
<text x="510.5" y="196.5" font-size="26.7">Equal</text>
<text x="510.5" y="226.5" font-size="26.7">Chances</text>
<text x="391.5" y="405.6" font-size="26.7">Above</text>
<text x="1028" y="272.4" font-size="26.7">Above</text>
<text x="243.2" y="633.8" font-size="20.5">Above</text>
<text x="264.3" y="672.5" font-size="20.5">Equal</text>
<text x="263.5" y="696.2" font-size="20.5">Chances</text>
<text x="316" y="726.2" font-size="20.5">Below</text>
<text x="158" y="730.6" font-size="20.5">Above</text>
</g>
<text x="544" y="51.3" font-size="53.5" text-anchor="middle">Seasonal Temperature Outlook</text>
<text x="370.2" y="92.7" font-size="24" class="b">Valid:</text>
<text x="445.5" y="92.7" font-size="23.9">Sep-Oct-Nov 2022</text>
<text x="370.6" y="119.3" font-size="24.4" class="b">Issued:</text>
<text x="466.2" y="119.3" font-size="23.7">August 18, 2022</text>
<text x="739.4" y="697.6" font-size="19.9" class="b" text-anchor="middle">Probability (Percent Chance)</text>
<text x="648.3" y="722.9" font-size="15" class="b" text-anchor="middle">Above Normal</text>
<text x="833" y="722.9" font-size="15" class="b" text-anchor="middle">Below Normal</text>
<rect class="sw" x="597.8" y="739.5" width="33.8" height="15" fill="#E9B569"/>
<text class="lg" x="639" y="751.9">33-40%</text>
<rect class="sw" x="849.2" y="739.5" width="33.6" height="15" fill="#C5CDE8"/>
<text class="lg" x="840.8" y="751.9" text-anchor="end">33-40%</text>
<rect class="sw" x="597.8" y="763.3" width="33.8" height="15" fill="#E8924B"/>
<text class="lg" x="639" y="775.7">40-50%</text>
<rect class="sw" x="849.2" y="763.3" width="33.6" height="15" fill="#A9C7E4"/>
<text class="lg" x="840.8" y="775.7" text-anchor="end">40-50%</text>
<rect class="sw" x="597.8" y="786.9" width="33.8" height="15" fill="#DF5E30"/>
<text class="lg" x="639" y="799.3">50-60%</text>
<rect class="sw" x="849.2" y="786.9" width="33.6" height="15" fill="#85BDE6"/>
<text class="lg" x="840.8" y="799.3" text-anchor="end">50-60%</text>
<rect class="sw" x="597.8" y="810.6" width="33.8" height="15" fill="#CD2E29"/>
<text class="lg" x="639" y="823.0">60-70%</text>
<rect class="sw" x="849.2" y="810.6" width="33.6" height="15" fill="#40A6DF"/>
<text class="lg" x="840.8" y="823.0" text-anchor="end">60-70%</text>
<rect class="sw" x="597.8" y="834.4" width="33.8" height="15" fill="#D32B4A"/>
<text class="lg" x="639" y="846.8">70-80%</text>
<rect class="sw" x="849.2" y="834.4" width="33.6" height="15" fill="#0B64AC"/>
<text class="lg" x="840.8" y="846.8" text-anchor="end">70-80%</text>
<rect class="sw" x="597.8" y="858.3" width="33.8" height="15" fill="#8D3039"/>
<text class="lg" x="639" y="870.7">80-90%</text>
<rect class="sw" x="849.2" y="858.3" width="33.6" height="15" fill="#362384"/>
<text class="lg" x="840.8" y="870.7" text-anchor="end">80-90%</text>
<rect class="sw" x="597.8" y="882.2" width="33.8" height="15" fill="#5D1F25"/>
<text class="lg" x="639" y="894.6">90-100%</text>
<rect class="sw" x="849.2" y="882.2" width="33.6" height="15" fill="#251D5E"/>
<text class="lg" x="840.8" y="894.6" text-anchor="end">90-100%</text>
<text x="739.7" y="789" font-size="14.8" class="b" text-anchor="middle">Equal</text>
<text x="739.7" y="806" font-size="14.8" class="b" text-anchor="middle">Chances</text>
<rect class="sw" x="724" y="823" width="33.3" height="14" fill="#fff"/>
<text class="cat" x="533.5" y="753.2">Leaning</text><text class="cat" x="533.5" y="773">Above</text>
<text class="cat" x="533.5" y="836.8">Likely</text><text class="cat" x="533.5" y="856.6">Above</text>
<text class="cat" x="950" y="753.2">Leaning</text><text class="cat" x="950" y="773">Below</text>
<text class="cat" x="950" y="836.8">Likely</text><text class="cat" x="950" y="856.6">Below</text>
<path class="br" d="M592.6 737.8 Q579.5 737.8 579.5 746.5 Q579.5 757.3 567.5 758.5 Q579.5 759.7 579.5 770.5 Q579.5 779.2 592.6 779.2"/>
<path class="br" d="M592.6 787.0 Q579.5 787.0 579.5 810.4 Q579.5 839.3 567.5 842.6 Q579.5 845.9 579.5 874.8 Q579.5 898.2 592.6 898.2"/>
<path class="br" d="M890.5 737.8 Q903.9 737.8 903.9 746.5 Q903.9 757.3 916.2 758.5 Q903.9 759.7 903.9 770.5 Q903.9 779.2 890.5 779.2"/>
<path class="br" d="M890.5 787.0 Q903.9 787.0 903.9 810.4 Q903.9 839.3 916.2 842.6 Q903.9 845.9 903.9 874.8 Q903.9 898.2 890.5 898.2"/>
<g>
<circle cx="68.4" cy="36.3" r="33.2" fill="#1f8fd0" stroke="#123a63" stroke-width="1.2"/>
<circle cx="68.4" cy="36.3" r="25.6" fill="#fff" stroke="#123a63" stroke-width="0.8"/>
<text font-size="5.3" class="b" style="fill:#fff" letter-spacing="0.1"><textPath href="#sealTop" startOffset="50%" text-anchor="middle">DEPARTMENT OF COMMERCE</textPath></text>
<text font-size="5.3" class="b" style="fill:#fff" letter-spacing="0.2"><textPath href="#sealBot" startOffset="50%" text-anchor="middle">UNITED STATES OF AMERICA</textPath></text>
<circle cx="39.2" cy="36.3" r="0.9" fill="#fff"/><circle cx="97.6" cy="36.3" r="0.9" fill="#fff"/>
<path d="M55 31.5 H82 V33 H81.2 V52 Q81 55.5 68.4 60 Q56 55.5 55.8 52 V33 H55Z" fill="#d7a91c" stroke="#1a2a44" stroke-width="0.8"/>
<path d="M55.8 32.3 H81.2 V44.5 H55.8Z" fill="#1b8ed0"/>
<path d="M55 31.2 H82 V32.6 H55Z" fill="#1a2a44"/>
<path d="M57 40.5 L60 37.5 L65 36 L67 33.5 L68 36 L71 33.5 L72 36 L74.5 34 L75.5 39 L77 41 L66 42.5Z" fill="#22324f"/>
<path d="M60.5 38 H74 M61.5 39.6 H73" stroke="#e8eef5" stroke-width="0.9" fill="none"/>
<path d="M57 42.5 Q68 45 80 41.8 L80 44.5 H57Z" fill="#15466f"/>
<path d="M67.6 44.5 H69.4 V57.5 L68.5 59 L67.6 57.5Z" fill="#22324f"/>
<path d="M59.6 14.2 L62.2 15.2 Q65.8 18.6 67.9 22.6 L68 27.4 Q64.6 26 62.4 22.4 Q60.300 18.600 59.6 14.2Z" fill="#3b2c17"/>
<path d="M77.9 14.4 L75.3 15.4 Q71.7 18.8 69.6 22.8 L69.5 27.4 Q72.9 26 75.1 22.4 Q77.200 18.600 77.9 14.4Z" fill="#3b2c17"/>
<path d="M61.2 16.2 Q64.5 19.5 66.8 24.8 M76.3 16.400 Q73 19.700 70.700 24.800" stroke="#a48423" stroke-width="1.1" fill="none"/>
<path d="M67.3 21.5 Q68.75 19.8 70.2 21.5 L70.3 28 H67.2Z" fill="#c9a11f"/>
<circle cx="68.75" cy="19.6" r="1.5" fill="#4a3a22"/><circle cx="68.6" cy="19.3" r="0.7" fill="#e9e4d6"/>
<path d="M63.4 28.2 H74.2 V30 H63.4Z" fill="#3b2c17"/>
</g>
<g>
<clipPath id="nc"><circle cx="1019.9" cy="36.3" r="33.8"/></clipPath>
<g clip-path="url(#nc)">
<rect x="980" y="0" width="80" height="75" fill="#fff"/>
<path d="M990.4 18.2 L992.3 16.8 C997.2 19.5 1000.9 25.4 1005.0 31.3 C1009.1 37.2 1014.5 42.2 1020.0 42.2 C1025.4 42.2 1030.4 36.3 1034.0 29.1 C1037.7 22.3 1041.8 18.6 1046.7 16.8 L1056.3 9.1 L1056.3 -1.8 L983.6 -1.8 L983.6 18.2Z" fill="#0a3b95"/>
<path d="M983.6 27.2 L989.5 27.2 C993.6 30.4 997.2 35.4 1002.7 39.5 C1008.1 43.1 1013.6 44.5 1019.5 44.5 C1017.2 46.3 1013.6 48.1 1009.5 49.5 C1015.4 50.9 1021.8 48.1 1026.3 45.1 L1034.0 43.6 L1028.1 42.2 C1035.4 37.2 1042.7 28.2 1049.5 21.3 L1057.2 22.7 L1057.2 74.5 L983.6 74.5Z" fill="#0b8ad5"/>
</g>
<text x="1019.8" y="24.9" font-size="12" class="b" style="fill:#fff" text-anchor="middle" textLength="26.5" lengthAdjust="spacingAndGlyphs">NOAA</text>
</g>
</svg></body></html>
